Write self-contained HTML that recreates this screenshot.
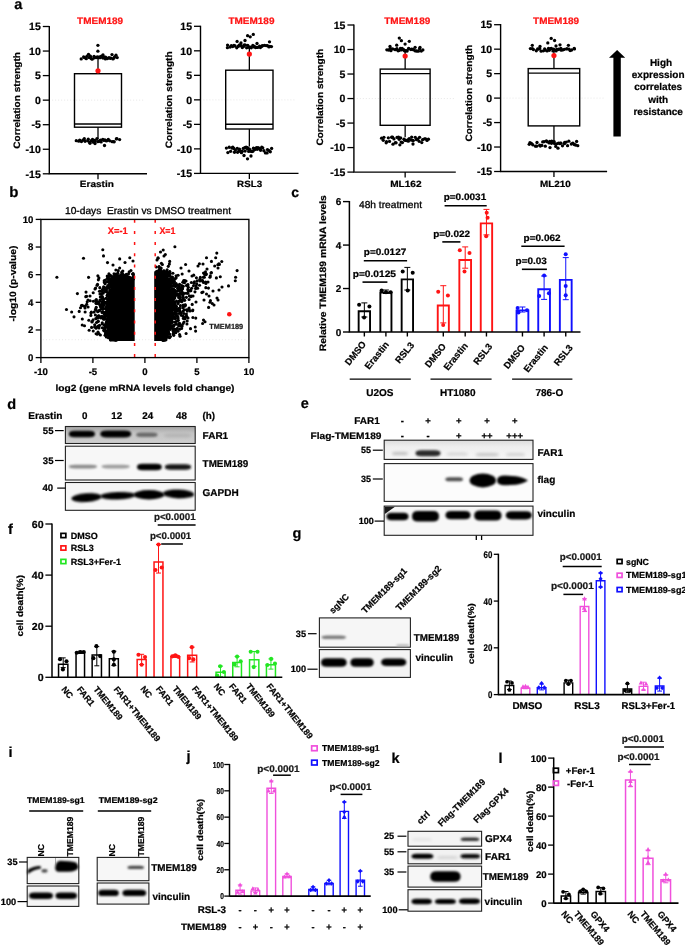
<!DOCTYPE html>
<html><head><meta charset="utf-8"><title>Figure</title>
<style>html,body{margin:0;padding:0;background:#fff;}body{width:685px;height:946px;overflow:hidden;font-family:"Liberation Sans",sans-serif;}svg{display:block;will-change:transform;}</style>
</head><body>
<svg width="685" height="946" viewBox="0 0 685 946" font-family="'Liberation Sans', sans-serif" font-weight="bold" text-rendering="geometricPrecision">
<text x="14.2" y="8.6" font-size="14.5" stroke="#000" stroke-width="0.22">a</text>
<line x1="52.3" y1="100.15" x2="145" y2="100.15" stroke="#cfcfcf" stroke-width="0.6" stroke-dasharray="0.8 2.2"/>
<path d="M49.3 25.9V173.8H147" stroke="#000" stroke-width="1.4" fill="none"/>
<line x1="42.8" y1="26.5" x2="49.3" y2="26.5" stroke="#000" stroke-width="1.3"/>
<text x="40.8" y="30.2" font-size="10.5" text-anchor="end" stroke="#000" stroke-width="0.22">15</text>
<line x1="42.8" y1="51.05" x2="49.3" y2="51.05" stroke="#000" stroke-width="1.3"/>
<text x="40.8" y="54.75" font-size="10.5" text-anchor="end" stroke="#000" stroke-width="0.22">10</text>
<line x1="42.8" y1="75.6" x2="49.3" y2="75.6" stroke="#000" stroke-width="1.3"/>
<text x="40.8" y="79.3" font-size="10.5" text-anchor="end" stroke="#000" stroke-width="0.22">5</text>
<line x1="42.8" y1="100.15" x2="49.3" y2="100.15" stroke="#000" stroke-width="1.3"/>
<text x="40.8" y="103.85" font-size="10.5" text-anchor="end" stroke="#000" stroke-width="0.22">0</text>
<line x1="42.8" y1="124.7" x2="49.3" y2="124.7" stroke="#000" stroke-width="1.3"/>
<text x="40.8" y="128.4" font-size="10.5" text-anchor="end" stroke="#000" stroke-width="0.22">-5</text>
<line x1="42.8" y1="149.25" x2="49.3" y2="149.25" stroke="#000" stroke-width="1.3"/>
<text x="40.8" y="152.95" font-size="10.5" text-anchor="end" stroke="#000" stroke-width="0.22">-10</text>
<line x1="42.8" y1="173.8" x2="49.3" y2="173.8" stroke="#000" stroke-width="1.3"/>
<text x="40.8" y="177.5" font-size="10.5" text-anchor="end" stroke="#000" stroke-width="0.22">-15</text>
<line x1="98" y1="173.8" x2="98" y2="179.3" stroke="#000" stroke-width="1.3"/>
<text x="96.8" y="186.8" font-size="9" text-anchor="middle" stroke="#000" stroke-width="0.22" textLength="34" lengthAdjust="spacingAndGlyphs">Erastin</text>
<text x="20" y="100.4" font-size="9.3" text-anchor="middle" stroke="#000" stroke-width="0.22" transform="rotate(-90 20 100.4)" textLength="96.8" lengthAdjust="spacingAndGlyphs">Correlation strength</text>
<text x="100.1" y="24.4" font-size="9.4" text-anchor="middle" fill="#ff1414" stroke="#ff1414" stroke-width="0.22" textLength="46" lengthAdjust="spacingAndGlyphs">TMEM189</text>
<line x1="98" y1="57.5" x2="98" y2="73.7" stroke="#000" stroke-width="1.3"/>
<line x1="98" y1="127.2" x2="98" y2="139" stroke="#000" stroke-width="1.3"/>
<rect x="74.5" y="73.7" width="47" height="53.5" fill="none" stroke="#000" stroke-width="1.4"/>
<line x1="74.5" y1="124" x2="121.5" y2="124" stroke="#000" stroke-width="1.4"/>
<circle cx="81.2" cy="58.91" r="1.65" fill="#000"/>
<circle cx="83.62" cy="57.02" r="1.65" fill="#000"/>
<circle cx="84.67" cy="57.64" r="1.65" fill="#000"/>
<circle cx="86.28" cy="58.72" r="1.65" fill="#000"/>
<circle cx="86.89" cy="56.29" r="1.65" fill="#000"/>
<circle cx="89.18" cy="57.58" r="1.65" fill="#000"/>
<circle cx="90.36" cy="56.21" r="1.65" fill="#000"/>
<circle cx="91.2" cy="58.51" r="1.65" fill="#000"/>
<circle cx="92.14" cy="59.22" r="1.65" fill="#000"/>
<circle cx="94.07" cy="56.3" r="1.65" fill="#000"/>
<circle cx="94.21" cy="57.93" r="1.65" fill="#000"/>
<circle cx="96.27" cy="57.42" r="1.65" fill="#000"/>
<circle cx="96.55" cy="57.55" r="1.65" fill="#000"/>
<circle cx="97.37" cy="56.91" r="1.65" fill="#000"/>
<circle cx="98.73" cy="57.79" r="1.65" fill="#000"/>
<circle cx="99.46" cy="56.94" r="1.65" fill="#000"/>
<circle cx="100.39" cy="57.67" r="1.65" fill="#000"/>
<circle cx="101.45" cy="56.27" r="1.65" fill="#000"/>
<circle cx="103.05" cy="57.98" r="1.65" fill="#000"/>
<circle cx="103.92" cy="56.79" r="1.65" fill="#000"/>
<circle cx="105.45" cy="58.95" r="1.65" fill="#000"/>
<circle cx="105.6" cy="57.26" r="1.65" fill="#000"/>
<circle cx="107.5" cy="58.48" r="1.65" fill="#000"/>
<circle cx="109.02" cy="57.55" r="1.65" fill="#000"/>
<circle cx="110.18" cy="58.34" r="1.65" fill="#000"/>
<circle cx="110.8" cy="58.08" r="1.65" fill="#000"/>
<circle cx="112.96" cy="58.91" r="1.65" fill="#000"/>
<circle cx="113.83" cy="58.08" r="1.65" fill="#000"/>
<circle cx="114.59" cy="56.98" r="1.65" fill="#000"/>
<circle cx="117.19" cy="57.53" r="1.65" fill="#000"/>
<circle cx="76.28" cy="140.69" r="1.65" fill="#000"/>
<circle cx="78.7" cy="141.16" r="1.65" fill="#000"/>
<circle cx="79.73" cy="140.27" r="1.65" fill="#000"/>
<circle cx="81.44" cy="141.56" r="1.65" fill="#000"/>
<circle cx="82.92" cy="140.09" r="1.65" fill="#000"/>
<circle cx="84.31" cy="138.71" r="1.65" fill="#000"/>
<circle cx="85.08" cy="141.27" r="1.65" fill="#000"/>
<circle cx="87.7" cy="140.85" r="1.65" fill="#000"/>
<circle cx="88.24" cy="139.25" r="1.65" fill="#000"/>
<circle cx="89.65" cy="142.33" r="1.65" fill="#000"/>
<circle cx="91.22" cy="140.65" r="1.65" fill="#000"/>
<circle cx="92.51" cy="139.48" r="1.65" fill="#000"/>
<circle cx="93.26" cy="142.22" r="1.65" fill="#000"/>
<circle cx="94.46" cy="140.34" r="1.65" fill="#000"/>
<circle cx="95.21" cy="140.68" r="1.65" fill="#000"/>
<circle cx="96.97" cy="138.62" r="1.65" fill="#000"/>
<circle cx="97.79" cy="141.72" r="1.65" fill="#000"/>
<circle cx="98.88" cy="141.41" r="1.65" fill="#000"/>
<circle cx="99.82" cy="140.57" r="1.65" fill="#000"/>
<circle cx="100.61" cy="140.22" r="1.65" fill="#000"/>
<circle cx="101.14" cy="141.91" r="1.65" fill="#000"/>
<circle cx="102.83" cy="139.36" r="1.65" fill="#000"/>
<circle cx="103.92" cy="140.44" r="1.65" fill="#000"/>
<circle cx="104.94" cy="139.92" r="1.65" fill="#000"/>
<circle cx="106.4" cy="140.97" r="1.65" fill="#000"/>
<circle cx="107.77" cy="140.34" r="1.65" fill="#000"/>
<circle cx="108.31" cy="139.47" r="1.65" fill="#000"/>
<circle cx="109.85" cy="140.82" r="1.65" fill="#000"/>
<circle cx="112.19" cy="141.63" r="1.65" fill="#000"/>
<circle cx="113.54" cy="141.7" r="1.65" fill="#000"/>
<circle cx="114.21" cy="141.8" r="1.65" fill="#000"/>
<circle cx="116.34" cy="138.92" r="1.65" fill="#000"/>
<circle cx="116.87" cy="138.66" r="1.65" fill="#000"/>
<circle cx="119.61" cy="139.55" r="1.65" fill="#000"/>
<circle cx="97.9" cy="45.3" r="1.65" fill="#000"/>
<circle cx="97.9" cy="51.2" r="1.65" fill="#000"/>
<circle cx="88.5" cy="54.3" r="1.65" fill="#000"/>
<circle cx="112" cy="54.6" r="1.65" fill="#000"/>
<circle cx="116" cy="55.2" r="1.65" fill="#000"/>
<circle cx="103" cy="55" r="1.65" fill="#000"/>
<circle cx="104.5" cy="145.5" r="1.65" fill="#000"/>
<circle cx="95" cy="143.5" r="1.65" fill="#000"/>
<circle cx="90" cy="143.3" r="1.65" fill="#000"/>
<circle cx="98" cy="70.8" r="2.6" fill="#ff1414"/>
<line x1="203.5" y1="99.85" x2="296.5" y2="99.85" stroke="#cfcfcf" stroke-width="0.6" stroke-dasharray="0.8 2.2"/>
<path d="M200.5 25.7V173.4H298.5" stroke="#000" stroke-width="1.4" fill="none"/>
<line x1="194" y1="26.3" x2="200.5" y2="26.3" stroke="#000" stroke-width="1.3"/>
<text x="192" y="30" font-size="10.5" text-anchor="end" stroke="#000" stroke-width="0.22">15</text>
<line x1="194" y1="50.82" x2="200.5" y2="50.82" stroke="#000" stroke-width="1.3"/>
<text x="192" y="54.52" font-size="10.5" text-anchor="end" stroke="#000" stroke-width="0.22">10</text>
<line x1="194" y1="75.33" x2="200.5" y2="75.33" stroke="#000" stroke-width="1.3"/>
<text x="192" y="79.03" font-size="10.5" text-anchor="end" stroke="#000" stroke-width="0.22">5</text>
<line x1="194" y1="99.85" x2="200.5" y2="99.85" stroke="#000" stroke-width="1.3"/>
<text x="192" y="103.55" font-size="10.5" text-anchor="end" stroke="#000" stroke-width="0.22">0</text>
<line x1="194" y1="124.37" x2="200.5" y2="124.37" stroke="#000" stroke-width="1.3"/>
<text x="192" y="128.07" font-size="10.5" text-anchor="end" stroke="#000" stroke-width="0.22">-5</text>
<line x1="194" y1="148.88" x2="200.5" y2="148.88" stroke="#000" stroke-width="1.3"/>
<text x="192" y="152.58" font-size="10.5" text-anchor="end" stroke="#000" stroke-width="0.22">-10</text>
<line x1="194" y1="173.4" x2="200.5" y2="173.4" stroke="#000" stroke-width="1.3"/>
<text x="192" y="177.1" font-size="10.5" text-anchor="end" stroke="#000" stroke-width="0.22">-15</text>
<line x1="249.35" y1="173.4" x2="249.35" y2="178.9" stroke="#000" stroke-width="1.3"/>
<text x="249.6" y="186.8" font-size="9" text-anchor="middle" stroke="#000" stroke-width="0.22" textLength="25" lengthAdjust="spacingAndGlyphs">RSL3</text>
<text x="172" y="99.8" font-size="9.3" text-anchor="middle" stroke="#000" stroke-width="0.22" transform="rotate(-90 172 99.8)" textLength="96.8" lengthAdjust="spacingAndGlyphs">Correlation strength</text>
<text x="251.45" y="24.4" font-size="9.4" text-anchor="middle" fill="#ff1414" stroke="#ff1414" stroke-width="0.22" textLength="46" lengthAdjust="spacingAndGlyphs">TMEM189</text>
<line x1="249.35" y1="47" x2="249.35" y2="70.2" stroke="#000" stroke-width="1.3"/>
<line x1="249.35" y1="129" x2="249.35" y2="146.6" stroke="#000" stroke-width="1.3"/>
<rect x="225.7" y="70.2" width="47.3" height="58.8" fill="none" stroke="#000" stroke-width="1.4"/>
<line x1="225.7" y1="124.3" x2="273" y2="124.3" stroke="#000" stroke-width="1.4"/>
<circle cx="227.43" cy="47.64" r="1.65" fill="#000"/>
<circle cx="227.58" cy="45.05" r="1.65" fill="#000"/>
<circle cx="230.16" cy="47.01" r="1.65" fill="#000"/>
<circle cx="231.34" cy="45.72" r="1.65" fill="#000"/>
<circle cx="232.63" cy="46.62" r="1.65" fill="#000"/>
<circle cx="233.95" cy="45.28" r="1.65" fill="#000"/>
<circle cx="235.07" cy="45.98" r="1.65" fill="#000"/>
<circle cx="236.74" cy="47.78" r="1.65" fill="#000"/>
<circle cx="238.27" cy="46.43" r="1.65" fill="#000"/>
<circle cx="238.87" cy="45.6" r="1.65" fill="#000"/>
<circle cx="239.58" cy="44.88" r="1.65" fill="#000"/>
<circle cx="241.25" cy="45.76" r="1.65" fill="#000"/>
<circle cx="242.29" cy="47.48" r="1.65" fill="#000"/>
<circle cx="243.55" cy="46.48" r="1.65" fill="#000"/>
<circle cx="244.31" cy="44.87" r="1.65" fill="#000"/>
<circle cx="245.45" cy="45.21" r="1.65" fill="#000"/>
<circle cx="246.64" cy="47.8" r="1.65" fill="#000"/>
<circle cx="247.77" cy="45.35" r="1.65" fill="#000"/>
<circle cx="248.9" cy="47.19" r="1.65" fill="#000"/>
<circle cx="249.68" cy="47.52" r="1.65" fill="#000"/>
<circle cx="250.65" cy="47.17" r="1.65" fill="#000"/>
<circle cx="251.23" cy="47.74" r="1.65" fill="#000"/>
<circle cx="252.85" cy="45.28" r="1.65" fill="#000"/>
<circle cx="253.68" cy="46.95" r="1.65" fill="#000"/>
<circle cx="254.43" cy="46.39" r="1.65" fill="#000"/>
<circle cx="255.56" cy="47.57" r="1.65" fill="#000"/>
<circle cx="256.71" cy="47.29" r="1.65" fill="#000"/>
<circle cx="257.7" cy="47.45" r="1.65" fill="#000"/>
<circle cx="259.55" cy="46.18" r="1.65" fill="#000"/>
<circle cx="260.37" cy="47.56" r="1.65" fill="#000"/>
<circle cx="261.83" cy="46.26" r="1.65" fill="#000"/>
<circle cx="262.48" cy="45.77" r="1.65" fill="#000"/>
<circle cx="264.43" cy="45.3" r="1.65" fill="#000"/>
<circle cx="266.07" cy="45.6" r="1.65" fill="#000"/>
<circle cx="267.48" cy="45.73" r="1.65" fill="#000"/>
<circle cx="268.98" cy="46.92" r="1.65" fill="#000"/>
<circle cx="269.77" cy="46.35" r="1.65" fill="#000"/>
<circle cx="271.47" cy="46.56" r="1.65" fill="#000"/>
<circle cx="226.39" cy="148.09" r="1.65" fill="#000"/>
<circle cx="227.87" cy="152.59" r="1.65" fill="#000"/>
<circle cx="229.2" cy="147.27" r="1.65" fill="#000"/>
<circle cx="230.62" cy="151.3" r="1.65" fill="#000"/>
<circle cx="231.87" cy="147.99" r="1.65" fill="#000"/>
<circle cx="232.82" cy="147.16" r="1.65" fill="#000"/>
<circle cx="233.84" cy="148.49" r="1.65" fill="#000"/>
<circle cx="234.47" cy="152.23" r="1.65" fill="#000"/>
<circle cx="235.42" cy="150.04" r="1.65" fill="#000"/>
<circle cx="237.26" cy="148.32" r="1.65" fill="#000"/>
<circle cx="237.63" cy="152.26" r="1.65" fill="#000"/>
<circle cx="238.86" cy="151.25" r="1.65" fill="#000"/>
<circle cx="239.47" cy="149.05" r="1.65" fill="#000"/>
<circle cx="240.58" cy="150.97" r="1.65" fill="#000"/>
<circle cx="241.45" cy="152.72" r="1.65" fill="#000"/>
<circle cx="242.33" cy="151.32" r="1.65" fill="#000"/>
<circle cx="243.24" cy="148.39" r="1.65" fill="#000"/>
<circle cx="244.82" cy="147.77" r="1.65" fill="#000"/>
<circle cx="245.14" cy="151.09" r="1.65" fill="#000"/>
<circle cx="246.15" cy="147.07" r="1.65" fill="#000"/>
<circle cx="247.45" cy="147.74" r="1.65" fill="#000"/>
<circle cx="247.49" cy="148.93" r="1.65" fill="#000"/>
<circle cx="248.71" cy="151.4" r="1.65" fill="#000"/>
<circle cx="249.08" cy="148.89" r="1.65" fill="#000"/>
<circle cx="249.78" cy="149.58" r="1.65" fill="#000"/>
<circle cx="251.16" cy="151.39" r="1.65" fill="#000"/>
<circle cx="252.09" cy="151.49" r="1.65" fill="#000"/>
<circle cx="252.9" cy="151.17" r="1.65" fill="#000"/>
<circle cx="253.43" cy="148.2" r="1.65" fill="#000"/>
<circle cx="254.48" cy="148.76" r="1.65" fill="#000"/>
<circle cx="254.87" cy="149.58" r="1.65" fill="#000"/>
<circle cx="256.51" cy="147.59" r="1.65" fill="#000"/>
<circle cx="257.19" cy="149.24" r="1.65" fill="#000"/>
<circle cx="258.09" cy="147.69" r="1.65" fill="#000"/>
<circle cx="259.52" cy="148.41" r="1.65" fill="#000"/>
<circle cx="260.18" cy="149.4" r="1.65" fill="#000"/>
<circle cx="260.61" cy="150.26" r="1.65" fill="#000"/>
<circle cx="261.78" cy="147.15" r="1.65" fill="#000"/>
<circle cx="262.73" cy="147.8" r="1.65" fill="#000"/>
<circle cx="263.89" cy="150.74" r="1.65" fill="#000"/>
<circle cx="265.46" cy="152.9" r="1.65" fill="#000"/>
<circle cx="267.1" cy="152.97" r="1.65" fill="#000"/>
<circle cx="267.44" cy="149.56" r="1.65" fill="#000"/>
<circle cx="268.65" cy="150.47" r="1.65" fill="#000"/>
<circle cx="270.3" cy="151.76" r="1.65" fill="#000"/>
<circle cx="271.64" cy="148.39" r="1.65" fill="#000"/>
<circle cx="237.1" cy="41.4" r="1.65" fill="#000"/>
<circle cx="245" cy="40.5" r="1.65" fill="#000"/>
<circle cx="247.6" cy="35.7" r="1.65" fill="#000"/>
<circle cx="250.2" cy="36.8" r="1.65" fill="#000"/>
<circle cx="253.3" cy="34.4" r="1.65" fill="#000"/>
<circle cx="269.5" cy="41.8" r="1.65" fill="#000"/>
<circle cx="241" cy="43" r="1.65" fill="#000"/>
<circle cx="257" cy="43.5" r="1.65" fill="#000"/>
<circle cx="247.5" cy="158.8" r="1.65" fill="#000"/>
<circle cx="244" cy="155.5" r="1.65" fill="#000"/>
<circle cx="251" cy="156" r="1.65" fill="#000"/>
<circle cx="249.35" cy="54.1" r="2.6" fill="#ff1414"/>
<line x1="356.9" y1="98.55" x2="453.8" y2="98.55" stroke="#cfcfcf" stroke-width="0.6" stroke-dasharray="0.8 2.2"/>
<path d="M353.9 24.4V172.1H455.8" stroke="#000" stroke-width="1.4" fill="none"/>
<line x1="347.4" y1="25" x2="353.9" y2="25" stroke="#000" stroke-width="1.3"/>
<text x="345.4" y="28.7" font-size="10.5" text-anchor="end" stroke="#000" stroke-width="0.22">15</text>
<line x1="347.4" y1="49.52" x2="353.9" y2="49.52" stroke="#000" stroke-width="1.3"/>
<text x="345.4" y="53.22" font-size="10.5" text-anchor="end" stroke="#000" stroke-width="0.22">10</text>
<line x1="347.4" y1="74.03" x2="353.9" y2="74.03" stroke="#000" stroke-width="1.3"/>
<text x="345.4" y="77.73" font-size="10.5" text-anchor="end" stroke="#000" stroke-width="0.22">5</text>
<line x1="347.4" y1="98.55" x2="353.9" y2="98.55" stroke="#000" stroke-width="1.3"/>
<text x="345.4" y="102.25" font-size="10.5" text-anchor="end" stroke="#000" stroke-width="0.22">0</text>
<line x1="347.4" y1="123.07" x2="353.9" y2="123.07" stroke="#000" stroke-width="1.3"/>
<text x="345.4" y="126.77" font-size="10.5" text-anchor="end" stroke="#000" stroke-width="0.22">-5</text>
<line x1="347.4" y1="147.58" x2="353.9" y2="147.58" stroke="#000" stroke-width="1.3"/>
<text x="345.4" y="151.28" font-size="10.5" text-anchor="end" stroke="#000" stroke-width="0.22">-10</text>
<line x1="347.4" y1="172.1" x2="353.9" y2="172.1" stroke="#000" stroke-width="1.3"/>
<text x="345.4" y="175.8" font-size="10.5" text-anchor="end" stroke="#000" stroke-width="0.22">-15</text>
<line x1="405.15" y1="172.1" x2="405.15" y2="177.6" stroke="#000" stroke-width="1.3"/>
<text x="405.9" y="186.8" font-size="9" text-anchor="middle" stroke="#000" stroke-width="0.22" textLength="31.4" lengthAdjust="spacingAndGlyphs">ML162</text>
<text x="322.8" y="97.2" font-size="9.3" text-anchor="middle" stroke="#000" stroke-width="0.22" transform="rotate(-90 322.8 97.2)" textLength="96.8" lengthAdjust="spacingAndGlyphs">Correlation strength</text>
<text x="407.25" y="24.4" font-size="9.4" text-anchor="middle" fill="#ff1414" stroke="#ff1414" stroke-width="0.22" textLength="46" lengthAdjust="spacingAndGlyphs">TMEM189</text>
<line x1="405.15" y1="51" x2="405.15" y2="69.1" stroke="#000" stroke-width="1.3"/>
<line x1="405.15" y1="125.3" x2="405.15" y2="137.2" stroke="#000" stroke-width="1.3"/>
<rect x="380.2" y="69.1" width="49.9" height="56.2" fill="none" stroke="#000" stroke-width="1.4"/>
<line x1="380.2" y1="73.6" x2="430.1" y2="73.6" stroke="#000" stroke-width="1.4"/>
<circle cx="386.86" cy="49.83" r="1.65" fill="#000"/>
<circle cx="388.55" cy="50.01" r="1.65" fill="#000"/>
<circle cx="390.35" cy="48.4" r="1.65" fill="#000"/>
<circle cx="390.9" cy="50.71" r="1.65" fill="#000"/>
<circle cx="392.61" cy="48.9" r="1.65" fill="#000"/>
<circle cx="394.89" cy="49.61" r="1.65" fill="#000"/>
<circle cx="395.95" cy="49.63" r="1.65" fill="#000"/>
<circle cx="396.93" cy="48.65" r="1.65" fill="#000"/>
<circle cx="398.12" cy="50.8" r="1.65" fill="#000"/>
<circle cx="399.14" cy="50.42" r="1.65" fill="#000"/>
<circle cx="400.42" cy="48.39" r="1.65" fill="#000"/>
<circle cx="401.58" cy="49.97" r="1.65" fill="#000"/>
<circle cx="402.14" cy="48.29" r="1.65" fill="#000"/>
<circle cx="403.69" cy="49.62" r="1.65" fill="#000"/>
<circle cx="404.49" cy="50.84" r="1.65" fill="#000"/>
<circle cx="405.41" cy="50.96" r="1.65" fill="#000"/>
<circle cx="406.06" cy="50.6" r="1.65" fill="#000"/>
<circle cx="407.1" cy="51.01" r="1.65" fill="#000"/>
<circle cx="408.59" cy="48.49" r="1.65" fill="#000"/>
<circle cx="408.87" cy="48.85" r="1.65" fill="#000"/>
<circle cx="410.92" cy="49.51" r="1.65" fill="#000"/>
<circle cx="411.69" cy="49.1" r="1.65" fill="#000"/>
<circle cx="412.74" cy="49.36" r="1.65" fill="#000"/>
<circle cx="413.78" cy="49.96" r="1.65" fill="#000"/>
<circle cx="415.36" cy="50.91" r="1.65" fill="#000"/>
<circle cx="416.81" cy="50.99" r="1.65" fill="#000"/>
<circle cx="418.42" cy="51.17" r="1.65" fill="#000"/>
<circle cx="419.57" cy="48.69" r="1.65" fill="#000"/>
<circle cx="421.29" cy="51.09" r="1.65" fill="#000"/>
<circle cx="422.86" cy="49.91" r="1.65" fill="#000"/>
<circle cx="381.59" cy="138.22" r="1.65" fill="#000"/>
<circle cx="383.25" cy="140.33" r="1.65" fill="#000"/>
<circle cx="383.92" cy="137.37" r="1.65" fill="#000"/>
<circle cx="386.17" cy="142.74" r="1.65" fill="#000"/>
<circle cx="386.5" cy="141.64" r="1.65" fill="#000"/>
<circle cx="388.34" cy="137.87" r="1.65" fill="#000"/>
<circle cx="389.53" cy="141.46" r="1.65" fill="#000"/>
<circle cx="391.61" cy="137.26" r="1.65" fill="#000"/>
<circle cx="392.55" cy="137.26" r="1.65" fill="#000"/>
<circle cx="393.94" cy="138.92" r="1.65" fill="#000"/>
<circle cx="395.35" cy="142.69" r="1.65" fill="#000"/>
<circle cx="396.09" cy="142.79" r="1.65" fill="#000"/>
<circle cx="397.03" cy="137.45" r="1.65" fill="#000"/>
<circle cx="398.49" cy="137.18" r="1.65" fill="#000"/>
<circle cx="399.15" cy="139.37" r="1.65" fill="#000"/>
<circle cx="400.67" cy="137.91" r="1.65" fill="#000"/>
<circle cx="401.12" cy="142.03" r="1.65" fill="#000"/>
<circle cx="402.42" cy="142.56" r="1.65" fill="#000"/>
<circle cx="403.97" cy="139.19" r="1.65" fill="#000"/>
<circle cx="404.5" cy="140.02" r="1.65" fill="#000"/>
<circle cx="405.6" cy="140.45" r="1.65" fill="#000"/>
<circle cx="406.47" cy="140.6" r="1.65" fill="#000"/>
<circle cx="407.83" cy="139.94" r="1.65" fill="#000"/>
<circle cx="408.33" cy="141.18" r="1.65" fill="#000"/>
<circle cx="409.17" cy="138.75" r="1.65" fill="#000"/>
<circle cx="411.04" cy="140.02" r="1.65" fill="#000"/>
<circle cx="411.67" cy="137.07" r="1.65" fill="#000"/>
<circle cx="412.65" cy="140.36" r="1.65" fill="#000"/>
<circle cx="413.35" cy="140.57" r="1.65" fill="#000"/>
<circle cx="415.27" cy="137.35" r="1.65" fill="#000"/>
<circle cx="416.49" cy="139.7" r="1.65" fill="#000"/>
<circle cx="417.82" cy="139.04" r="1.65" fill="#000"/>
<circle cx="419.15" cy="141.28" r="1.65" fill="#000"/>
<circle cx="419.56" cy="137.35" r="1.65" fill="#000"/>
<circle cx="421.78" cy="142.59" r="1.65" fill="#000"/>
<circle cx="422.57" cy="139.65" r="1.65" fill="#000"/>
<circle cx="424.46" cy="138.86" r="1.65" fill="#000"/>
<circle cx="425.57" cy="138.81" r="1.65" fill="#000"/>
<circle cx="427.04" cy="140.45" r="1.65" fill="#000"/>
<circle cx="428.44" cy="139.19" r="1.65" fill="#000"/>
<circle cx="399.3" cy="38.1" r="1.65" fill="#000"/>
<circle cx="401.4" cy="40.7" r="1.65" fill="#000"/>
<circle cx="409.3" cy="41.3" r="1.65" fill="#000"/>
<circle cx="396.7" cy="45.2" r="1.65" fill="#000"/>
<circle cx="405.1" cy="44.1" r="1.65" fill="#000"/>
<circle cx="415.1" cy="47.3" r="1.65" fill="#000"/>
<circle cx="390" cy="46.5" r="1.65" fill="#000"/>
<circle cx="420" cy="47.5" r="1.65" fill="#000"/>
<circle cx="399.9" cy="144.8" r="1.65" fill="#000"/>
<circle cx="393" cy="144.2" r="1.65" fill="#000"/>
<circle cx="413" cy="144" r="1.65" fill="#000"/>
<circle cx="405.15" cy="56" r="2.6" fill="#ff1414"/>
<line x1="503.6" y1="98.1" x2="605.1" y2="98.1" stroke="#cfcfcf" stroke-width="0.6" stroke-dasharray="0.8 2.2"/>
<path d="M500.6 24.1V171.5H607.1" stroke="#000" stroke-width="1.4" fill="none"/>
<line x1="494.1" y1="24.7" x2="500.6" y2="24.7" stroke="#000" stroke-width="1.3"/>
<text x="492.1" y="28.4" font-size="10.5" text-anchor="end" stroke="#000" stroke-width="0.22">15</text>
<line x1="494.1" y1="49.17" x2="500.6" y2="49.17" stroke="#000" stroke-width="1.3"/>
<text x="492.1" y="52.87" font-size="10.5" text-anchor="end" stroke="#000" stroke-width="0.22">10</text>
<line x1="494.1" y1="73.63" x2="500.6" y2="73.63" stroke="#000" stroke-width="1.3"/>
<text x="492.1" y="77.33" font-size="10.5" text-anchor="end" stroke="#000" stroke-width="0.22">5</text>
<line x1="494.1" y1="98.1" x2="500.6" y2="98.1" stroke="#000" stroke-width="1.3"/>
<text x="492.1" y="101.8" font-size="10.5" text-anchor="end" stroke="#000" stroke-width="0.22">0</text>
<line x1="494.1" y1="122.57" x2="500.6" y2="122.57" stroke="#000" stroke-width="1.3"/>
<text x="492.1" y="126.27" font-size="10.5" text-anchor="end" stroke="#000" stroke-width="0.22">-5</text>
<line x1="494.1" y1="147.03" x2="500.6" y2="147.03" stroke="#000" stroke-width="1.3"/>
<text x="492.1" y="150.73" font-size="10.5" text-anchor="end" stroke="#000" stroke-width="0.22">-10</text>
<line x1="494.1" y1="171.5" x2="500.6" y2="171.5" stroke="#000" stroke-width="1.3"/>
<text x="492.1" y="175.2" font-size="10.5" text-anchor="end" stroke="#000" stroke-width="0.22">-15</text>
<line x1="553.95" y1="171.5" x2="553.95" y2="177" stroke="#000" stroke-width="1.3"/>
<text x="555.3" y="186.8" font-size="9" text-anchor="middle" stroke="#000" stroke-width="0.22" textLength="30.8" lengthAdjust="spacingAndGlyphs">ML210</text>
<text x="471.6" y="93.2" font-size="9.3" text-anchor="middle" stroke="#000" stroke-width="0.22" transform="rotate(-90 471.6 93.2)" textLength="96.8" lengthAdjust="spacingAndGlyphs">Correlation strength</text>
<text x="556.05" y="24.4" font-size="9.4" text-anchor="middle" fill="#ff1414" stroke="#ff1414" stroke-width="0.22" textLength="46" lengthAdjust="spacingAndGlyphs">TMEM189</text>
<line x1="553.95" y1="50.5" x2="553.95" y2="68.6" stroke="#000" stroke-width="1.3"/>
<line x1="553.95" y1="125.9" x2="553.95" y2="141" stroke="#000" stroke-width="1.3"/>
<rect x="528.2" y="68.6" width="51.5" height="57.3" fill="none" stroke="#000" stroke-width="1.4"/>
<line x1="528.2" y1="73.1" x2="579.7" y2="73.1" stroke="#000" stroke-width="1.4"/>
<circle cx="530.4" cy="48.53" r="1.65" fill="#000"/>
<circle cx="532.32" cy="48.7" r="1.65" fill="#000"/>
<circle cx="533.41" cy="49.49" r="1.65" fill="#000"/>
<circle cx="536.32" cy="50.76" r="1.65" fill="#000"/>
<circle cx="537.61" cy="48.91" r="1.65" fill="#000"/>
<circle cx="538.75" cy="49.09" r="1.65" fill="#000"/>
<circle cx="539.68" cy="48.54" r="1.65" fill="#000"/>
<circle cx="541.17" cy="51.17" r="1.65" fill="#000"/>
<circle cx="543.38" cy="50.78" r="1.65" fill="#000"/>
<circle cx="544.66" cy="48.82" r="1.65" fill="#000"/>
<circle cx="545.32" cy="50.21" r="1.65" fill="#000"/>
<circle cx="547.1" cy="50.93" r="1.65" fill="#000"/>
<circle cx="548.48" cy="48.48" r="1.65" fill="#000"/>
<circle cx="549.33" cy="50.35" r="1.65" fill="#000"/>
<circle cx="550.35" cy="48.77" r="1.65" fill="#000"/>
<circle cx="551.4" cy="48.49" r="1.65" fill="#000"/>
<circle cx="552.93" cy="50.97" r="1.65" fill="#000"/>
<circle cx="553.56" cy="49.16" r="1.65" fill="#000"/>
<circle cx="555.01" cy="50.03" r="1.65" fill="#000"/>
<circle cx="556.09" cy="50.91" r="1.65" fill="#000"/>
<circle cx="556.8" cy="49.52" r="1.65" fill="#000"/>
<circle cx="558.09" cy="49.58" r="1.65" fill="#000"/>
<circle cx="558.77" cy="49.18" r="1.65" fill="#000"/>
<circle cx="560.84" cy="48.34" r="1.65" fill="#000"/>
<circle cx="561.14" cy="50.2" r="1.65" fill="#000"/>
<circle cx="562.77" cy="49.91" r="1.65" fill="#000"/>
<circle cx="564.4" cy="49.3" r="1.65" fill="#000"/>
<circle cx="566.57" cy="48.83" r="1.65" fill="#000"/>
<circle cx="567.17" cy="48.85" r="1.65" fill="#000"/>
<circle cx="568.99" cy="49.08" r="1.65" fill="#000"/>
<circle cx="570.1" cy="50.59" r="1.65" fill="#000"/>
<circle cx="571.61" cy="49.99" r="1.65" fill="#000"/>
<circle cx="574.17" cy="48.52" r="1.65" fill="#000"/>
<circle cx="574.43" cy="48.93" r="1.65" fill="#000"/>
<circle cx="529.21" cy="144.28" r="1.65" fill="#000"/>
<circle cx="529.95" cy="142.72" r="1.65" fill="#000"/>
<circle cx="531.39" cy="143.42" r="1.65" fill="#000"/>
<circle cx="532.7" cy="144.74" r="1.65" fill="#000"/>
<circle cx="535.42" cy="146.15" r="1.65" fill="#000"/>
<circle cx="536.62" cy="146.18" r="1.65" fill="#000"/>
<circle cx="537.01" cy="142.49" r="1.65" fill="#000"/>
<circle cx="539.68" cy="145.16" r="1.65" fill="#000"/>
<circle cx="540.28" cy="146.09" r="1.65" fill="#000"/>
<circle cx="541.86" cy="145.4" r="1.65" fill="#000"/>
<circle cx="542.72" cy="141.95" r="1.65" fill="#000"/>
<circle cx="544.15" cy="141.65" r="1.65" fill="#000"/>
<circle cx="545.29" cy="146.19" r="1.65" fill="#000"/>
<circle cx="546.41" cy="140.95" r="1.65" fill="#000"/>
<circle cx="547.24" cy="141.83" r="1.65" fill="#000"/>
<circle cx="549.18" cy="142.89" r="1.65" fill="#000"/>
<circle cx="549.73" cy="141.43" r="1.65" fill="#000"/>
<circle cx="551.51" cy="143.23" r="1.65" fill="#000"/>
<circle cx="551.74" cy="141.23" r="1.65" fill="#000"/>
<circle cx="552.58" cy="141.83" r="1.65" fill="#000"/>
<circle cx="554.15" cy="141.72" r="1.65" fill="#000"/>
<circle cx="554.51" cy="143.6" r="1.65" fill="#000"/>
<circle cx="555.73" cy="146.39" r="1.65" fill="#000"/>
<circle cx="556.64" cy="143.81" r="1.65" fill="#000"/>
<circle cx="558.43" cy="143.15" r="1.65" fill="#000"/>
<circle cx="559.8" cy="143.53" r="1.65" fill="#000"/>
<circle cx="560.09" cy="143.16" r="1.65" fill="#000"/>
<circle cx="561.02" cy="143.22" r="1.65" fill="#000"/>
<circle cx="562.47" cy="145.79" r="1.65" fill="#000"/>
<circle cx="564.44" cy="143.64" r="1.65" fill="#000"/>
<circle cx="564.7" cy="142.3" r="1.65" fill="#000"/>
<circle cx="566.26" cy="142.04" r="1.65" fill="#000"/>
<circle cx="567.58" cy="145.68" r="1.65" fill="#000"/>
<circle cx="568.82" cy="141.18" r="1.65" fill="#000"/>
<circle cx="571.33" cy="144.01" r="1.65" fill="#000"/>
<circle cx="572.87" cy="143.12" r="1.65" fill="#000"/>
<circle cx="574.21" cy="144.5" r="1.65" fill="#000"/>
<circle cx="575.56" cy="145" r="1.65" fill="#000"/>
<circle cx="576.64" cy="141.41" r="1.65" fill="#000"/>
<circle cx="577.75" cy="145.71" r="1.65" fill="#000"/>
<circle cx="551.2" cy="38.4" r="1.65" fill="#000"/>
<circle cx="554.6" cy="40.5" r="1.65" fill="#000"/>
<circle cx="547.8" cy="42.9" r="1.65" fill="#000"/>
<circle cx="532.3" cy="45.3" r="1.65" fill="#000"/>
<circle cx="568.4" cy="45.3" r="1.65" fill="#000"/>
<circle cx="560" cy="44.8" r="1.65" fill="#000"/>
<circle cx="540" cy="46.5" r="1.65" fill="#000"/>
<circle cx="556" cy="46" r="1.65" fill="#000"/>
<circle cx="558" cy="148.2" r="1.65" fill="#000"/>
<circle cx="550" cy="147.6" r="1.65" fill="#000"/>
<circle cx="553.95" cy="55.6" r="2.6" fill="#ff1414"/>
<path d="M613.4 136.5V57.7H609L617.1 49.9L625.2 57.7H620.8V136.5Z" stroke="#000" stroke-width="0" fill="#000"/>
<text x="661" y="65.8" font-size="10" text-anchor="middle" stroke="#000" stroke-width="0.22">High</text>
<text x="658.2" y="77.9" font-size="10" text-anchor="middle" stroke="#000" stroke-width="0.22">expression</text>
<text x="658.2" y="89.9" font-size="10" text-anchor="middle" stroke="#000" stroke-width="0.22">correlates</text>
<text x="658.2" y="103.1" font-size="10" text-anchor="middle" stroke="#000" stroke-width="0.22">with</text>
<text x="658.2" y="115" font-size="10" text-anchor="middle" stroke="#000" stroke-width="0.22">resistance</text>
<text x="9.2" y="197.2" font-size="15" stroke="#000" stroke-width="0.22">b</text>
<text x="148" y="213.5" font-size="10" text-anchor="middle" font-weight="normal" stroke="#000" stroke-width="0.3" textLength="166" lengthAdjust="spacingAndGlyphs" xml:space="preserve">10-days  Erastin vs DMSO treatment</text>
<line x1="42.9" y1="339.7" x2="246.9" y2="339.7" stroke="#d0d0d0" stroke-width="0.6" stroke-dasharray="0.8 2.4"/>
<path d="M134.7 341 L115 341 L111 337 L108.5 331 L107.5 322 L107 310 L107.5 300 L109 292 L112 285 L116 279 L120 276 L125 274.5 L130 276 L134.7 279 Z" stroke="#000" stroke-width="0" fill="#000"/>
<path d="M154.2 341 L164 341 L167.5 334 L169.5 326 L171 316 L172 304 L171.5 292 L169.5 281 L166.5 274 L162 271 L157 271 L154.2 274 Z" stroke="#000" stroke-width="0" fill="#000"/>
<circle cx="103.34" cy="304.31" r="1.55" fill="#000"/>
<circle cx="110.46" cy="335.92" r="1.55" fill="#000"/>
<circle cx="102.7" cy="308.03" r="1.55" fill="#000"/>
<circle cx="108.19" cy="286.37" r="1.55" fill="#000"/>
<circle cx="98.03" cy="316.2" r="1.55" fill="#000"/>
<circle cx="114.4" cy="280.31" r="1.55" fill="#000"/>
<circle cx="105.47" cy="280.07" r="1.55" fill="#000"/>
<circle cx="108.94" cy="320.46" r="1.55" fill="#000"/>
<circle cx="110.54" cy="339.81" r="1.55" fill="#000"/>
<circle cx="102.43" cy="317.81" r="1.55" fill="#000"/>
<circle cx="113.99" cy="284.55" r="1.55" fill="#000"/>
<circle cx="108.4" cy="309.4" r="1.55" fill="#000"/>
<circle cx="111.11" cy="286.74" r="1.55" fill="#000"/>
<circle cx="117.41" cy="276.02" r="1.55" fill="#000"/>
<circle cx="96.19" cy="303.52" r="1.55" fill="#000"/>
<circle cx="101.7" cy="308.78" r="1.55" fill="#000"/>
<circle cx="101.32" cy="307.48" r="1.55" fill="#000"/>
<circle cx="106.79" cy="304.64" r="1.55" fill="#000"/>
<circle cx="110.59" cy="340" r="1.55" fill="#000"/>
<circle cx="103.81" cy="330.29" r="1.55" fill="#000"/>
<circle cx="108.39" cy="295.12" r="1.55" fill="#000"/>
<circle cx="110.03" cy="293.37" r="1.55" fill="#000"/>
<circle cx="106.09" cy="325.34" r="1.55" fill="#000"/>
<circle cx="107.8" cy="330.72" r="1.55" fill="#000"/>
<circle cx="109.96" cy="338.19" r="1.55" fill="#000"/>
<circle cx="95.62" cy="288.05" r="1.55" fill="#000"/>
<circle cx="81.51" cy="305.49" r="1.55" fill="#000"/>
<circle cx="108.74" cy="300.63" r="1.55" fill="#000"/>
<circle cx="98.51" cy="316.17" r="1.55" fill="#000"/>
<circle cx="110.15" cy="292.07" r="1.55" fill="#000"/>
<circle cx="86.71" cy="296.28" r="1.55" fill="#000"/>
<circle cx="108.73" cy="324.79" r="1.55" fill="#000"/>
<circle cx="110.69" cy="290.51" r="1.55" fill="#000"/>
<circle cx="107.95" cy="278.01" r="1.55" fill="#000"/>
<circle cx="107.68" cy="285.9" r="1.55" fill="#000"/>
<circle cx="107.62" cy="303.98" r="1.55" fill="#000"/>
<circle cx="108.43" cy="323.04" r="1.55" fill="#000"/>
<circle cx="108.23" cy="317.13" r="1.55" fill="#000"/>
<circle cx="107.51" cy="302.19" r="1.55" fill="#000"/>
<circle cx="86.02" cy="292.08" r="1.55" fill="#000"/>
<circle cx="107.71" cy="327.83" r="1.55" fill="#000"/>
<circle cx="110.29" cy="333.29" r="1.55" fill="#000"/>
<circle cx="95.79" cy="300.42" r="1.55" fill="#000"/>
<circle cx="108.35" cy="317" r="1.55" fill="#000"/>
<circle cx="115.76" cy="340" r="1.55" fill="#000"/>
<circle cx="100.73" cy="291.3" r="1.55" fill="#000"/>
<circle cx="107.58" cy="296.04" r="1.55" fill="#000"/>
<circle cx="117.25" cy="278.92" r="1.55" fill="#000"/>
<circle cx="106.98" cy="313.04" r="1.55" fill="#000"/>
<circle cx="105.73" cy="314.29" r="1.55" fill="#000"/>
<circle cx="86.7" cy="304.36" r="1.55" fill="#000"/>
<circle cx="103" cy="306.41" r="1.55" fill="#000"/>
<circle cx="109.83" cy="332.06" r="1.55" fill="#000"/>
<circle cx="97.51" cy="284.33" r="1.55" fill="#000"/>
<circle cx="108.39" cy="328.79" r="1.55" fill="#000"/>
<circle cx="103.65" cy="286.72" r="1.55" fill="#000"/>
<circle cx="112.24" cy="337.01" r="1.55" fill="#000"/>
<circle cx="108.43" cy="337.66" r="1.55" fill="#000"/>
<circle cx="105.15" cy="314.44" r="1.55" fill="#000"/>
<circle cx="116.22" cy="280.96" r="1.55" fill="#000"/>
<circle cx="113.75" cy="338.5" r="1.55" fill="#000"/>
<circle cx="107.19" cy="321.21" r="1.55" fill="#000"/>
<circle cx="104.98" cy="329.19" r="1.55" fill="#000"/>
<circle cx="109.14" cy="293.66" r="1.55" fill="#000"/>
<circle cx="108.83" cy="322.26" r="1.55" fill="#000"/>
<circle cx="106.22" cy="289.3" r="1.55" fill="#000"/>
<circle cx="105.68" cy="331.11" r="1.55" fill="#000"/>
<circle cx="93.2" cy="292.77" r="1.55" fill="#000"/>
<circle cx="112.54" cy="287.67" r="1.55" fill="#000"/>
<circle cx="106.66" cy="292.04" r="1.55" fill="#000"/>
<circle cx="117.71" cy="278.05" r="1.55" fill="#000"/>
<circle cx="103.6" cy="298.71" r="1.55" fill="#000"/>
<circle cx="112.11" cy="282.82" r="1.55" fill="#000"/>
<circle cx="96.1" cy="333.69" r="1.55" fill="#000"/>
<circle cx="100.91" cy="318.01" r="1.55" fill="#000"/>
<circle cx="107.87" cy="313.16" r="1.55" fill="#000"/>
<circle cx="121.21" cy="276.35" r="1.55" fill="#000"/>
<circle cx="107.87" cy="334.98" r="1.55" fill="#000"/>
<circle cx="114.26" cy="338.51" r="1.55" fill="#000"/>
<circle cx="104.47" cy="316.62" r="1.55" fill="#000"/>
<circle cx="106.72" cy="322.94" r="1.55" fill="#000"/>
<circle cx="116.67" cy="340" r="1.55" fill="#000"/>
<circle cx="99.48" cy="310.59" r="1.55" fill="#000"/>
<circle cx="106.8" cy="334.31" r="1.55" fill="#000"/>
<circle cx="98.23" cy="321.15" r="1.55" fill="#000"/>
<circle cx="110.68" cy="335.31" r="1.55" fill="#000"/>
<circle cx="93.04" cy="319.9" r="1.55" fill="#000"/>
<circle cx="108.49" cy="332.36" r="1.55" fill="#000"/>
<circle cx="96.89" cy="326.97" r="1.55" fill="#000"/>
<circle cx="102.03" cy="312.38" r="1.55" fill="#000"/>
<circle cx="103.25" cy="299.62" r="1.55" fill="#000"/>
<circle cx="108.41" cy="314.79" r="1.55" fill="#000"/>
<circle cx="74.02" cy="316.84" r="1.55" fill="#000"/>
<circle cx="105.66" cy="332.95" r="1.55" fill="#000"/>
<circle cx="100" cy="300.03" r="1.55" fill="#000"/>
<circle cx="104.86" cy="312.92" r="1.55" fill="#000"/>
<circle cx="109.75" cy="330.17" r="1.55" fill="#000"/>
<circle cx="109.34" cy="324.26" r="1.55" fill="#000"/>
<circle cx="104.39" cy="314.29" r="1.55" fill="#000"/>
<circle cx="103.51" cy="289.42" r="1.55" fill="#000"/>
<circle cx="102.26" cy="307.32" r="1.55" fill="#000"/>
<circle cx="111.32" cy="335.67" r="1.55" fill="#000"/>
<circle cx="123.43" cy="274.76" r="1.55" fill="#000"/>
<circle cx="107.61" cy="319.44" r="1.55" fill="#000"/>
<circle cx="97.11" cy="285.36" r="1.55" fill="#000"/>
<circle cx="105.06" cy="318.22" r="1.55" fill="#000"/>
<circle cx="109.91" cy="333.75" r="1.55" fill="#000"/>
<circle cx="107.61" cy="318.62" r="1.55" fill="#000"/>
<circle cx="97.68" cy="302.87" r="1.55" fill="#000"/>
<circle cx="105.1" cy="335.25" r="1.55" fill="#000"/>
<circle cx="103.22" cy="299.76" r="1.55" fill="#000"/>
<circle cx="109.17" cy="295.2" r="1.55" fill="#000"/>
<circle cx="96.23" cy="307.26" r="1.55" fill="#000"/>
<circle cx="104.08" cy="330.86" r="1.55" fill="#000"/>
<circle cx="112.69" cy="337.65" r="1.55" fill="#000"/>
<circle cx="109.46" cy="285.33" r="1.55" fill="#000"/>
<circle cx="109.03" cy="292.44" r="1.55" fill="#000"/>
<circle cx="102.33" cy="301.74" r="1.55" fill="#000"/>
<circle cx="106.29" cy="307.09" r="1.55" fill="#000"/>
<circle cx="89.14" cy="330.22" r="1.55" fill="#000"/>
<circle cx="108.54" cy="304.32" r="1.55" fill="#000"/>
<circle cx="107.22" cy="276.11" r="1.55" fill="#000"/>
<circle cx="112.13" cy="276.78" r="1.55" fill="#000"/>
<circle cx="106.31" cy="312.23" r="1.55" fill="#000"/>
<circle cx="109.73" cy="327.03" r="1.55" fill="#000"/>
<circle cx="110.82" cy="283.1" r="1.55" fill="#000"/>
<circle cx="110.55" cy="275.66" r="1.55" fill="#000"/>
<circle cx="110.63" cy="289.91" r="1.55" fill="#000"/>
<circle cx="113.33" cy="277.15" r="1.55" fill="#000"/>
<circle cx="102.15" cy="303.91" r="1.55" fill="#000"/>
<circle cx="97.6" cy="317.89" r="1.55" fill="#000"/>
<circle cx="111.56" cy="338.22" r="1.55" fill="#000"/>
<circle cx="108.28" cy="287.36" r="1.55" fill="#000"/>
<circle cx="113.31" cy="285.97" r="1.55" fill="#000"/>
<circle cx="100.25" cy="305.64" r="1.55" fill="#000"/>
<circle cx="111.15" cy="286" r="1.55" fill="#000"/>
<circle cx="101.47" cy="297.16" r="1.55" fill="#000"/>
<circle cx="102.19" cy="308.87" r="1.55" fill="#000"/>
<circle cx="106.1" cy="324.67" r="1.55" fill="#000"/>
<circle cx="94.54" cy="327.06" r="1.55" fill="#000"/>
<circle cx="98.36" cy="279.84" r="1.55" fill="#000"/>
<circle cx="108.37" cy="322.4" r="1.55" fill="#000"/>
<circle cx="102.2" cy="304.39" r="1.55" fill="#000"/>
<circle cx="110.35" cy="334.97" r="1.55" fill="#000"/>
<circle cx="94.09" cy="312.11" r="1.55" fill="#000"/>
<circle cx="91.58" cy="327.38" r="1.55" fill="#000"/>
<circle cx="101.67" cy="305.07" r="1.55" fill="#000"/>
<circle cx="103.67" cy="287.73" r="1.55" fill="#000"/>
<circle cx="104.12" cy="328.83" r="1.55" fill="#000"/>
<circle cx="107.63" cy="322.08" r="1.55" fill="#000"/>
<circle cx="97.28" cy="334.3" r="1.55" fill="#000"/>
<circle cx="114.02" cy="339.48" r="1.55" fill="#000"/>
<circle cx="107.34" cy="326.98" r="1.55" fill="#000"/>
<circle cx="105.38" cy="334.97" r="1.55" fill="#000"/>
<circle cx="109.19" cy="297.35" r="1.55" fill="#000"/>
<circle cx="103.53" cy="303.54" r="1.55" fill="#000"/>
<circle cx="105.01" cy="325.47" r="1.55" fill="#000"/>
<circle cx="110.53" cy="275.9" r="1.55" fill="#000"/>
<circle cx="107.48" cy="278.29" r="1.55" fill="#000"/>
<circle cx="110.69" cy="285.58" r="1.55" fill="#000"/>
<circle cx="108.84" cy="326.79" r="1.55" fill="#000"/>
<circle cx="109.41" cy="283.96" r="1.55" fill="#000"/>
<circle cx="96.53" cy="322.48" r="1.55" fill="#000"/>
<circle cx="88.83" cy="320.19" r="1.55" fill="#000"/>
<circle cx="88.1" cy="307" r="1.55" fill="#000"/>
<circle cx="115.54" cy="279.76" r="1.55" fill="#000"/>
<circle cx="106.44" cy="309.29" r="1.55" fill="#000"/>
<circle cx="102.26" cy="322.83" r="1.55" fill="#000"/>
<circle cx="95.86" cy="309.03" r="1.55" fill="#000"/>
<circle cx="106.25" cy="311.52" r="1.55" fill="#000"/>
<circle cx="96.32" cy="299.54" r="1.55" fill="#000"/>
<circle cx="110.84" cy="334.34" r="1.55" fill="#000"/>
<circle cx="93.23" cy="331" r="1.55" fill="#000"/>
<circle cx="102.89" cy="309.12" r="1.55" fill="#000"/>
<circle cx="107.37" cy="287.46" r="1.55" fill="#000"/>
<circle cx="102.41" cy="307.71" r="1.55" fill="#000"/>
<circle cx="97.86" cy="275.86" r="1.55" fill="#000"/>
<circle cx="105.29" cy="308.57" r="1.55" fill="#000"/>
<circle cx="104.77" cy="327.67" r="1.55" fill="#000"/>
<circle cx="100.73" cy="306.9" r="1.55" fill="#000"/>
<circle cx="113.16" cy="278.42" r="1.55" fill="#000"/>
<circle cx="87.21" cy="301.72" r="1.55" fill="#000"/>
<circle cx="111.37" cy="335.87" r="1.55" fill="#000"/>
<circle cx="108.06" cy="305.7" r="1.55" fill="#000"/>
<circle cx="97.31" cy="303.06" r="1.55" fill="#000"/>
<circle cx="109.33" cy="334.34" r="1.55" fill="#000"/>
<circle cx="108.7" cy="295.25" r="1.55" fill="#000"/>
<circle cx="90.87" cy="315.4" r="1.55" fill="#000"/>
<circle cx="104.77" cy="282.67" r="1.55" fill="#000"/>
<circle cx="121.87" cy="275.53" r="1.55" fill="#000"/>
<circle cx="103.86" cy="289.23" r="1.55" fill="#000"/>
<circle cx="107.06" cy="295.58" r="1.55" fill="#000"/>
<circle cx="108.25" cy="315.52" r="1.55" fill="#000"/>
<circle cx="108.49" cy="322.97" r="1.55" fill="#000"/>
<circle cx="106.87" cy="308.2" r="1.55" fill="#000"/>
<circle cx="107.55" cy="287.25" r="1.55" fill="#000"/>
<circle cx="105.84" cy="303.26" r="1.55" fill="#000"/>
<circle cx="103.94" cy="301.7" r="1.55" fill="#000"/>
<circle cx="112.4" cy="284.7" r="1.55" fill="#000"/>
<circle cx="101.94" cy="316.3" r="1.55" fill="#000"/>
<circle cx="95.49" cy="309.48" r="1.55" fill="#000"/>
<circle cx="95.4" cy="314.98" r="1.55" fill="#000"/>
<circle cx="102.38" cy="289.59" r="1.55" fill="#000"/>
<circle cx="96.05" cy="328.3" r="1.55" fill="#000"/>
<circle cx="107.56" cy="295.16" r="1.55" fill="#000"/>
<circle cx="111.56" cy="335.83" r="1.55" fill="#000"/>
<circle cx="114.3" cy="340" r="1.55" fill="#000"/>
<circle cx="113.24" cy="282.97" r="1.55" fill="#000"/>
<circle cx="107.27" cy="322.68" r="1.55" fill="#000"/>
<circle cx="104.31" cy="280.5" r="1.55" fill="#000"/>
<circle cx="98.27" cy="302.25" r="1.55" fill="#000"/>
<circle cx="111.9" cy="282.44" r="1.55" fill="#000"/>
<circle cx="109.09" cy="319.91" r="1.55" fill="#000"/>
<circle cx="104.72" cy="287.46" r="1.55" fill="#000"/>
<circle cx="100.39" cy="335.06" r="1.55" fill="#000"/>
<circle cx="111.05" cy="281.73" r="1.55" fill="#000"/>
<circle cx="104.72" cy="324.8" r="1.55" fill="#000"/>
<circle cx="107.75" cy="319.94" r="1.55" fill="#000"/>
<circle cx="117.38" cy="278.73" r="1.55" fill="#000"/>
<circle cx="115.51" cy="276.51" r="1.55" fill="#000"/>
<circle cx="102.99" cy="308.49" r="1.55" fill="#000"/>
<circle cx="113.16" cy="283.82" r="1.55" fill="#000"/>
<circle cx="99.82" cy="287.66" r="1.55" fill="#000"/>
<circle cx="112.74" cy="340" r="1.55" fill="#000"/>
<circle cx="116.43" cy="280.38" r="1.55" fill="#000"/>
<circle cx="112.12" cy="337.75" r="1.55" fill="#000"/>
<circle cx="106.89" cy="325.24" r="1.55" fill="#000"/>
<circle cx="103.97" cy="305.29" r="1.55" fill="#000"/>
<circle cx="102.73" cy="302.82" r="1.55" fill="#000"/>
<circle cx="117.06" cy="274.89" r="1.55" fill="#000"/>
<circle cx="109.23" cy="330.57" r="1.55" fill="#000"/>
<circle cx="99.67" cy="304.41" r="1.55" fill="#000"/>
<circle cx="107.72" cy="301.16" r="1.55" fill="#000"/>
<circle cx="108.74" cy="285.06" r="1.55" fill="#000"/>
<circle cx="109.37" cy="275.03" r="1.55" fill="#000"/>
<circle cx="102.35" cy="327.71" r="1.55" fill="#000"/>
<circle cx="105.93" cy="331.67" r="1.55" fill="#000"/>
<circle cx="102.84" cy="301.1" r="1.55" fill="#000"/>
<circle cx="80.52" cy="307.79" r="1.55" fill="#000"/>
<circle cx="108.13" cy="327.92" r="1.55" fill="#000"/>
<circle cx="107.4" cy="335.06" r="1.55" fill="#000"/>
<circle cx="98.24" cy="326.13" r="1.55" fill="#000"/>
<circle cx="93.36" cy="301.18" r="1.55" fill="#000"/>
<circle cx="106.15" cy="332.95" r="1.55" fill="#000"/>
<circle cx="99.53" cy="325.41" r="1.55" fill="#000"/>
<circle cx="100.26" cy="301.18" r="1.55" fill="#000"/>
<circle cx="115.24" cy="278.73" r="1.55" fill="#000"/>
<circle cx="108.95" cy="305.41" r="1.55" fill="#000"/>
<circle cx="102.58" cy="297.83" r="1.55" fill="#000"/>
<circle cx="107.19" cy="315.81" r="1.55" fill="#000"/>
<circle cx="110.36" cy="337.29" r="1.55" fill="#000"/>
<circle cx="102.38" cy="296.63" r="1.55" fill="#000"/>
<circle cx="103.56" cy="312.16" r="1.55" fill="#000"/>
<circle cx="100.64" cy="317.03" r="1.55" fill="#000"/>
<circle cx="82.22" cy="325.04" r="1.55" fill="#000"/>
<circle cx="116.68" cy="275.53" r="1.55" fill="#000"/>
<circle cx="107.39" cy="323.5" r="1.55" fill="#000"/>
<circle cx="108.89" cy="300.9" r="1.55" fill="#000"/>
<circle cx="109.6" cy="287.09" r="1.55" fill="#000"/>
<circle cx="114.71" cy="280.6" r="1.55" fill="#000"/>
<circle cx="109.03" cy="334.68" r="1.55" fill="#000"/>
<circle cx="84.99" cy="308.02" r="1.55" fill="#000"/>
<circle cx="71.65" cy="312.05" r="1.55" fill="#000"/>
<circle cx="97.47" cy="316.75" r="1.55" fill="#000"/>
<circle cx="111.36" cy="279.11" r="1.55" fill="#000"/>
<circle cx="109.3" cy="324.87" r="1.55" fill="#000"/>
<circle cx="112.02" cy="336.32" r="1.55" fill="#000"/>
<circle cx="107.72" cy="305.61" r="1.55" fill="#000"/>
<circle cx="102.33" cy="307.2" r="1.55" fill="#000"/>
<circle cx="98.9" cy="277.92" r="1.55" fill="#000"/>
<circle cx="103.95" cy="302.19" r="1.55" fill="#000"/>
<circle cx="105.78" cy="314.05" r="1.55" fill="#000"/>
<circle cx="103.13" cy="293.15" r="1.55" fill="#000"/>
<circle cx="106.53" cy="311.56" r="1.55" fill="#000"/>
<circle cx="106.84" cy="322.01" r="1.55" fill="#000"/>
<circle cx="123.37" cy="274.94" r="1.55" fill="#000"/>
<circle cx="119.45" cy="276.87" r="1.55" fill="#000"/>
<circle cx="106.13" cy="324.56" r="1.55" fill="#000"/>
<circle cx="106.47" cy="334.14" r="1.55" fill="#000"/>
<circle cx="88.56" cy="277.36" r="1.55" fill="#000"/>
<circle cx="112.89" cy="337.28" r="1.55" fill="#000"/>
<circle cx="109.86" cy="334.67" r="1.55" fill="#000"/>
<circle cx="83.67" cy="306" r="1.55" fill="#000"/>
<circle cx="106.33" cy="290.33" r="1.55" fill="#000"/>
<circle cx="109.27" cy="336.8" r="1.55" fill="#000"/>
<circle cx="82.05" cy="305.38" r="1.55" fill="#000"/>
<circle cx="104.66" cy="328.72" r="1.55" fill="#000"/>
<circle cx="109.14" cy="281.71" r="1.55" fill="#000"/>
<circle cx="107.48" cy="304.53" r="1.55" fill="#000"/>
<circle cx="114.56" cy="277.49" r="1.55" fill="#000"/>
<circle cx="111.49" cy="282.33" r="1.55" fill="#000"/>
<circle cx="104.91" cy="318.75" r="1.55" fill="#000"/>
<circle cx="104.88" cy="291.56" r="1.55" fill="#000"/>
<circle cx="98.66" cy="302.11" r="1.55" fill="#000"/>
<circle cx="66.49" cy="309.56" r="1.55" fill="#000"/>
<circle cx="110.6" cy="337.83" r="1.55" fill="#000"/>
<circle cx="110.82" cy="289.97" r="1.55" fill="#000"/>
<circle cx="105.57" cy="333.81" r="1.55" fill="#000"/>
<circle cx="105.93" cy="315.87" r="1.55" fill="#000"/>
<circle cx="102.68" cy="292.19" r="1.55" fill="#000"/>
<circle cx="102.61" cy="311.85" r="1.55" fill="#000"/>
<circle cx="99.27" cy="316.42" r="1.55" fill="#000"/>
<circle cx="111.06" cy="286.72" r="1.55" fill="#000"/>
<circle cx="111.54" cy="339.64" r="1.55" fill="#000"/>
<circle cx="110.91" cy="332.88" r="1.55" fill="#000"/>
<circle cx="116.82" cy="278.07" r="1.55" fill="#000"/>
<circle cx="102.34" cy="302.49" r="1.55" fill="#000"/>
<circle cx="111.1" cy="280.87" r="1.55" fill="#000"/>
<circle cx="117.36" cy="278.86" r="1.55" fill="#000"/>
<circle cx="103.59" cy="319.31" r="1.55" fill="#000"/>
<circle cx="105.79" cy="316.28" r="1.55" fill="#000"/>
<circle cx="107.34" cy="306.06" r="1.55" fill="#000"/>
<circle cx="100.3" cy="297.03" r="1.55" fill="#000"/>
<circle cx="109.8" cy="330.18" r="1.55" fill="#000"/>
<circle cx="104.19" cy="282.03" r="1.55" fill="#000"/>
<circle cx="98.79" cy="315.79" r="1.55" fill="#000"/>
<circle cx="108.53" cy="288.28" r="1.55" fill="#000"/>
<circle cx="99.48" cy="291.29" r="1.55" fill="#000"/>
<circle cx="102.12" cy="298.72" r="1.55" fill="#000"/>
<circle cx="115.55" cy="340" r="1.55" fill="#000"/>
<circle cx="99.24" cy="310.76" r="1.55" fill="#000"/>
<circle cx="110.52" cy="335.7" r="1.55" fill="#000"/>
<circle cx="108.82" cy="298.74" r="1.55" fill="#000"/>
<circle cx="110.63" cy="332.64" r="1.55" fill="#000"/>
<circle cx="111.61" cy="279.56" r="1.55" fill="#000"/>
<circle cx="100.88" cy="306.49" r="1.55" fill="#000"/>
<circle cx="99.96" cy="294.02" r="1.55" fill="#000"/>
<circle cx="116.06" cy="279.1" r="1.55" fill="#000"/>
<circle cx="108.55" cy="318.36" r="1.55" fill="#000"/>
<circle cx="101.32" cy="294.35" r="1.55" fill="#000"/>
<circle cx="106.91" cy="320.5" r="1.55" fill="#000"/>
<circle cx="111.65" cy="283.58" r="1.55" fill="#000"/>
<circle cx="106.18" cy="322.64" r="1.55" fill="#000"/>
<circle cx="107.24" cy="281.86" r="1.55" fill="#000"/>
<circle cx="91.33" cy="312.14" r="1.55" fill="#000"/>
<circle cx="106.39" cy="336.98" r="1.55" fill="#000"/>
<circle cx="97.76" cy="303.35" r="1.55" fill="#000"/>
<circle cx="107.67" cy="294.42" r="1.55" fill="#000"/>
<circle cx="90.16" cy="300.77" r="1.55" fill="#000"/>
<circle cx="110.45" cy="333.95" r="1.55" fill="#000"/>
<circle cx="106.45" cy="298.23" r="1.55" fill="#000"/>
<circle cx="106.09" cy="298.34" r="1.55" fill="#000"/>
<circle cx="107.79" cy="299.97" r="1.55" fill="#000"/>
<circle cx="97.71" cy="311.77" r="1.55" fill="#000"/>
<circle cx="96.14" cy="310.22" r="1.55" fill="#000"/>
<circle cx="107.51" cy="311.71" r="1.55" fill="#000"/>
<circle cx="94.72" cy="324.85" r="1.55" fill="#000"/>
<circle cx="110.48" cy="292.86" r="1.55" fill="#000"/>
<circle cx="103.37" cy="308.55" r="1.55" fill="#000"/>
<circle cx="85.13" cy="312.02" r="1.55" fill="#000"/>
<circle cx="97.7" cy="317.63" r="1.55" fill="#000"/>
<circle cx="113.2" cy="278.29" r="1.55" fill="#000"/>
<circle cx="109.26" cy="326.8" r="1.55" fill="#000"/>
<circle cx="108.13" cy="279.47" r="1.55" fill="#000"/>
<circle cx="111.32" cy="334.24" r="1.55" fill="#000"/>
<circle cx="107.98" cy="316.49" r="1.55" fill="#000"/>
<circle cx="102.19" cy="323.97" r="1.55" fill="#000"/>
<circle cx="109.72" cy="290.45" r="1.55" fill="#000"/>
<circle cx="104.5" cy="325.28" r="1.55" fill="#000"/>
<circle cx="106.15" cy="325.24" r="1.55" fill="#000"/>
<circle cx="85.78" cy="296.63" r="1.55" fill="#000"/>
<circle cx="104.41" cy="319.05" r="1.55" fill="#000"/>
<circle cx="99.87" cy="310" r="1.55" fill="#000"/>
<circle cx="92.02" cy="321.45" r="1.55" fill="#000"/>
<circle cx="96.97" cy="301.51" r="1.55" fill="#000"/>
<circle cx="95.72" cy="318.67" r="1.55" fill="#000"/>
<circle cx="99.01" cy="328" r="1.55" fill="#000"/>
<circle cx="98.85" cy="333.54" r="1.55" fill="#000"/>
<circle cx="103.89" cy="316.9" r="1.55" fill="#000"/>
<circle cx="97.94" cy="321.58" r="1.55" fill="#000"/>
<circle cx="105.37" cy="302.25" r="1.55" fill="#000"/>
<circle cx="105.14" cy="283.79" r="1.55" fill="#000"/>
<circle cx="115.59" cy="340" r="1.55" fill="#000"/>
<circle cx="112.1" cy="285.23" r="1.55" fill="#000"/>
<circle cx="106.76" cy="302.47" r="1.55" fill="#000"/>
<circle cx="114.66" cy="338.97" r="1.55" fill="#000"/>
<circle cx="109.45" cy="294.67" r="1.55" fill="#000"/>
<circle cx="98.64" cy="317.41" r="1.55" fill="#000"/>
<circle cx="111.84" cy="281.38" r="1.55" fill="#000"/>
<circle cx="119.39" cy="275.89" r="1.55" fill="#000"/>
<circle cx="131.55" cy="279.16" r="1.55" fill="#000"/>
<circle cx="109.93" cy="281.56" r="1.55" fill="#000"/>
<circle cx="112.87" cy="280.31" r="1.55" fill="#000"/>
<circle cx="126.37" cy="274.32" r="1.55" fill="#000"/>
<circle cx="113.05" cy="280.47" r="1.55" fill="#000"/>
<circle cx="114.59" cy="279.98" r="1.55" fill="#000"/>
<circle cx="127.45" cy="276.55" r="1.55" fill="#000"/>
<circle cx="121.8" cy="272.17" r="1.55" fill="#000"/>
<circle cx="119.95" cy="277.71" r="1.55" fill="#000"/>
<circle cx="130.96" cy="270.49" r="1.55" fill="#000"/>
<circle cx="116.24" cy="277.29" r="1.55" fill="#000"/>
<circle cx="132.84" cy="277.44" r="1.55" fill="#000"/>
<circle cx="112.97" cy="281.03" r="1.55" fill="#000"/>
<circle cx="132.58" cy="274" r="1.55" fill="#000"/>
<circle cx="117.39" cy="277.04" r="1.55" fill="#000"/>
<circle cx="120.93" cy="277.3" r="1.55" fill="#000"/>
<circle cx="133.4" cy="276.31" r="1.55" fill="#000"/>
<circle cx="113.42" cy="281.02" r="1.55" fill="#000"/>
<circle cx="119.76" cy="277.21" r="1.55" fill="#000"/>
<circle cx="128.51" cy="273.86" r="1.55" fill="#000"/>
<circle cx="123.36" cy="276.97" r="1.55" fill="#000"/>
<circle cx="111.24" cy="280.46" r="1.55" fill="#000"/>
<circle cx="114" cy="273.73" r="1.55" fill="#000"/>
<circle cx="120.94" cy="274.88" r="1.55" fill="#000"/>
<circle cx="133.4" cy="279" r="1.55" fill="#000"/>
<circle cx="121.43" cy="277.68" r="1.55" fill="#000"/>
<circle cx="127.8" cy="277.98" r="1.55" fill="#000"/>
<circle cx="129.18" cy="271.91" r="1.55" fill="#000"/>
<circle cx="129.2" cy="278.17" r="1.55" fill="#000"/>
<circle cx="114.29" cy="276.34" r="1.55" fill="#000"/>
<circle cx="109.62" cy="280.09" r="1.55" fill="#000"/>
<circle cx="119.65" cy="267.98" r="1.55" fill="#000"/>
<circle cx="122.84" cy="270.94" r="1.55" fill="#000"/>
<circle cx="115.2" cy="274.98" r="1.55" fill="#000"/>
<circle cx="118.26" cy="270.66" r="1.55" fill="#000"/>
<circle cx="109.46" cy="276.31" r="1.55" fill="#000"/>
<circle cx="112.63" cy="278.59" r="1.55" fill="#000"/>
<circle cx="121.19" cy="277.73" r="1.55" fill="#000"/>
<circle cx="129.46" cy="277.26" r="1.55" fill="#000"/>
<circle cx="115.39" cy="280.09" r="1.55" fill="#000"/>
<circle cx="115.25" cy="278.21" r="1.55" fill="#000"/>
<circle cx="126.31" cy="275.9" r="1.55" fill="#000"/>
<circle cx="125.55" cy="276.8" r="1.55" fill="#000"/>
<circle cx="117.64" cy="277.41" r="1.55" fill="#000"/>
<circle cx="133.11" cy="273.64" r="1.55" fill="#000"/>
<circle cx="124.66" cy="277.08" r="1.55" fill="#000"/>
<circle cx="117.18" cy="275.4" r="1.55" fill="#000"/>
<circle cx="113.41" cy="278.15" r="1.55" fill="#000"/>
<circle cx="119.37" cy="278.93" r="1.55" fill="#000"/>
<circle cx="133.4" cy="274.45" r="1.55" fill="#000"/>
<circle cx="112.58" cy="278" r="1.55" fill="#000"/>
<circle cx="114.84" cy="278.91" r="1.55" fill="#000"/>
<circle cx="121.57" cy="276.96" r="1.55" fill="#000"/>
<circle cx="116.11" cy="278.37" r="1.55" fill="#000"/>
<circle cx="125" cy="275.96" r="1.55" fill="#000"/>
<circle cx="112.4" cy="276.81" r="1.55" fill="#000"/>
<circle cx="115.89" cy="270.03" r="1.55" fill="#000"/>
<circle cx="122.2" cy="273.48" r="1.55" fill="#000"/>
<circle cx="115.95" cy="274.03" r="1.55" fill="#000"/>
<circle cx="109.49" cy="281.9" r="1.55" fill="#000"/>
<circle cx="109.55" cy="278.45" r="1.55" fill="#000"/>
<circle cx="126.12" cy="276.7" r="1.55" fill="#000"/>
<circle cx="117.86" cy="273.15" r="1.55" fill="#000"/>
<circle cx="123" cy="277.37" r="1.55" fill="#000"/>
<circle cx="113.12" cy="280.56" r="1.55" fill="#000"/>
<circle cx="110.35" cy="280.3" r="1.55" fill="#000"/>
<circle cx="108.96" cy="273.75" r="1.55" fill="#000"/>
<circle cx="118.53" cy="276.76" r="1.55" fill="#000"/>
<circle cx="181.21" cy="315.25" r="1.55" fill="#000"/>
<circle cx="170.93" cy="327.94" r="1.55" fill="#000"/>
<circle cx="174.26" cy="292.19" r="1.55" fill="#000"/>
<circle cx="179.85" cy="297.25" r="1.55" fill="#000"/>
<circle cx="165.94" cy="339.68" r="1.55" fill="#000"/>
<circle cx="176.97" cy="316.2" r="1.55" fill="#000"/>
<circle cx="173.36" cy="292.16" r="1.55" fill="#000"/>
<circle cx="170.44" cy="315.5" r="1.55" fill="#000"/>
<circle cx="175.84" cy="295.57" r="1.55" fill="#000"/>
<circle cx="182.02" cy="325.56" r="1.55" fill="#000"/>
<circle cx="171.16" cy="312.63" r="1.55" fill="#000"/>
<circle cx="186.97" cy="323.96" r="1.55" fill="#000"/>
<circle cx="173.64" cy="308.02" r="1.55" fill="#000"/>
<circle cx="171.68" cy="304.53" r="1.55" fill="#000"/>
<circle cx="203.5" cy="320.08" r="1.55" fill="#000"/>
<circle cx="180.41" cy="305.67" r="1.55" fill="#000"/>
<circle cx="168.69" cy="328.99" r="1.55" fill="#000"/>
<circle cx="167.46" cy="336.98" r="1.55" fill="#000"/>
<circle cx="168.96" cy="282.45" r="1.55" fill="#000"/>
<circle cx="175.76" cy="285.86" r="1.55" fill="#000"/>
<circle cx="172.26" cy="318.89" r="1.55" fill="#000"/>
<circle cx="166.66" cy="335.82" r="1.55" fill="#000"/>
<circle cx="171.47" cy="301.8" r="1.55" fill="#000"/>
<circle cx="163.76" cy="339.07" r="1.55" fill="#000"/>
<circle cx="169.38" cy="334" r="1.55" fill="#000"/>
<circle cx="176.66" cy="308.93" r="1.55" fill="#000"/>
<circle cx="188.35" cy="287.3" r="1.55" fill="#000"/>
<circle cx="165.26" cy="340" r="1.55" fill="#000"/>
<circle cx="170.89" cy="311.91" r="1.55" fill="#000"/>
<circle cx="169.8" cy="328.2" r="1.55" fill="#000"/>
<circle cx="167.38" cy="333.48" r="1.55" fill="#000"/>
<circle cx="184.22" cy="309.87" r="1.55" fill="#000"/>
<circle cx="174.45" cy="281.55" r="1.55" fill="#000"/>
<circle cx="164.32" cy="273.57" r="1.55" fill="#000"/>
<circle cx="202.77" cy="281.14" r="1.55" fill="#000"/>
<circle cx="168.11" cy="336.58" r="1.55" fill="#000"/>
<circle cx="178.62" cy="290.46" r="1.55" fill="#000"/>
<circle cx="172.47" cy="321.85" r="1.55" fill="#000"/>
<circle cx="182.93" cy="311.21" r="1.55" fill="#000"/>
<circle cx="173.33" cy="282.57" r="1.55" fill="#000"/>
<circle cx="170.81" cy="278.44" r="1.55" fill="#000"/>
<circle cx="171.56" cy="309.57" r="1.55" fill="#000"/>
<circle cx="172.79" cy="305.94" r="1.55" fill="#000"/>
<circle cx="173.27" cy="309.47" r="1.55" fill="#000"/>
<circle cx="169.91" cy="314.84" r="1.55" fill="#000"/>
<circle cx="170.6" cy="316.98" r="1.55" fill="#000"/>
<circle cx="166.29" cy="338.03" r="1.55" fill="#000"/>
<circle cx="174.67" cy="302.3" r="1.55" fill="#000"/>
<circle cx="179.06" cy="313.54" r="1.55" fill="#000"/>
<circle cx="179.54" cy="323.34" r="1.55" fill="#000"/>
<circle cx="212.27" cy="303.46" r="1.55" fill="#000"/>
<circle cx="179.66" cy="329.19" r="1.55" fill="#000"/>
<circle cx="174.8" cy="297.86" r="1.55" fill="#000"/>
<circle cx="188.91" cy="309.32" r="1.55" fill="#000"/>
<circle cx="176.26" cy="306.4" r="1.55" fill="#000"/>
<circle cx="189.09" cy="299.55" r="1.55" fill="#000"/>
<circle cx="170.34" cy="291.41" r="1.55" fill="#000"/>
<circle cx="187.19" cy="320.97" r="1.55" fill="#000"/>
<circle cx="175.97" cy="321.44" r="1.55" fill="#000"/>
<circle cx="171.37" cy="322.89" r="1.55" fill="#000"/>
<circle cx="170.47" cy="311.32" r="1.55" fill="#000"/>
<circle cx="171.06" cy="277.08" r="1.55" fill="#000"/>
<circle cx="174.49" cy="304.69" r="1.55" fill="#000"/>
<circle cx="169.72" cy="271.79" r="1.55" fill="#000"/>
<circle cx="172.49" cy="306.41" r="1.55" fill="#000"/>
<circle cx="173.73" cy="290.36" r="1.55" fill="#000"/>
<circle cx="169.33" cy="285.22" r="1.55" fill="#000"/>
<circle cx="179.58" cy="334.52" r="1.55" fill="#000"/>
<circle cx="185.52" cy="316.6" r="1.55" fill="#000"/>
<circle cx="183.37" cy="298.76" r="1.55" fill="#000"/>
<circle cx="179.56" cy="284.19" r="1.55" fill="#000"/>
<circle cx="188.75" cy="309.38" r="1.55" fill="#000"/>
<circle cx="178.09" cy="275.2" r="1.55" fill="#000"/>
<circle cx="172.47" cy="277.04" r="1.55" fill="#000"/>
<circle cx="164.29" cy="337.42" r="1.55" fill="#000"/>
<circle cx="171.72" cy="285.81" r="1.55" fill="#000"/>
<circle cx="170.46" cy="291.71" r="1.55" fill="#000"/>
<circle cx="173.94" cy="333.34" r="1.55" fill="#000"/>
<circle cx="173.73" cy="297" r="1.55" fill="#000"/>
<circle cx="170.31" cy="310.74" r="1.55" fill="#000"/>
<circle cx="167.76" cy="333.59" r="1.55" fill="#000"/>
<circle cx="192.21" cy="304.38" r="1.55" fill="#000"/>
<circle cx="164.57" cy="339.34" r="1.55" fill="#000"/>
<circle cx="171.18" cy="283.08" r="1.55" fill="#000"/>
<circle cx="173.75" cy="335.35" r="1.55" fill="#000"/>
<circle cx="182.79" cy="282.27" r="1.55" fill="#000"/>
<circle cx="175.19" cy="293.85" r="1.55" fill="#000"/>
<circle cx="184.75" cy="280.55" r="1.55" fill="#000"/>
<circle cx="162.97" cy="340" r="1.55" fill="#000"/>
<circle cx="171.35" cy="314.16" r="1.55" fill="#000"/>
<circle cx="166.7" cy="332.25" r="1.55" fill="#000"/>
<circle cx="176.1" cy="275.75" r="1.55" fill="#000"/>
<circle cx="188.24" cy="290.85" r="1.55" fill="#000"/>
<circle cx="173.41" cy="331.48" r="1.55" fill="#000"/>
<circle cx="176.17" cy="277.85" r="1.55" fill="#000"/>
<circle cx="166.67" cy="336.46" r="1.55" fill="#000"/>
<circle cx="166.51" cy="273.77" r="1.55" fill="#000"/>
<circle cx="179.63" cy="290.42" r="1.55" fill="#000"/>
<circle cx="169.84" cy="282.34" r="1.55" fill="#000"/>
<circle cx="177.5" cy="285.19" r="1.55" fill="#000"/>
<circle cx="171.77" cy="325.71" r="1.55" fill="#000"/>
<circle cx="186.71" cy="316.33" r="1.55" fill="#000"/>
<circle cx="171.99" cy="311.06" r="1.55" fill="#000"/>
<circle cx="190.54" cy="289.97" r="1.55" fill="#000"/>
<circle cx="171.99" cy="316.69" r="1.55" fill="#000"/>
<circle cx="170.36" cy="314.71" r="1.55" fill="#000"/>
<circle cx="164.14" cy="339.76" r="1.55" fill="#000"/>
<circle cx="176.34" cy="306.57" r="1.55" fill="#000"/>
<circle cx="166.5" cy="271.31" r="1.55" fill="#000"/>
<circle cx="171.72" cy="288.77" r="1.55" fill="#000"/>
<circle cx="168.53" cy="326.64" r="1.55" fill="#000"/>
<circle cx="180.7" cy="288.82" r="1.55" fill="#000"/>
<circle cx="171.52" cy="285.95" r="1.55" fill="#000"/>
<circle cx="171.82" cy="308.01" r="1.55" fill="#000"/>
<circle cx="186.11" cy="333.48" r="1.55" fill="#000"/>
<circle cx="181.51" cy="301.7" r="1.55" fill="#000"/>
<circle cx="191.36" cy="296.08" r="1.55" fill="#000"/>
<circle cx="172.05" cy="304.49" r="1.55" fill="#000"/>
<circle cx="178.4" cy="308.59" r="1.55" fill="#000"/>
<circle cx="178.68" cy="294.25" r="1.55" fill="#000"/>
<circle cx="173.94" cy="325.16" r="1.55" fill="#000"/>
<circle cx="185.36" cy="304.91" r="1.55" fill="#000"/>
<circle cx="175.09" cy="317.95" r="1.55" fill="#000"/>
<circle cx="164.8" cy="337.46" r="1.55" fill="#000"/>
<circle cx="169.61" cy="324.91" r="1.55" fill="#000"/>
<circle cx="171.95" cy="312.39" r="1.55" fill="#000"/>
<circle cx="182.2" cy="300.15" r="1.55" fill="#000"/>
<circle cx="180.62" cy="325.42" r="1.55" fill="#000"/>
<circle cx="174.14" cy="285.22" r="1.55" fill="#000"/>
<circle cx="175.51" cy="284.15" r="1.55" fill="#000"/>
<circle cx="170.75" cy="304.42" r="1.55" fill="#000"/>
<circle cx="179.9" cy="311.57" r="1.55" fill="#000"/>
<circle cx="186.52" cy="309.8" r="1.55" fill="#000"/>
<circle cx="169.34" cy="281.14" r="1.55" fill="#000"/>
<circle cx="175.04" cy="304.22" r="1.55" fill="#000"/>
<circle cx="172.78" cy="300.24" r="1.55" fill="#000"/>
<circle cx="168.51" cy="326.29" r="1.55" fill="#000"/>
<circle cx="169.42" cy="334.23" r="1.55" fill="#000"/>
<circle cx="182.74" cy="307.66" r="1.55" fill="#000"/>
<circle cx="170.06" cy="285.37" r="1.55" fill="#000"/>
<circle cx="170.11" cy="290.7" r="1.55" fill="#000"/>
<circle cx="177.57" cy="290.95" r="1.55" fill="#000"/>
<circle cx="172.76" cy="306.36" r="1.55" fill="#000"/>
<circle cx="170.66" cy="310.97" r="1.55" fill="#000"/>
<circle cx="168.85" cy="327.9" r="1.55" fill="#000"/>
<circle cx="170.41" cy="286.6" r="1.55" fill="#000"/>
<circle cx="183.36" cy="318.42" r="1.55" fill="#000"/>
<circle cx="168.59" cy="325.43" r="1.55" fill="#000"/>
<circle cx="173.87" cy="297.98" r="1.55" fill="#000"/>
<circle cx="196.7" cy="283.79" r="1.55" fill="#000"/>
<circle cx="164.04" cy="271.07" r="1.55" fill="#000"/>
<circle cx="202.62" cy="323.57" r="1.55" fill="#000"/>
<circle cx="171.81" cy="278.55" r="1.55" fill="#000"/>
<circle cx="168.86" cy="322.38" r="1.55" fill="#000"/>
<circle cx="186.49" cy="285.57" r="1.55" fill="#000"/>
<circle cx="170.85" cy="278.33" r="1.55" fill="#000"/>
<circle cx="174.01" cy="289.76" r="1.55" fill="#000"/>
<circle cx="164.38" cy="273.58" r="1.55" fill="#000"/>
<circle cx="164.55" cy="340" r="1.55" fill="#000"/>
<circle cx="170.75" cy="321.59" r="1.55" fill="#000"/>
<circle cx="175.42" cy="286.48" r="1.55" fill="#000"/>
<circle cx="173.8" cy="285.64" r="1.55" fill="#000"/>
<circle cx="166.5" cy="336.07" r="1.55" fill="#000"/>
<circle cx="201.84" cy="292.6" r="1.55" fill="#000"/>
<circle cx="170.11" cy="312.6" r="1.55" fill="#000"/>
<circle cx="178.62" cy="297.42" r="1.55" fill="#000"/>
<circle cx="164.62" cy="272.27" r="1.55" fill="#000"/>
<circle cx="185.08" cy="318.71" r="1.55" fill="#000"/>
<circle cx="187.31" cy="311.12" r="1.55" fill="#000"/>
<circle cx="174.4" cy="301.77" r="1.55" fill="#000"/>
<circle cx="170.13" cy="329.54" r="1.55" fill="#000"/>
<circle cx="170.08" cy="325.04" r="1.55" fill="#000"/>
<circle cx="171.68" cy="293.36" r="1.55" fill="#000"/>
<circle cx="171.59" cy="308.12" r="1.55" fill="#000"/>
<circle cx="170.27" cy="282.87" r="1.55" fill="#000"/>
<circle cx="173.37" cy="302.14" r="1.55" fill="#000"/>
<circle cx="210.43" cy="300.64" r="1.55" fill="#000"/>
<circle cx="185.15" cy="317.58" r="1.55" fill="#000"/>
<circle cx="172.21" cy="282.93" r="1.55" fill="#000"/>
<circle cx="172.92" cy="273.31" r="1.55" fill="#000"/>
<circle cx="172.67" cy="294.49" r="1.55" fill="#000"/>
<circle cx="170.49" cy="281.29" r="1.55" fill="#000"/>
<circle cx="190.77" cy="296.69" r="1.55" fill="#000"/>
<circle cx="171.37" cy="320.21" r="1.55" fill="#000"/>
<circle cx="171.43" cy="294.36" r="1.55" fill="#000"/>
<circle cx="166.26" cy="336.37" r="1.55" fill="#000"/>
<circle cx="178.6" cy="323.9" r="1.55" fill="#000"/>
<circle cx="165.98" cy="334.22" r="1.55" fill="#000"/>
<circle cx="173.79" cy="291.51" r="1.55" fill="#000"/>
<circle cx="182.15" cy="274.07" r="1.55" fill="#000"/>
<circle cx="181.74" cy="291.74" r="1.55" fill="#000"/>
<circle cx="170.79" cy="305.91" r="1.55" fill="#000"/>
<circle cx="172.38" cy="296.76" r="1.55" fill="#000"/>
<circle cx="174.39" cy="279.01" r="1.55" fill="#000"/>
<circle cx="174.2" cy="290.8" r="1.55" fill="#000"/>
<circle cx="171.36" cy="307.71" r="1.55" fill="#000"/>
<circle cx="171.38" cy="319.58" r="1.55" fill="#000"/>
<circle cx="177.53" cy="320.96" r="1.55" fill="#000"/>
<circle cx="168.87" cy="278.74" r="1.55" fill="#000"/>
<circle cx="179.34" cy="288.47" r="1.55" fill="#000"/>
<circle cx="174.14" cy="297.59" r="1.55" fill="#000"/>
<circle cx="168.12" cy="331.22" r="1.55" fill="#000"/>
<circle cx="172.9" cy="289.32" r="1.55" fill="#000"/>
<circle cx="168.83" cy="283.75" r="1.55" fill="#000"/>
<circle cx="176.34" cy="314.02" r="1.55" fill="#000"/>
<circle cx="195.23" cy="327.04" r="1.55" fill="#000"/>
<circle cx="178.47" cy="289.76" r="1.55" fill="#000"/>
<circle cx="166.39" cy="335.09" r="1.55" fill="#000"/>
<circle cx="177.94" cy="318.31" r="1.55" fill="#000"/>
<circle cx="169.52" cy="337.73" r="1.55" fill="#000"/>
<circle cx="176.76" cy="285.13" r="1.55" fill="#000"/>
<circle cx="169.71" cy="274.56" r="1.55" fill="#000"/>
<circle cx="170.69" cy="296.65" r="1.55" fill="#000"/>
<circle cx="173.35" cy="295.98" r="1.55" fill="#000"/>
<circle cx="173.1" cy="304.29" r="1.55" fill="#000"/>
<circle cx="171.51" cy="279.58" r="1.55" fill="#000"/>
<circle cx="171.9" cy="302.69" r="1.55" fill="#000"/>
<circle cx="171.61" cy="316.56" r="1.55" fill="#000"/>
<circle cx="168.69" cy="274.79" r="1.55" fill="#000"/>
<circle cx="171.59" cy="298.83" r="1.55" fill="#000"/>
<circle cx="179.62" cy="310.53" r="1.55" fill="#000"/>
<circle cx="179.77" cy="308.38" r="1.55" fill="#000"/>
<circle cx="173.81" cy="296.57" r="1.55" fill="#000"/>
<circle cx="166.1" cy="272.59" r="1.55" fill="#000"/>
<circle cx="166.11" cy="271.99" r="1.55" fill="#000"/>
<circle cx="175" cy="310.77" r="1.55" fill="#000"/>
<circle cx="172.29" cy="291.76" r="1.55" fill="#000"/>
<circle cx="187.84" cy="293.34" r="1.55" fill="#000"/>
<circle cx="172.49" cy="309.3" r="1.55" fill="#000"/>
<circle cx="171.03" cy="316.77" r="1.55" fill="#000"/>
<circle cx="178.07" cy="302.25" r="1.55" fill="#000"/>
<circle cx="165.36" cy="337.69" r="1.55" fill="#000"/>
<circle cx="192.83" cy="310.06" r="1.55" fill="#000"/>
<circle cx="176.15" cy="324.32" r="1.55" fill="#000"/>
<circle cx="173.96" cy="313.32" r="1.55" fill="#000"/>
<circle cx="172.85" cy="298.34" r="1.55" fill="#000"/>
<circle cx="181.61" cy="328.56" r="1.55" fill="#000"/>
<circle cx="189.39" cy="295.88" r="1.55" fill="#000"/>
<circle cx="172.34" cy="277.92" r="1.55" fill="#000"/>
<circle cx="173.31" cy="290.53" r="1.55" fill="#000"/>
<circle cx="163.66" cy="339.32" r="1.55" fill="#000"/>
<circle cx="170.27" cy="282.05" r="1.55" fill="#000"/>
<circle cx="171.39" cy="317.65" r="1.55" fill="#000"/>
<circle cx="174.2" cy="307.7" r="1.55" fill="#000"/>
<circle cx="174.26" cy="285.47" r="1.55" fill="#000"/>
<circle cx="175.9" cy="315.46" r="1.55" fill="#000"/>
<circle cx="176.28" cy="313.58" r="1.55" fill="#000"/>
<circle cx="190.5" cy="328.67" r="1.55" fill="#000"/>
<circle cx="173.42" cy="292.35" r="1.55" fill="#000"/>
<circle cx="168.16" cy="332.7" r="1.55" fill="#000"/>
<circle cx="178.37" cy="320.26" r="1.55" fill="#000"/>
<circle cx="195.76" cy="318.12" r="1.55" fill="#000"/>
<circle cx="168.65" cy="328.18" r="1.55" fill="#000"/>
<circle cx="175.12" cy="313.38" r="1.55" fill="#000"/>
<circle cx="173.76" cy="309.16" r="1.55" fill="#000"/>
<circle cx="180.49" cy="288.86" r="1.55" fill="#000"/>
<circle cx="172.42" cy="306.98" r="1.55" fill="#000"/>
<circle cx="172.09" cy="286.2" r="1.55" fill="#000"/>
<circle cx="173.76" cy="280.98" r="1.55" fill="#000"/>
<circle cx="166.89" cy="277.2" r="1.55" fill="#000"/>
<circle cx="163.73" cy="273.01" r="1.55" fill="#000"/>
<circle cx="169.94" cy="319.45" r="1.55" fill="#000"/>
<circle cx="182.2" cy="300.97" r="1.55" fill="#000"/>
<circle cx="171.88" cy="303.09" r="1.55" fill="#000"/>
<circle cx="177.98" cy="331.24" r="1.55" fill="#000"/>
<circle cx="162.8" cy="271.9" r="1.55" fill="#000"/>
<circle cx="183.15" cy="305.04" r="1.55" fill="#000"/>
<circle cx="180.26" cy="296.64" r="1.55" fill="#000"/>
<circle cx="179.04" cy="286.38" r="1.55" fill="#000"/>
<circle cx="173.22" cy="291.86" r="1.55" fill="#000"/>
<circle cx="183.18" cy="323.43" r="1.55" fill="#000"/>
<circle cx="173.05" cy="328.48" r="1.55" fill="#000"/>
<circle cx="180.1" cy="298.7" r="1.55" fill="#000"/>
<circle cx="183.93" cy="313.48" r="1.55" fill="#000"/>
<circle cx="168.9" cy="326.49" r="1.55" fill="#000"/>
<circle cx="179" cy="295.52" r="1.55" fill="#000"/>
<circle cx="170.34" cy="284.87" r="1.55" fill="#000"/>
<circle cx="192.58" cy="310.74" r="1.55" fill="#000"/>
<circle cx="163.89" cy="338.84" r="1.55" fill="#000"/>
<circle cx="173.52" cy="318.19" r="1.55" fill="#000"/>
<circle cx="173.7" cy="314.1" r="1.55" fill="#000"/>
<circle cx="180.03" cy="336.14" r="1.55" fill="#000"/>
<circle cx="169.7" cy="271.56" r="1.55" fill="#000"/>
<circle cx="166.48" cy="276.64" r="1.55" fill="#000"/>
<circle cx="179.94" cy="288.88" r="1.55" fill="#000"/>
<circle cx="162.91" cy="340" r="1.55" fill="#000"/>
<circle cx="170.22" cy="292.09" r="1.55" fill="#000"/>
<circle cx="175.48" cy="307.61" r="1.55" fill="#000"/>
<circle cx="173.1" cy="295.26" r="1.55" fill="#000"/>
<circle cx="181.89" cy="326.43" r="1.55" fill="#000"/>
<circle cx="173.38" cy="288.71" r="1.55" fill="#000"/>
<circle cx="181.34" cy="313.1" r="1.55" fill="#000"/>
<circle cx="164.09" cy="339.61" r="1.55" fill="#000"/>
<circle cx="175.42" cy="318.67" r="1.55" fill="#000"/>
<circle cx="169.12" cy="326.41" r="1.55" fill="#000"/>
<circle cx="168.81" cy="280.78" r="1.55" fill="#000"/>
<circle cx="165.9" cy="336.15" r="1.55" fill="#000"/>
<circle cx="171.51" cy="303.64" r="1.55" fill="#000"/>
<circle cx="170.09" cy="291.63" r="1.55" fill="#000"/>
<circle cx="171.3" cy="309.31" r="1.55" fill="#000"/>
<circle cx="172.26" cy="313.65" r="1.55" fill="#000"/>
<circle cx="173.92" cy="284.61" r="1.55" fill="#000"/>
<circle cx="172.52" cy="294.71" r="1.55" fill="#000"/>
<circle cx="160.64" cy="271.74" r="1.55" fill="#000"/>
<circle cx="167.94" cy="333.16" r="1.55" fill="#000"/>
<circle cx="166.02" cy="273.72" r="1.55" fill="#000"/>
<circle cx="184.47" cy="282.76" r="1.55" fill="#000"/>
<circle cx="174.76" cy="303.35" r="1.55" fill="#000"/>
<circle cx="171.53" cy="326.91" r="1.55" fill="#000"/>
<circle cx="167.52" cy="272.21" r="1.55" fill="#000"/>
<circle cx="177.31" cy="315.95" r="1.55" fill="#000"/>
<circle cx="191.67" cy="288.23" r="1.55" fill="#000"/>
<circle cx="195.62" cy="331.12" r="1.55" fill="#000"/>
<circle cx="184.7" cy="300.35" r="1.55" fill="#000"/>
<circle cx="170.31" cy="320.92" r="1.55" fill="#000"/>
<circle cx="168.72" cy="280.33" r="1.55" fill="#000"/>
<circle cx="167.37" cy="273.45" r="1.55" fill="#000"/>
<circle cx="171.42" cy="323.01" r="1.55" fill="#000"/>
<circle cx="170.46" cy="305.54" r="1.55" fill="#000"/>
<circle cx="194.03" cy="283.34" r="1.55" fill="#000"/>
<circle cx="183.58" cy="306.49" r="1.55" fill="#000"/>
<circle cx="178.58" cy="325.84" r="1.55" fill="#000"/>
<circle cx="183.21" cy="297.15" r="1.55" fill="#000"/>
<circle cx="177.31" cy="328.42" r="1.55" fill="#000"/>
<circle cx="163.19" cy="339.97" r="1.55" fill="#000"/>
<circle cx="165.76" cy="337.38" r="1.55" fill="#000"/>
<circle cx="171.28" cy="319.48" r="1.55" fill="#000"/>
<circle cx="165.9" cy="334.4" r="1.55" fill="#000"/>
<circle cx="172.05" cy="310.11" r="1.55" fill="#000"/>
<circle cx="173.87" cy="296.35" r="1.55" fill="#000"/>
<circle cx="182.82" cy="315.96" r="1.55" fill="#000"/>
<circle cx="178.24" cy="294.62" r="1.55" fill="#000"/>
<circle cx="172.7" cy="293.85" r="1.55" fill="#000"/>
<circle cx="167.62" cy="334.08" r="1.55" fill="#000"/>
<circle cx="168.64" cy="274.87" r="1.55" fill="#000"/>
<circle cx="170.48" cy="322.14" r="1.55" fill="#000"/>
<circle cx="174.88" cy="322.25" r="1.55" fill="#000"/>
<circle cx="170.81" cy="317.66" r="1.55" fill="#000"/>
<circle cx="166.97" cy="275.73" r="1.55" fill="#000"/>
<circle cx="174.57" cy="293.57" r="1.55" fill="#000"/>
<circle cx="174.57" cy="304.69" r="1.55" fill="#000"/>
<circle cx="176.07" cy="291.47" r="1.55" fill="#000"/>
<circle cx="164.87" cy="337.52" r="1.55" fill="#000"/>
<circle cx="168.4" cy="332.28" r="1.55" fill="#000"/>
<circle cx="169.36" cy="323.05" r="1.55" fill="#000"/>
<circle cx="163.86" cy="340" r="1.55" fill="#000"/>
<circle cx="164.46" cy="338.27" r="1.55" fill="#000"/>
<circle cx="180.04" cy="297.8" r="1.55" fill="#000"/>
<circle cx="170.55" cy="280.98" r="1.55" fill="#000"/>
<circle cx="192.89" cy="317.44" r="1.55" fill="#000"/>
<circle cx="171.53" cy="291.52" r="1.55" fill="#000"/>
<circle cx="206.51" cy="294.07" r="1.55" fill="#000"/>
<circle cx="175.12" cy="278.81" r="1.55" fill="#000"/>
<circle cx="178.41" cy="295.6" r="1.55" fill="#000"/>
<circle cx="176.12" cy="283.5" r="1.55" fill="#000"/>
<circle cx="175.7" cy="332.8" r="1.55" fill="#000"/>
<circle cx="175.3" cy="313.89" r="1.55" fill="#000"/>
<circle cx="171.02" cy="309.44" r="1.55" fill="#000"/>
<circle cx="174.79" cy="329.14" r="1.55" fill="#000"/>
<circle cx="179.14" cy="301.08" r="1.55" fill="#000"/>
<circle cx="174.16" cy="298.61" r="1.55" fill="#000"/>
<circle cx="176.03" cy="284.79" r="1.55" fill="#000"/>
<circle cx="175.81" cy="309.81" r="1.55" fill="#000"/>
<circle cx="174.42" cy="313.8" r="1.55" fill="#000"/>
<circle cx="177.11" cy="311.32" r="1.55" fill="#000"/>
<circle cx="165.56" cy="336.01" r="1.55" fill="#000"/>
<circle cx="209.98" cy="302.21" r="1.55" fill="#000"/>
<circle cx="171.62" cy="321.87" r="1.55" fill="#000"/>
<circle cx="205.02" cy="321.78" r="1.55" fill="#000"/>
<circle cx="186.39" cy="297.35" r="1.55" fill="#000"/>
<circle cx="203.29" cy="277.25" r="1.55" fill="#000"/>
<circle cx="172.63" cy="303.85" r="1.55" fill="#000"/>
<circle cx="173.85" cy="329.34" r="1.55" fill="#000"/>
<circle cx="170.47" cy="336.45" r="1.55" fill="#000"/>
<circle cx="173.51" cy="326.23" r="1.55" fill="#000"/>
<circle cx="162.82" cy="340" r="1.55" fill="#000"/>
<circle cx="173.35" cy="331.52" r="1.55" fill="#000"/>
<circle cx="182.13" cy="286.3" r="1.55" fill="#000"/>
<circle cx="176.53" cy="301.15" r="1.55" fill="#000"/>
<circle cx="167.92" cy="331.19" r="1.55" fill="#000"/>
<circle cx="177.6" cy="288.41" r="1.55" fill="#000"/>
<circle cx="170.11" cy="273.37" r="1.55" fill="#000"/>
<circle cx="173.48" cy="325.46" r="1.55" fill="#000"/>
<circle cx="181.72" cy="285.65" r="1.55" fill="#000"/>
<circle cx="175.59" cy="330.42" r="1.55" fill="#000"/>
<circle cx="189.05" cy="308.1" r="1.55" fill="#000"/>
<circle cx="169.24" cy="326.16" r="1.55" fill="#000"/>
<circle cx="170.96" cy="294.71" r="1.55" fill="#000"/>
<circle cx="186.06" cy="293.24" r="1.55" fill="#000"/>
<circle cx="168.1" cy="328.87" r="1.55" fill="#000"/>
<circle cx="171.98" cy="281.26" r="1.55" fill="#000"/>
<circle cx="172.85" cy="329.99" r="1.55" fill="#000"/>
<circle cx="166.37" cy="333.83" r="1.55" fill="#000"/>
<circle cx="163.31" cy="340" r="1.55" fill="#000"/>
<circle cx="186.41" cy="313.93" r="1.55" fill="#000"/>
<circle cx="170.49" cy="321.12" r="1.55" fill="#000"/>
<circle cx="173.89" cy="316.79" r="1.55" fill="#000"/>
<circle cx="173.06" cy="292.79" r="1.55" fill="#000"/>
<circle cx="164.25" cy="274.06" r="1.55" fill="#000"/>
<circle cx="163.85" cy="270.88" r="1.55" fill="#000"/>
<circle cx="157.51" cy="274.02" r="1.55" fill="#000"/>
<circle cx="165.21" cy="273.38" r="1.55" fill="#000"/>
<circle cx="156.74" cy="274.37" r="1.55" fill="#000"/>
<circle cx="168.92" cy="273.77" r="1.55" fill="#000"/>
<circle cx="160.16" cy="272.8" r="1.55" fill="#000"/>
<circle cx="169.72" cy="273.27" r="1.55" fill="#000"/>
<circle cx="165.84" cy="274.27" r="1.55" fill="#000"/>
<circle cx="159.45" cy="271.88" r="1.55" fill="#000"/>
<circle cx="156.99" cy="271.21" r="1.55" fill="#000"/>
<circle cx="161.17" cy="267.96" r="1.55" fill="#000"/>
<circle cx="160.93" cy="271.74" r="1.55" fill="#000"/>
<circle cx="162.4" cy="264.51" r="1.55" fill="#000"/>
<circle cx="160" cy="269.25" r="1.55" fill="#000"/>
<circle cx="158.33" cy="271.14" r="1.55" fill="#000"/>
<circle cx="159.07" cy="266.66" r="1.55" fill="#000"/>
<circle cx="159.1" cy="267.12" r="1.55" fill="#000"/>
<circle cx="164.95" cy="273.36" r="1.55" fill="#000"/>
<circle cx="168.81" cy="275.31" r="1.55" fill="#000"/>
<circle cx="165.95" cy="272.66" r="1.55" fill="#000"/>
<circle cx="161.53" cy="273.88" r="1.55" fill="#000"/>
<circle cx="161.09" cy="272.78" r="1.55" fill="#000"/>
<circle cx="161.41" cy="263.25" r="1.55" fill="#000"/>
<circle cx="159.19" cy="269.67" r="1.55" fill="#000"/>
<circle cx="164.88" cy="274.47" r="1.55" fill="#000"/>
<circle cx="160.97" cy="273.39" r="1.55" fill="#000"/>
<circle cx="168.23" cy="275.78" r="1.55" fill="#000"/>
<circle cx="161.11" cy="272.48" r="1.55" fill="#000"/>
<circle cx="167.11" cy="269.7" r="1.55" fill="#000"/>
<circle cx="163.66" cy="272.2" r="1.55" fill="#000"/>
<circle cx="156.29" cy="267.04" r="1.55" fill="#000"/>
<circle cx="156.13" cy="273.47" r="1.55" fill="#000"/>
<circle cx="160.42" cy="269.17" r="1.55" fill="#000"/>
<circle cx="164.84" cy="273.96" r="1.55" fill="#000"/>
<circle cx="168.27" cy="266.35" r="1.55" fill="#000"/>
<circle cx="155.8" cy="271.93" r="1.55" fill="#000"/>
<circle cx="161.84" cy="272.66" r="1.55" fill="#000"/>
<circle cx="161.77" cy="272.88" r="1.55" fill="#000"/>
<circle cx="164.86" cy="272.19" r="1.55" fill="#000"/>
<circle cx="169.36" cy="264.12" r="1.55" fill="#000"/>
<circle cx="169.69" cy="275.62" r="1.55" fill="#000"/>
<circle cx="167.23" cy="272.72" r="1.55" fill="#000"/>
<circle cx="165.32" cy="254.47" r="1.55" fill="#000"/>
<circle cx="155.8" cy="273.01" r="1.55" fill="#000"/>
<circle cx="160.82" cy="270.09" r="1.55" fill="#000"/>
<circle cx="158.07" cy="258.24" r="1.55" fill="#000"/>
<circle cx="157.94" cy="272.71" r="1.55" fill="#000"/>
<circle cx="156.94" cy="272.97" r="1.55" fill="#000"/>
<circle cx="165.93" cy="275.57" r="1.55" fill="#000"/>
<circle cx="174.8" cy="290.23" r="1.55" fill="#000"/>
<circle cx="205.83" cy="287.64" r="1.55" fill="#000"/>
<circle cx="205.47" cy="271.9" r="1.55" fill="#000"/>
<circle cx="195.6" cy="288.44" r="1.55" fill="#000"/>
<circle cx="218.86" cy="263.92" r="1.55" fill="#000"/>
<circle cx="181.81" cy="289.81" r="1.55" fill="#000"/>
<circle cx="175.39" cy="293.95" r="1.55" fill="#000"/>
<circle cx="194.99" cy="291.84" r="1.55" fill="#000"/>
<circle cx="178.06" cy="303.61" r="1.55" fill="#000"/>
<circle cx="182.5" cy="288.66" r="1.55" fill="#000"/>
<circle cx="189.53" cy="290.93" r="1.55" fill="#000"/>
<circle cx="187.2" cy="284.99" r="1.55" fill="#000"/>
<circle cx="216.38" cy="277.9" r="1.55" fill="#000"/>
<circle cx="179.42" cy="296.88" r="1.55" fill="#000"/>
<circle cx="183.71" cy="280.53" r="1.55" fill="#000"/>
<circle cx="219.34" cy="264.41" r="1.55" fill="#000"/>
<circle cx="178.08" cy="288.13" r="1.55" fill="#000"/>
<circle cx="205.89" cy="283.42" r="1.55" fill="#000"/>
<circle cx="174.12" cy="305.39" r="1.55" fill="#000"/>
<circle cx="216.8" cy="253.12" r="1.55" fill="#000"/>
<circle cx="172.04" cy="302.69" r="1.55" fill="#000"/>
<circle cx="184.99" cy="305.16" r="1.55" fill="#000"/>
<circle cx="180.14" cy="293.28" r="1.55" fill="#000"/>
<circle cx="217.82" cy="264.8" r="1.55" fill="#000"/>
<circle cx="194.42" cy="281.73" r="1.55" fill="#000"/>
<circle cx="182.29" cy="288.26" r="1.55" fill="#000"/>
<circle cx="183.06" cy="294.53" r="1.55" fill="#000"/>
<circle cx="182.7" cy="294.7" r="1.55" fill="#000"/>
<circle cx="173.46" cy="299.05" r="1.55" fill="#000"/>
<circle cx="191.38" cy="282.49" r="1.55" fill="#000"/>
<circle cx="181.05" cy="300.26" r="1.55" fill="#000"/>
<circle cx="181.31" cy="293.62" r="1.55" fill="#000"/>
<circle cx="206.03" cy="274.58" r="1.55" fill="#000"/>
<circle cx="187.81" cy="289.41" r="1.55" fill="#000"/>
<circle cx="199.68" cy="280.08" r="1.55" fill="#000"/>
<circle cx="196.19" cy="285.84" r="1.55" fill="#000"/>
<circle cx="196.41" cy="277.75" r="1.55" fill="#000"/>
<circle cx="188.02" cy="284.66" r="1.55" fill="#000"/>
<circle cx="174.69" cy="304.06" r="1.55" fill="#000"/>
<circle cx="181.86" cy="287.63" r="1.55" fill="#000"/>
<circle cx="211.42" cy="272.43" r="1.55" fill="#000"/>
<circle cx="208.46" cy="288.08" r="1.55" fill="#000"/>
<circle cx="210.31" cy="275.92" r="1.55" fill="#000"/>
<circle cx="211.45" cy="261.38" r="1.55" fill="#000"/>
<circle cx="173.27" cy="298.85" r="1.55" fill="#000"/>
<circle cx="193.7" cy="275.15" r="1.55" fill="#000"/>
<circle cx="205.69" cy="281.95" r="1.55" fill="#000"/>
<circle cx="206.33" cy="273.99" r="1.55" fill="#000"/>
<circle cx="202.33" cy="280.29" r="1.55" fill="#000"/>
<circle cx="221.8" cy="261.47" r="1.55" fill="#000"/>
<circle cx="204.4" cy="277.24" r="1.55" fill="#000"/>
<circle cx="183.57" cy="293.14" r="1.55" fill="#000"/>
<circle cx="173.37" cy="309.83" r="1.55" fill="#000"/>
<circle cx="177.16" cy="309.53" r="1.55" fill="#000"/>
<circle cx="200.32" cy="277.39" r="1.55" fill="#000"/>
<circle cx="172.84" cy="315.64" r="1.55" fill="#000"/>
<circle cx="197.06" cy="280.91" r="1.55" fill="#000"/>
<circle cx="183.27" cy="286.23" r="1.55" fill="#000"/>
<circle cx="177.28" cy="293.72" r="1.55" fill="#000"/>
<circle cx="170.34" cy="304.38" r="1.55" fill="#000"/>
<circle cx="204.58" cy="274.47" r="1.55" fill="#000"/>
<circle cx="199.53" cy="285.19" r="1.55" fill="#000"/>
<circle cx="174.6" cy="295.64" r="1.55" fill="#000"/>
<circle cx="197.63" cy="288.2" r="1.55" fill="#000"/>
<circle cx="174.8" cy="305.78" r="1.55" fill="#000"/>
<circle cx="190.87" cy="290.8" r="1.55" fill="#000"/>
<circle cx="209.92" cy="277.2" r="1.55" fill="#000"/>
<circle cx="193.49" cy="285.82" r="1.55" fill="#000"/>
<circle cx="203.5" cy="282.38" r="1.55" fill="#000"/>
<circle cx="203.52" cy="272.96" r="1.55" fill="#000"/>
<circle cx="56.9" cy="277.3" r="1.55" fill="#000"/>
<circle cx="83.5" cy="258.3" r="1.55" fill="#000"/>
<circle cx="77.4" cy="293.6" r="1.55" fill="#000"/>
<circle cx="79.2" cy="311.4" r="1.55" fill="#000"/>
<circle cx="82.3" cy="319" r="1.55" fill="#000"/>
<circle cx="84.5" cy="325.8" r="1.55" fill="#000"/>
<circle cx="102.8" cy="249.7" r="1.55" fill="#000"/>
<circle cx="103.5" cy="255.9" r="1.55" fill="#000"/>
<circle cx="119.7" cy="258.9" r="1.55" fill="#000"/>
<circle cx="129.8" cy="257.7" r="1.55" fill="#000"/>
<circle cx="85.4" cy="306" r="1.55" fill="#000"/>
<circle cx="88" cy="300" r="1.55" fill="#000"/>
<circle cx="90" cy="296" r="1.55" fill="#000"/>
<circle cx="91" cy="313" r="1.55" fill="#000"/>
<circle cx="95" cy="289" r="1.55" fill="#000"/>
<circle cx="96" cy="303" r="1.55" fill="#000"/>
<circle cx="92" cy="322" r="1.55" fill="#000"/>
<circle cx="98" cy="332" r="1.55" fill="#000"/>
<circle cx="107.5" cy="262.6" r="1.55" fill="#000"/>
<circle cx="113" cy="265" r="1.55" fill="#000"/>
<circle cx="125" cy="262.5" r="1.55" fill="#000"/>
<circle cx="133" cy="261" r="1.55" fill="#000"/>
<circle cx="174.9" cy="246.7" r="1.55" fill="#000"/>
<circle cx="163.2" cy="250" r="1.55" fill="#000"/>
<circle cx="158" cy="257.7" r="1.55" fill="#000"/>
<circle cx="169.7" cy="261.4" r="1.55" fill="#000"/>
<circle cx="185.6" cy="264.5" r="1.55" fill="#000"/>
<circle cx="199.4" cy="263.8" r="1.55" fill="#000"/>
<circle cx="206.5" cy="257.7" r="1.55" fill="#000"/>
<circle cx="215.7" cy="257.7" r="1.55" fill="#000"/>
<circle cx="214.7" cy="266" r="1.55" fill="#000"/>
<circle cx="220.3" cy="276.7" r="1.55" fill="#000"/>
<circle cx="237.1" cy="270.6" r="1.55" fill="#000"/>
<circle cx="235.6" cy="277.3" r="1.55" fill="#000"/>
<circle cx="235.3" cy="280.7" r="1.55" fill="#000"/>
<circle cx="228.5" cy="285.9" r="1.55" fill="#000"/>
<circle cx="208.6" cy="307.4" r="1.55" fill="#000"/>
<circle cx="189" cy="271" r="1.55" fill="#000"/>
<circle cx="192" cy="276" r="1.55" fill="#000"/>
<circle cx="200" cy="281" r="1.55" fill="#000"/>
<circle cx="196" cy="288" r="1.55" fill="#000"/>
<circle cx="203" cy="292" r="1.55" fill="#000"/>
<circle cx="209" cy="296" r="1.55" fill="#000"/>
<circle cx="213" cy="291" r="1.55" fill="#000"/>
<circle cx="204" cy="300" r="1.55" fill="#000"/>
<circle cx="218" cy="300" r="1.55" fill="#000"/>
<circle cx="211" cy="273" r="1.55" fill="#000"/>
<circle cx="207" cy="269" r="1.55" fill="#000"/>
<circle cx="181" cy="268" r="1.55" fill="#000"/>
<circle cx="186" cy="281" r="1.55" fill="#000"/>
<circle cx="193" cy="296" r="1.55" fill="#000"/>
<circle cx="196" cy="302" r="1.55" fill="#000"/>
<circle cx="185" cy="306" r="1.55" fill="#000"/>
<circle cx="190" cy="311" r="1.55" fill="#000"/>
<circle cx="200" cy="279" r="1.55" fill="#000"/>
<circle cx="214" cy="305" r="1.55" fill="#000"/>
<circle cx="217" cy="298" r="1.55" fill="#000"/>
<circle cx="219" cy="290" r="1.55" fill="#000"/>
<circle cx="222" cy="287" r="1.55" fill="#000"/>
<circle cx="208" cy="282" r="1.55" fill="#000"/>
<circle cx="181" cy="290" r="1.55" fill="#000"/>
<circle cx="183" cy="294" r="1.55" fill="#000"/>
<circle cx="188" cy="318" r="1.55" fill="#000"/>
<circle cx="184" cy="322" r="1.55" fill="#000"/>
<circle cx="180" cy="326" r="1.55" fill="#000"/>
<circle cx="178" cy="317" r="1.55" fill="#000"/>
<circle cx="176" cy="330" r="1.55" fill="#000"/>
<circle cx="173" cy="334" r="1.55" fill="#000"/>
<circle cx="179" cy="310" r="1.55" fill="#000"/>
<circle cx="198" cy="266" r="1.55" fill="#000"/>
<circle cx="203" cy="264" r="1.55" fill="#000"/>
<circle cx="218" cy="268" r="1.55" fill="#000"/>
<circle cx="160.5" cy="252" r="1.55" fill="#000"/>
<circle cx="164" cy="256" r="1.55" fill="#000"/>
<circle cx="157" cy="260" r="1.55" fill="#000"/>
<line x1="134.6" y1="219.7" x2="134.6" y2="358.6" stroke="#ff1414" stroke-width="1.5" stroke-dasharray="3 8.2"/>
<line x1="155.2" y1="219.7" x2="155.2" y2="358.6" stroke="#ff1414" stroke-width="1.5" stroke-dasharray="3 8.2"/>
<text x="127.8" y="233.6" font-size="9.6" text-anchor="end" fill="#ff1414" stroke="#ff1414" stroke-width="0.22" textLength="20" lengthAdjust="spacingAndGlyphs">X=-1</text>
<text x="159.4" y="233.6" font-size="9.6" fill="#ff1414" stroke="#ff1414" stroke-width="0.22" textLength="16" lengthAdjust="spacingAndGlyphs">X=1</text>
<circle cx="229.3" cy="314.2" r="2.3" fill="#ff1414"/>
<text x="209.2" y="329.4" font-size="7.4" fill="#222" stroke="#222" stroke-width="0.22" textLength="34" lengthAdjust="spacingAndGlyphs">TMEM189</text>
<rect x="40.9" y="219.4" width="208" height="138.2" fill="none" stroke="#000" stroke-width="1.35"/>
<line x1="35.7" y1="357.6" x2="40.9" y2="357.6" stroke="#000" stroke-width="1.3"/>
<text x="33.3" y="361" font-size="9.6" text-anchor="end" stroke="#000" stroke-width="0.22">0</text>
<line x1="35.7" y1="329.96" x2="40.9" y2="329.96" stroke="#000" stroke-width="1.3"/>
<text x="33.3" y="333.36" font-size="9.6" text-anchor="end" stroke="#000" stroke-width="0.22">2</text>
<line x1="35.7" y1="302.32" x2="40.9" y2="302.32" stroke="#000" stroke-width="1.3"/>
<text x="33.3" y="305.72" font-size="9.6" text-anchor="end" stroke="#000" stroke-width="0.22">4</text>
<line x1="35.7" y1="274.68" x2="40.9" y2="274.68" stroke="#000" stroke-width="1.3"/>
<text x="33.3" y="278.08" font-size="9.6" text-anchor="end" stroke="#000" stroke-width="0.22">6</text>
<line x1="35.7" y1="247.04" x2="40.9" y2="247.04" stroke="#000" stroke-width="1.3"/>
<text x="33.3" y="250.44" font-size="9.6" text-anchor="end" stroke="#000" stroke-width="0.22">8</text>
<line x1="35.7" y1="219.4" x2="40.9" y2="219.4" stroke="#000" stroke-width="1.3"/>
<text x="33.3" y="222.8" font-size="9.6" text-anchor="end" stroke="#000" stroke-width="0.22">10</text>
<line x1="40.9" y1="357.6" x2="40.9" y2="363.1" stroke="#000" stroke-width="1.3"/>
<text x="40.9" y="374.8" font-size="9.6" text-anchor="middle" stroke="#000" stroke-width="0.22">-10</text>
<line x1="92.9" y1="357.6" x2="92.9" y2="363.1" stroke="#000" stroke-width="1.3"/>
<text x="92.9" y="374.8" font-size="9.6" text-anchor="middle" stroke="#000" stroke-width="0.22">-5</text>
<line x1="144.9" y1="357.6" x2="144.9" y2="363.1" stroke="#000" stroke-width="1.3"/>
<text x="144.9" y="374.8" font-size="9.6" text-anchor="middle" stroke="#000" stroke-width="0.22">0</text>
<line x1="196.9" y1="357.6" x2="196.9" y2="363.1" stroke="#000" stroke-width="1.3"/>
<text x="196.9" y="374.8" font-size="9.6" text-anchor="middle" stroke="#000" stroke-width="0.22">5</text>
<line x1="248.9" y1="357.6" x2="248.9" y2="363.1" stroke="#000" stroke-width="1.3"/>
<text x="248.9" y="374.8" font-size="9.6" text-anchor="middle" stroke="#000" stroke-width="0.22">10</text>
<text x="145" y="391" font-size="9" text-anchor="middle" stroke="#000" stroke-width="0.22" textLength="179" lengthAdjust="spacingAndGlyphs">log2 (gene mRNA levels fold change)</text>
<text x="15.6" y="283.6" font-size="9.3" text-anchor="middle" stroke="#000" stroke-width="0.22" transform="rotate(-90 15.6 283.6)" textLength="76" lengthAdjust="spacingAndGlyphs">-log10 (p-value)</text>
<text x="291.2" y="196.5" font-size="14" stroke="#000" stroke-width="0.22">c</text>
<text x="359" y="207.6" font-size="10" font-weight="normal" stroke="#000" stroke-width="0.3" textLength="63" lengthAdjust="spacingAndGlyphs">48h treatment</text>
<text x="325.6" y="273.2" font-size="9.3" text-anchor="middle" stroke="#000" stroke-width="0.22" transform="rotate(-90 325.6 273.2)" textLength="156" lengthAdjust="spacingAndGlyphs">Relative TMEM189 mRNA levels</text>
<path d="M358.65 332V311.25H370.05V332" stroke="#000" stroke-width="1.9" fill="none"/>
<line x1="364.35" y1="302.9" x2="364.35" y2="317" stroke="#000" stroke-width="1"/>
<line x1="361.35" y1="302.9" x2="367.35" y2="302.9" stroke="#000" stroke-width="1"/>
<line x1="361.35" y1="317" x2="367.35" y2="317" stroke="#000" stroke-width="1"/>
<circle cx="359.1" cy="304.8" r="2" fill="#000"/>
<circle cx="369.4" cy="306.5" r="2" fill="#000"/>
<circle cx="364.1" cy="317.6" r="2" fill="#000"/>
<path d="M380.35 332V292.55H391.45V332" stroke="#000" stroke-width="1.9" fill="none"/>
<line x1="385.9" y1="290" x2="385.9" y2="293.5" stroke="#000" stroke-width="1"/>
<line x1="382.9" y1="290" x2="388.9" y2="290" stroke="#000" stroke-width="1"/>
<line x1="382.9" y1="293.5" x2="388.9" y2="293.5" stroke="#000" stroke-width="1"/>
<circle cx="381.6" cy="290.6" r="2" fill="#000"/>
<circle cx="386" cy="292.2" r="2" fill="#000"/>
<circle cx="390.6" cy="292.2" r="2" fill="#000"/>
<path d="M401.65 332V279.35H413.05V332" stroke="#000" stroke-width="1.9" fill="none"/>
<line x1="407.35" y1="267.4" x2="407.35" y2="290" stroke="#000" stroke-width="1"/>
<line x1="404.35" y1="267.4" x2="410.35" y2="267.4" stroke="#000" stroke-width="1"/>
<line x1="404.35" y1="290" x2="410.35" y2="290" stroke="#000" stroke-width="1"/>
<circle cx="402.7" cy="271.5" r="2" fill="#000"/>
<circle cx="412.7" cy="272.7" r="2" fill="#000"/>
<circle cx="407.7" cy="290.4" r="2" fill="#000"/>
<path d="M437.75 332V305.55H448.85V332" stroke="#ff1414" stroke-width="1.9" fill="none"/>
<line x1="443.3" y1="285.7" x2="443.3" y2="322.9" stroke="#ff1414" stroke-width="1"/>
<line x1="440.3" y1="285.7" x2="446.3" y2="285.7" stroke="#ff1414" stroke-width="1"/>
<line x1="440.3" y1="322.9" x2="446.3" y2="322.9" stroke="#ff1414" stroke-width="1"/>
<circle cx="438.2" cy="291.8" r="2" fill="#ff1414"/>
<circle cx="447.9" cy="295.4" r="2" fill="#ff1414"/>
<circle cx="443.2" cy="325.1" r="2" fill="#ff1414"/>
<path d="M459.35 332V260.05H471.05V332" stroke="#ff1414" stroke-width="1.9" fill="none"/>
<line x1="465.2" y1="246.9" x2="465.2" y2="268.2" stroke="#ff1414" stroke-width="1"/>
<line x1="462.2" y1="246.9" x2="468.2" y2="246.9" stroke="#ff1414" stroke-width="1"/>
<line x1="462.2" y1="268.2" x2="468.2" y2="268.2" stroke="#ff1414" stroke-width="1"/>
<circle cx="459.8" cy="250.2" r="2" fill="#ff1414"/>
<circle cx="469.5" cy="253" r="2" fill="#ff1414"/>
<circle cx="464.5" cy="271.5" r="2" fill="#ff1414"/>
<path d="M480.75 332V223.35H492.15V332" stroke="#ff1414" stroke-width="1.9" fill="none"/>
<line x1="486.45" y1="209.4" x2="486.45" y2="234.9" stroke="#ff1414" stroke-width="1"/>
<line x1="483.45" y1="209.4" x2="489.45" y2="209.4" stroke="#ff1414" stroke-width="1"/>
<line x1="483.45" y1="234.9" x2="489.45" y2="234.9" stroke="#ff1414" stroke-width="1"/>
<circle cx="486.7" cy="212.7" r="2" fill="#ff1414"/>
<circle cx="487.6" cy="217.7" r="2" fill="#ff1414"/>
<circle cx="486.2" cy="236.3" r="2" fill="#ff1414"/>
<path d="M516.55 332V310.35H528.35V332" stroke="#1010ff" stroke-width="1.9" fill="none"/>
<line x1="522.45" y1="307" x2="522.45" y2="312" stroke="#1010ff" stroke-width="1"/>
<line x1="519.45" y1="307" x2="525.45" y2="307" stroke="#1010ff" stroke-width="1"/>
<line x1="519.45" y1="312" x2="525.45" y2="312" stroke="#1010ff" stroke-width="1"/>
<circle cx="517.6" cy="308" r="2" fill="#1010ff"/>
<circle cx="518.5" cy="312.5" r="2" fill="#1010ff"/>
<circle cx="527" cy="310.2" r="2" fill="#1010ff"/>
<path d="M538.25 332V289.25H549.95V332" stroke="#1010ff" stroke-width="1.9" fill="none"/>
<line x1="544.1" y1="276" x2="544.1" y2="299.4" stroke="#1010ff" stroke-width="1"/>
<line x1="541.1" y1="276" x2="547.1" y2="276" stroke="#1010ff" stroke-width="1"/>
<line x1="541.1" y1="299.4" x2="547.1" y2="299.4" stroke="#1010ff" stroke-width="1"/>
<circle cx="544.1" cy="275.5" r="2" fill="#1010ff"/>
<circle cx="539.2" cy="296" r="2" fill="#1010ff"/>
<circle cx="548.9" cy="293.2" r="2" fill="#1010ff"/>
<path d="M559.85 332V279.85H571.65V332" stroke="#1010ff" stroke-width="1.9" fill="none"/>
<line x1="565.75" y1="257.6" x2="565.75" y2="299.7" stroke="#1010ff" stroke-width="1"/>
<line x1="562.75" y1="257.6" x2="568.75" y2="257.6" stroke="#1010ff" stroke-width="1"/>
<line x1="562.75" y1="299.7" x2="568.75" y2="299.7" stroke="#1010ff" stroke-width="1"/>
<circle cx="565.7" cy="254.2" r="2" fill="#1010ff"/>
<circle cx="565.7" cy="286" r="2" fill="#1010ff"/>
<circle cx="565.7" cy="295.2" r="2" fill="#1010ff"/>
<path d="M349.4 201V332H580.5" stroke="#000" stroke-width="1.5" fill="none"/>
<line x1="343" y1="332" x2="349.4" y2="332" stroke="#000" stroke-width="1.4"/>
<text x="341.4" y="335.6" font-size="10" text-anchor="end" stroke="#000" stroke-width="0.22">0</text>
<line x1="343" y1="288.53" x2="349.4" y2="288.53" stroke="#000" stroke-width="1.4"/>
<text x="341.4" y="292.13" font-size="10" text-anchor="end" stroke="#000" stroke-width="0.22">2</text>
<line x1="343" y1="245.07" x2="349.4" y2="245.07" stroke="#000" stroke-width="1.4"/>
<text x="341.4" y="248.67" font-size="10" text-anchor="end" stroke="#000" stroke-width="0.22">4</text>
<line x1="343" y1="201.6" x2="349.4" y2="201.6" stroke="#000" stroke-width="1.4"/>
<text x="341.4" y="205.2" font-size="10" text-anchor="end" stroke="#000" stroke-width="0.22">6</text>
<line x1="364.35" y1="332" x2="364.35" y2="336.5" stroke="#000" stroke-width="1.4"/>
<text x="349.3" y="365.9" font-size="9.4" stroke="#000" stroke-width="0.22" transform="rotate(-51 349.3 365.9)" textLength="27.5" lengthAdjust="spacingAndGlyphs">DMSO</text>
<line x1="385.9" y1="332" x2="385.9" y2="336.5" stroke="#000" stroke-width="1.4"/>
<text x="369.1" y="370" font-size="9.4" stroke="#000" stroke-width="0.22" transform="rotate(-51 369.1 370)" textLength="32.5" lengthAdjust="spacingAndGlyphs">Erastin</text>
<line x1="407.35" y1="332" x2="407.35" y2="336.5" stroke="#000" stroke-width="1.4"/>
<text x="399.6" y="364.1" font-size="9.4" stroke="#000" stroke-width="0.22" transform="rotate(-51 399.6 364.1)" textLength="24" lengthAdjust="spacingAndGlyphs">RSL3</text>
<line x1="443.3" y1="332" x2="443.3" y2="336.5" stroke="#000" stroke-width="1.4"/>
<text x="429.3" y="368.2" font-size="9.4" stroke="#000" stroke-width="0.22" transform="rotate(-51 429.3 368.2)" textLength="27.5" lengthAdjust="spacingAndGlyphs">DMSO</text>
<line x1="465.2" y1="332" x2="465.2" y2="336.5" stroke="#000" stroke-width="1.4"/>
<text x="447.9" y="371.1" font-size="9.4" stroke="#000" stroke-width="0.22" transform="rotate(-51 447.9 371.1)" textLength="32.5" lengthAdjust="spacingAndGlyphs">Erastin</text>
<line x1="486.45" y1="332" x2="486.45" y2="336.5" stroke="#000" stroke-width="1.4"/>
<text x="477.7" y="365.4" font-size="9.4" stroke="#000" stroke-width="0.22" transform="rotate(-51 477.7 365.4)" textLength="24" lengthAdjust="spacingAndGlyphs">RSL3</text>
<line x1="522.45" y1="332" x2="522.45" y2="336.5" stroke="#000" stroke-width="1.4"/>
<text x="508.1" y="369.4" font-size="9.4" stroke="#000" stroke-width="0.22" transform="rotate(-51 508.1 369.4)" textLength="27.5" lengthAdjust="spacingAndGlyphs">DMSO</text>
<line x1="544.1" y1="332" x2="544.1" y2="336.5" stroke="#000" stroke-width="1.4"/>
<text x="528" y="372.9" font-size="9.4" stroke="#000" stroke-width="0.22" transform="rotate(-51 528 372.9)" textLength="32.5" lengthAdjust="spacingAndGlyphs">Erastin</text>
<line x1="565.75" y1="332" x2="565.75" y2="336.5" stroke="#000" stroke-width="1.4"/>
<text x="558.3" y="366.5" font-size="9.4" stroke="#000" stroke-width="0.22" transform="rotate(-51 558.3 366.5)" textLength="24" lengthAdjust="spacingAndGlyphs">RSL3</text>
<line x1="349.7" y1="379.1" x2="410.8" y2="379.1" stroke="#000" stroke-width="1.4"/>
<text x="379.9" y="396.3" font-size="10" text-anchor="middle" stroke="#000" stroke-width="0.22">U2OS</text>
<line x1="430.5" y1="379.1" x2="491.6" y2="379.1" stroke="#000" stroke-width="1.4"/>
<text x="457.7" y="396.3" font-size="10" text-anchor="middle" stroke="#000" stroke-width="0.22">HT1080</text>
<line x1="512.1" y1="379.1" x2="572.4" y2="379.1" stroke="#000" stroke-width="1.4"/>
<text x="549.3" y="396.3" font-size="10" text-anchor="middle" stroke="#000" stroke-width="0.22">786-O</text>
<text x="352.7" y="277.4" font-size="9.3" stroke="#000" stroke-width="0.22" textLength="43.3" lengthAdjust="spacingAndGlyphs">p=0.0125</text>
<line x1="362.5" y1="282.1" x2="387.4" y2="282.1" stroke="#000" stroke-width="1.6"/>
<text x="363.8" y="254.9" font-size="9.3" stroke="#000" stroke-width="0.22" textLength="42.5" lengthAdjust="spacingAndGlyphs">p=0.0127</text>
<line x1="363.8" y1="260.7" x2="407.1" y2="260.7" stroke="#000" stroke-width="1.6"/>
<text x="433.2" y="237.2" font-size="9.3" stroke="#000" stroke-width="0.22" textLength="36.8" lengthAdjust="spacingAndGlyphs">p=0.022</text>
<line x1="442.3" y1="241.9" x2="460.4" y2="241.9" stroke="#000" stroke-width="1.6"/>
<text x="443.7" y="200.3" font-size="9.3" stroke="#000" stroke-width="0.22" textLength="42.5" lengthAdjust="spacingAndGlyphs">p=0.0031</text>
<line x1="444.6" y1="205.8" x2="486.7" y2="205.8" stroke="#000" stroke-width="1.6"/>
<text x="515.6" y="263.8" font-size="9.3" stroke="#000" stroke-width="0.22" textLength="31.3" lengthAdjust="spacingAndGlyphs">p=0.03</text>
<line x1="521.9" y1="269.3" x2="546.9" y2="269.3" stroke="#000" stroke-width="1.6"/>
<text x="523.6" y="240.5" font-size="9.3" stroke="#000" stroke-width="0.22" textLength="37" lengthAdjust="spacingAndGlyphs">p=0.062</text>
<line x1="521.3" y1="246.2" x2="564.6" y2="246.2" stroke="#000" stroke-width="1.6"/>
<defs><filter id="b1" x="-30%" y="-80%" width="160%" height="260%"><feGaussianBlur stdDeviation="0.9"/></filter><filter id="b2" x="-30%" y="-80%" width="160%" height="260%"><feGaussianBlur stdDeviation="1.5"/></filter></defs>
<text x="7.2" y="408.6" font-size="14.5" stroke="#000" stroke-width="0.22">d</text>
<text x="28.2" y="418.5" font-size="9.8" stroke="#000" stroke-width="0.22" textLength="34.2" lengthAdjust="spacingAndGlyphs">Erastin</text>
<text x="84.7" y="418.5" font-size="9.8" text-anchor="middle" stroke="#000" stroke-width="0.22">0</text>
<text x="116.8" y="418.5" font-size="9.8" text-anchor="middle" stroke="#000" stroke-width="0.22">12</text>
<text x="147.8" y="418.5" font-size="9.8" text-anchor="middle" stroke="#000" stroke-width="0.22">24</text>
<text x="181.4" y="418.5" font-size="9.8" text-anchor="middle" stroke="#000" stroke-width="0.22">48</text>
<text x="208.8" y="418.5" font-size="9.8" text-anchor="middle" stroke="#000" stroke-width="0.22">(h)</text>
<defs><linearGradient id="gd1" x1="0" y1="0" x2="0" y2="1"><stop offset="0" stop-color="#a4a4a4"/><stop offset="0.4" stop-color="#c4c4c4"/><stop offset="1" stop-color="#cfcfcf"/></linearGradient></defs>
<rect x="65.4" y="426.5" width="129.8" height="17" fill="url(#gd1)" stroke="#222" stroke-width="1.1"/>
<path d="M68.8 434Q68.8 430.8 74.56 430.8L89.24 430.8Q95 430.8 95 434Q95 437.2 89.24 437.2L74.56 437.2Q68.8 437.2 68.8 434Z" fill="#000" filter="url(#b1)"/>
<path d="M100.2 434Q100.2 430.6 107.02 430.6L124.38 430.6Q131.2 430.6 131.2 434Q131.2 437.4 124.38 437.4L107.02 437.4Q100.2 437.4 100.2 434Z" fill="#000" filter="url(#b1)"/>
<path d="M136.2 434.8Q136.2 432.6 140.89 432.6L152.81 432.6Q157.5 432.6 157.5 434.8Q157.5 437 152.81 437L140.89 437Q136.2 437 136.2 434.8Z" fill="#6a6a6a" filter="url(#b1)"/>
<path d="M164 435.4Q164 433.6 169.94 433.6L185.06 433.6Q191 433.6 191 435.4Q191 437.2 185.06 437.2L169.94 437.2Q164 437.2 164 435.4Z" fill="#b4b4b4" filter="url(#b2)"/>
<rect x="65.4" y="446.2" width="129.8" height="33.8" fill="#f7f7f7" stroke="#222" stroke-width="1.1"/>
<path d="M68.8 466.6Q68.8 464.7 75 464.7L90.8 464.7Q97 464.7 97 466.6Q97 468.5 90.8 468.5L75 468.5Q68.8 468.5 68.8 466.6Z" fill="#8a8a8a" filter="url(#b1)"/>
<path d="M101.5 466.6Q101.5 464.8 107.73 464.8L123.57 464.8Q129.8 464.8 129.8 466.6Q129.8 468.4 123.57 468.4L107.73 468.4Q101.5 468.4 101.5 466.6Z" fill="#9c9c9c" filter="url(#b1)"/>
<path d="M137 467Q137 463.7 142.46 463.7L156.34 463.7Q161.8 463.7 161.8 467Q161.8 470.3 156.34 470.3L142.46 470.3Q137 470.3 137 467Z" fill="#000" filter="url(#b1)"/>
<path d="M164.8 467Q164.8 464.3 170.61 464.3L185.39 464.3Q191.2 464.3 191.2 467Q191.2 469.7 185.39 469.7L170.61 469.7Q164.8 469.7 164.8 467Z" fill="#141414" filter="url(#b1)"/>
<rect x="65.4" y="482.5" width="129.8" height="27.8" fill="#f6f6f6" stroke="#222" stroke-width="1.1"/>
<ellipse cx="86.5" cy="497.6" rx="15.2" ry="4.3" transform="rotate(-4 86.5 497.6)" fill="#000" filter="url(#b1)"/>
<ellipse cx="117.8" cy="495.8" rx="17.5" ry="3.8" transform="rotate(-2 117.8 495.8)" fill="#000" filter="url(#b1)"/>
<ellipse cx="149" cy="494.7" rx="15.5" ry="4.7" transform="rotate(0 149 494.7)" fill="#000" filter="url(#b1)"/>
<ellipse cx="178.6" cy="493.9" rx="15.6" ry="4.5" transform="rotate(2 178.6 493.9)" fill="#000" filter="url(#b1)"/>
<text x="53.5" y="433.8" font-size="9.6" text-anchor="end" stroke="#000" stroke-width="0.22">55</text>
<line x1="55" y1="430.6" x2="63.7" y2="430.6" stroke="#000" stroke-width="1.2"/>
<text x="53.5" y="463.7" font-size="9.6" text-anchor="end" stroke="#000" stroke-width="0.22">35</text>
<line x1="55" y1="460.5" x2="63.7" y2="460.5" stroke="#000" stroke-width="1.2"/>
<text x="53.2" y="491.3" font-size="9.6" text-anchor="end" stroke="#000" stroke-width="0.22">40</text>
<line x1="57.2" y1="488.1" x2="65.6" y2="488.1" stroke="#000" stroke-width="1.2"/>
<text x="202.6" y="438.9" font-size="10" stroke="#000" stroke-width="0.22" textLength="25.6" lengthAdjust="spacingAndGlyphs">FAR1</text>
<text x="202.6" y="467.4" font-size="10" stroke="#000" stroke-width="0.22" textLength="45.6" lengthAdjust="spacingAndGlyphs">TMEM189</text>
<text x="202.6" y="495.5" font-size="10" stroke="#000" stroke-width="0.22">GAPDH</text>
<text x="300.8" y="408.2" font-size="14.5" stroke="#000" stroke-width="0.22">e</text>
<text x="379.9" y="424.1" font-size="9.8" text-anchor="end" stroke="#000" stroke-width="0.22" textLength="25.6" lengthAdjust="spacingAndGlyphs">FAR1</text>
<text x="381.4" y="439.1" font-size="9.4" text-anchor="end" stroke="#000" stroke-width="0.22" textLength="70.9" lengthAdjust="spacingAndGlyphs">Flag-TMEM189</text>
<text x="402.3" y="424" font-size="9.5" text-anchor="middle" stroke="#000" stroke-width="0.22">-</text>
<text x="402.3" y="439" font-size="9.5" text-anchor="middle" stroke="#000" stroke-width="0.22">-</text>
<text x="428" y="424" font-size="9.5" text-anchor="middle" stroke="#000" stroke-width="0.22">+</text>
<text x="428" y="439" font-size="9.5" text-anchor="middle" stroke="#000" stroke-width="0.22">-</text>
<text x="458.7" y="424" font-size="9.5" text-anchor="middle" stroke="#000" stroke-width="0.22">+</text>
<text x="458.7" y="439" font-size="9.5" text-anchor="middle" stroke="#000" stroke-width="0.22">+</text>
<text x="487.1" y="424" font-size="9.5" text-anchor="middle" stroke="#000" stroke-width="0.22">+</text>
<text x="487.1" y="439" font-size="9.5" text-anchor="middle" stroke="#000" stroke-width="0.22">++</text>
<text x="514.7" y="424" font-size="9.5" text-anchor="middle" stroke="#000" stroke-width="0.22">+</text>
<text x="514.7" y="439" font-size="9.5" text-anchor="middle" stroke="#000" stroke-width="0.22">+++</text>
<defs><linearGradient id="ge1" x1="0" y1="0" x2="0" y2="1"><stop offset="0" stop-color="#dcdcdc"/><stop offset="0.35" stop-color="#efefef"/><stop offset="1" stop-color="#f6f6f6"/></linearGradient></defs>
<rect x="384.2" y="440.2" width="148.8" height="19.2" fill="url(#ge1)" stroke="#222" stroke-width="1.1"/>
<path d="M392 453.6Q392 452.1 395.52 452.1L404.48 452.1Q408 452.1 408 453.6Q408 455.1 404.48 455.1L395.52 455.1Q392 455.1 392 453.6Z" fill="#bdbdbd" filter="url(#b2)"/>
<path d="M415.5 453.3Q415.5 450.3 421 450.3L435 450.3Q440.5 450.3 440.5 453.3Q440.5 456.3 435 456.3L421 456.3Q415.5 456.3 415.5 453.3Z" fill="#2a2a2a" filter="url(#b1)"/>
<path d="M446.5 454Q446.5 452.5 451.23 452.5L463.27 452.5Q468 452.5 468 454Q468 455.5 463.27 455.5L451.23 455.5Q446.5 455.5 446.5 454Z" fill="#d4d4d4" filter="url(#b2)"/>
<path d="M475.5 454.6Q475.5 453 480.67 453L493.83 453Q499 453 499 454.6Q499 456.2 493.83 456.2L480.67 456.2Q475.5 456.2 475.5 454.6Z" fill="#c6c6c6" filter="url(#b2)"/>
<path d="M506 454.6Q506 453.1 510.18 453.1L520.82 453.1Q525 453.1 525 454.6Q525 456.1 520.82 456.1L510.18 456.1Q506 456.1 506 454.6Z" fill="#d2d2d2" filter="url(#b2)"/>
<rect x="384.2" y="463.6" width="148.8" height="37.8" fill="#fcfcfc" stroke="#222" stroke-width="1.1"/>
<path d="M445.4 479.3Q445.4 477.3 449.27 477.3L459.13 477.3Q463 477.3 463 479.3Q463 481.3 459.13 481.3L449.27 481.3Q445.4 481.3 445.4 479.3Z" fill="#505050" filter="url(#b1)"/>
<ellipse cx="482.8" cy="480.4" rx="13.2" ry="7.0" fill="#000" filter="url(#b1)"/>
<path d="M497 480.4 Q497 475.6 505 475.6 L516 476.2 Q524 477.5 528 480.6 Q524 483.5 516 484.8 L505 485.2 Q497 485.2 497 480.4Z" fill="#000" filter="url(#b1)"/>
<rect x="384.2" y="506.1" width="148.8" height="29.2" fill="#f7f7f7" stroke="#222" stroke-width="1.1"/>
<path d="M384.8 506.7H395L384.8 514Z" fill="#1a1a1a"/>
<path d="M386.5 516.4Q386.5 512.65 391.34 512.65L403.66 512.65Q408.5 512.65 408.5 516.4Q408.5 520.15 403.66 520.15L391.34 520.15Q386.5 520.15 386.5 516.4Z" fill="#000" filter="url(#b1)"/>
<path d="M412 516.2Q412 510.95 417.94 510.95L433.06 510.95Q439 510.95 439 516.2Q439 521.45 433.06 521.45L417.94 521.45Q412 521.45 412 516.2Z" fill="#000" filter="url(#b1)"/>
<path d="M445.5 515.2Q445.5 511.1 451 511.1L465 511.1Q470.5 511.1 470.5 515.2Q470.5 519.3 465 519.3L451 519.3Q445.5 519.3 445.5 515.2Z" fill="#000" filter="url(#b1)"/>
<path d="M474.2 515.5Q474.2 510.4 480.21 510.4L495.49 510.4Q501.5 510.4 501.5 515.5Q501.5 520.6 495.49 520.6L480.21 520.6Q474.2 520.6 474.2 515.5Z" fill="#000" filter="url(#b1)"/>
<path d="M505.8 515.3Q505.8 511.2 511.52 511.2L526.08 511.2Q531.8 511.2 531.8 515.3Q531.8 519.4 526.08 519.4L511.52 519.4Q505.8 519.4 505.8 515.3Z" fill="#000" filter="url(#b1)"/>
<text x="371" y="453.4" font-size="9" text-anchor="end" stroke="#000" stroke-width="0.22">55</text>
<line x1="372.8" y1="450.2" x2="382.8" y2="450.2" stroke="#000" stroke-width="1.2"/>
<text x="371" y="482.2" font-size="9" text-anchor="end" stroke="#000" stroke-width="0.22">35</text>
<line x1="372.8" y1="479" x2="382.8" y2="479" stroke="#000" stroke-width="1.2"/>
<text x="373.8" y="524.3" font-size="9" text-anchor="end" stroke="#000" stroke-width="0.22">100</text>
<line x1="374.6" y1="521.1" x2="384" y2="521.1" stroke="#000" stroke-width="1.2"/>
<text x="537.5" y="456.3" font-size="10" stroke="#000" stroke-width="0.22" textLength="25.6" lengthAdjust="spacingAndGlyphs">FAR1</text>
<text x="537.5" y="483" font-size="10" stroke="#000" stroke-width="0.22">flag</text>
<text x="537.5" y="516.6" font-size="10" stroke="#000" stroke-width="0.22">vinculin</text>
<text x="292.6" y="537.6" font-size="14.5" stroke="#000" stroke-width="0.22">g</text>
<text x="333" y="614" font-size="9" stroke="#000" stroke-width="0.22" transform="rotate(-45 333 614)">sgNC</text>
<text x="365.2" y="614" font-size="9" stroke="#000" stroke-width="0.22" transform="rotate(-45 365.2 614)">TMEM189-sg1</text>
<text x="399.4" y="611.6" font-size="9" stroke="#000" stroke-width="0.22" transform="rotate(-45 399.4 611.6)">TMEM189-sg2</text>
<rect x="319.4" y="617.9" width="91" height="29.3" fill="#f6f6f6" stroke="#222" stroke-width="1.1"/>
<path d="M321.5 637.3Q321.5 635.5 326.89 635.5L340.61 635.5Q346 635.5 346 637.3Q346 639.1 340.61 639.1L326.89 639.1Q321.5 639.1 321.5 637.3Z" fill="#7a7a7a" filter="url(#b1)"/>
<path d="M396 645.5Q396 644.5 398.97 644.5L406.53 644.5Q409.5 644.5 409.5 645.5Q409.5 646.5 406.53 646.5L398.97 646.5Q396 646.5 396 645.5Z" fill="#aaa" filter="url(#b1)"/>
<rect x="319.4" y="649.6" width="91" height="27.8" fill="#f4f4f4" stroke="#222" stroke-width="1.1"/>
<path d="M321 662.6Q321 658.35 326.65 658.35L341.05 658.35Q346.7 658.35 346.7 662.6Q346.7 666.85 341.05 666.85L326.65 666.85Q321 666.85 321 662.6Z" fill="#000" filter="url(#b1)"/>
<path d="M350.4 662.6Q350.4 658.35 355.53 658.35L368.57 658.35Q373.7 658.35 373.7 662.6Q373.7 666.85 368.57 666.85L355.53 666.85Q350.4 666.85 350.4 662.6Z" fill="#000" filter="url(#b1)"/>
<path d="M381.2 662.3Q381.2 658.55 386.7 658.55L400.7 658.55Q406.2 658.55 406.2 662.3Q406.2 666.05 400.7 666.05L386.7 666.05Q381.2 666.05 381.2 662.3Z" fill="#000" filter="url(#b1)"/>
<text x="306" y="636.9" font-size="9.2" text-anchor="end" stroke="#000" stroke-width="0.22">35</text>
<line x1="308" y1="633.7" x2="316.6" y2="633.7" stroke="#000" stroke-width="1.2"/>
<text x="306" y="672.4" font-size="9.2" text-anchor="end" stroke="#000" stroke-width="0.22">100</text>
<line x1="307.4" y1="669.2" x2="317.6" y2="669.2" stroke="#000" stroke-width="1.2"/>
<text x="413.7" y="641" font-size="10" stroke="#000" stroke-width="0.22" textLength="45.6" lengthAdjust="spacingAndGlyphs">TMEM189</text>
<text x="415.4" y="660.8" font-size="10" stroke="#000" stroke-width="0.22">vinculin</text>
<line x1="476.3" y1="535.6" x2="476.3" y2="540" stroke="#000" stroke-width="1.3"/>
<line x1="481.6" y1="535.6" x2="481.6" y2="540" stroke="#000" stroke-width="1.3"/>
<text x="8.6" y="756.6" font-size="14.5" stroke="#000" stroke-width="0.22">i</text>
<text x="26.9" y="803.4" font-size="8.2" stroke="#000" stroke-width="0.22" textLength="57.8" lengthAdjust="spacingAndGlyphs">TMEM189-sg1</text>
<line x1="29.2" y1="811" x2="83.2" y2="811" stroke="#000" stroke-width="1.4"/>
<text x="98.7" y="803.4" font-size="8.2" stroke="#000" stroke-width="0.22" textLength="59" lengthAdjust="spacingAndGlyphs">TMEM189-sg2</text>
<line x1="97.8" y1="811" x2="151.2" y2="811" stroke="#000" stroke-width="1.4"/>
<text x="43.8" y="856.4" font-size="8.6" stroke="#000" stroke-width="0.22" transform="rotate(-90 43.8 856.4)">NC</text>
<text x="73" y="856.4" font-size="8.6" stroke="#000" stroke-width="0.22" transform="rotate(-90 73 856.4)">TMEM189</text>
<text x="115.3" y="856.4" font-size="8.6" stroke="#000" stroke-width="0.22" transform="rotate(-90 115.3 856.4)">NC</text>
<text x="144.5" y="856.4" font-size="8.6" stroke="#000" stroke-width="0.22" transform="rotate(-90 144.5 856.4)">TMEM189</text>
<rect x="27.2" y="857.4" width="51.6" height="26.2" fill="#f6f6f6" stroke="#222" stroke-width="1.1"/>
<path d="M27.6 869.8 Q33 866.2 40.5 866.0 L41 868.6 Q34 869.4 27.6 874.2Z" fill="#000" filter="url(#b1)"/>
<path d="M41.5 870.8Q41.5 869.2 42.82 869.2L46.18 869.2Q47.5 869.2 47.5 870.8Q47.5 872.4 46.18 872.4L42.82 872.4Q41.5 872.4 41.5 870.8Z" fill="#444" filter="url(#b1)"/>
<path d="M55.2 868 Q55.5 861.5 60 860.8 Q70 860.8 76 862.5 Q78.6 865 78.4 867.5 Q77 871.6 68 871.8 L58 871.8 Q55.2 871 55.2 868Z" fill="#000" filter="url(#b1)"/>
<line x1="55.5" y1="858" x2="55.5" y2="866" stroke="#777" stroke-width="0.6"/>
<rect x="27.2" y="886" width="51.6" height="20.4" fill="#f4f4f4" stroke="#222" stroke-width="1.1"/>
<path d="M29 895.8Q29 892.6 34.28 892.6L47.72 892.6Q53 892.6 53 895.8Q53 899 47.72 899L34.28 899Q29 899 29 895.8Z" fill="#000" filter="url(#b1)"/>
<path d="M55.5 895.8Q55.5 892.6 60.23 892.6L72.27 892.6Q77 892.6 77 895.8Q77 899 72.27 899L60.23 899Q55.5 899 55.5 895.8Z" fill="#000" filter="url(#b1)"/>
<rect x="97.2" y="857.4" width="51.7" height="23.3" fill="#f7f7f7" stroke="#222" stroke-width="1.1"/>
<path d="M127.5 867.4Q127.5 865.7 131.13 865.7L140.37 865.7Q144 865.7 144 867.4Q144 869.1 140.37 869.1L131.13 869.1Q127.5 869.1 127.5 867.4Z" fill="#4a4a4a" filter="url(#b1)"/>
<rect x="97.2" y="883" width="51.7" height="21.1" fill="#f4f4f4" stroke="#222" stroke-width="1.1"/>
<path d="M98.2 892.9Q98.2 889.7 102.73 889.7L114.27 889.7Q118.8 889.7 118.8 892.9Q118.8 896.1 114.27 896.1L102.73 896.1Q98.2 896.1 98.2 892.9Z" fill="#000" filter="url(#b1)"/>
<path d="M122.4 892.9Q122.4 889.7 127.64 889.7L140.96 889.7Q146.2 889.7 146.2 892.9Q146.2 896.1 140.96 896.1L127.64 896.1Q122.4 896.1 122.4 892.9Z" fill="#000" filter="url(#b1)"/>
<text x="17.6" y="865.2" font-size="9.2" text-anchor="end" stroke="#000" stroke-width="0.22">35</text>
<line x1="19" y1="862" x2="27.2" y2="862" stroke="#000" stroke-width="1.2"/>
<text x="16.2" y="904.8" font-size="9.2" text-anchor="end" stroke="#000" stroke-width="0.22">100</text>
<line x1="17.5" y1="901.6" x2="27.2" y2="901.6" stroke="#000" stroke-width="1.2"/>
<text x="151.2" y="870.6" font-size="10" stroke="#000" stroke-width="0.22" textLength="45.6" lengthAdjust="spacingAndGlyphs">TMEM189</text>
<text x="152.4" y="900.2" font-size="10" stroke="#000" stroke-width="0.22">vinculin</text>
<text x="391.6" y="762.9" font-size="14.5" stroke="#000" stroke-width="0.22">k</text>
<text x="420.5" y="824.7" font-size="9" stroke="#000" stroke-width="0.22" transform="rotate(-45 420.5 824.7)">ctrl</text>
<text x="441.4" y="827.1" font-size="9" stroke="#000" stroke-width="0.22" transform="rotate(-45 441.4 827.1)">Flag-TMEM189</text>
<text x="477.1" y="823.6" font-size="9" stroke="#000" stroke-width="0.22" transform="rotate(-45 477.1 823.6)">Flag-GPX4</text>
<rect x="408" y="831.3" width="73.6" height="14.9" fill="#f4f4f4" stroke="#222" stroke-width="1.1"/>
<path d="M460.6 839.2Q460.6 837.4 464.71 837.4L475.19 837.4Q479.3 837.4 479.3 839.2Q479.3 841 475.19 841L464.71 841Q460.6 841 460.6 839.2Z" fill="#333" filter="url(#b1)"/>
<path d="M412 839.4Q412 838.15 416.4 838.15L427.6 838.15Q432 838.15 432 839.4Q432 840.65 427.6 840.65L416.4 840.65Q412 840.65 412 839.4Z" fill="#e2e2e2" filter="url(#b2)"/>
<rect x="408" y="849.3" width="73.6" height="14.5" fill="#f2f2f2" stroke="#222" stroke-width="1.1"/>
<path d="M411.5 856.3Q411.5 853.8 416.3 853.8L428.5 853.8Q433.3 853.8 433.3 856.3Q433.3 858.8 428.5 858.8L416.3 858.8Q411.5 858.8 411.5 856.3Z" fill="#000" filter="url(#b1)"/>
<path d="M437 857.5Q437 856 441.62 856L453.38 856Q458 856 458 857.5Q458 859 453.38 859L441.62 859Q437 859 437 857.5Z" fill="#d4d4d4" filter="url(#b2)"/>
<path d="M460.6 856.3Q460.6 854.1 464.87 854.1L475.73 854.1Q480 854.1 480 856.3Q480 858.5 475.73 858.5L464.87 858.5Q460.6 858.5 460.6 856.3Z" fill="#111" filter="url(#b1)"/>
<rect x="408" y="866.1" width="73.6" height="21" fill="#f6f6f6" stroke="#222" stroke-width="1.1"/>
<path d="M430.2 876.6Q430.2 871.35 436.89 871.35L453.91 871.35Q460.6 871.35 460.6 876.6Q460.6 881.85 453.91 881.85L436.89 881.85Q430.2 881.85 430.2 876.6Z" fill="#000" filter="url(#b1)"/>
<rect x="408" y="889.7" width="73.6" height="21.5" fill="#f4f4f4" stroke="#222" stroke-width="1.1"/>
<path d="M411.5 901.4Q411.5 898.65 415.99 898.65L427.41 898.65Q431.9 898.65 431.9 901.4Q431.9 904.15 427.41 904.15L415.99 904.15Q411.5 904.15 411.5 901.4Z" fill="#000" filter="url(#b1)"/>
<path d="M434.9 901.4Q434.9 898.9 439.52 898.9L451.28 898.9Q455.9 898.9 455.9 901.4Q455.9 903.9 451.28 903.9L439.52 903.9Q434.9 903.9 434.9 901.4Z" fill="#000" filter="url(#b1)"/>
<path d="M459 901.2Q459 898.45 463.62 898.45L475.38 898.45Q480 898.45 480 901.2Q480 903.95 475.38 903.95L463.62 903.95Q459 903.95 459 901.2Z" fill="#000" filter="url(#b1)"/>
<text x="394.2" y="839.4" font-size="9.2" text-anchor="end" stroke="#000" stroke-width="0.22">25</text>
<line x1="397.5" y1="836.2" x2="406.4" y2="836.2" stroke="#000" stroke-width="1.2"/>
<text x="394.2" y="855" font-size="9.2" text-anchor="end" stroke="#000" stroke-width="0.22">55</text>
<line x1="397.5" y1="851.8" x2="406.4" y2="851.8" stroke="#000" stroke-width="1.2"/>
<text x="394.2" y="875.2" font-size="9.2" text-anchor="end" stroke="#000" stroke-width="0.22">35</text>
<line x1="397.5" y1="872" x2="406.4" y2="872" stroke="#000" stroke-width="1.2"/>
<text x="397.5" y="913" font-size="9.2" text-anchor="end" stroke="#000" stroke-width="0.22">100</text>
<line x1="398.7" y1="909.8" x2="407.8" y2="909.8" stroke="#000" stroke-width="1.2"/>
<text x="485.1" y="842.4" font-size="10" stroke="#000" stroke-width="0.22">GPX4</text>
<text x="485.1" y="859.9" font-size="10" stroke="#000" stroke-width="0.22" textLength="25.6" lengthAdjust="spacingAndGlyphs">FAR1</text>
<text x="482.8" y="879.7" font-size="10" stroke="#000" stroke-width="0.22" textLength="45.6" lengthAdjust="spacingAndGlyphs">TMEM189</text>
<text x="484.6" y="905.4" font-size="10" stroke="#000" stroke-width="0.22">vinculin</text>
<text x="8" y="534.3" font-size="14.5" stroke="#000" stroke-width="0.22">f</text>
<path d="M58.55 677.3V664.25H67.85V677.3" stroke="#000" stroke-width="1.5" fill="none"/>
<line x1="63.2" y1="657.88" x2="63.2" y2="667.59" stroke="#000" stroke-width="1"/>
<line x1="60.7" y1="657.88" x2="65.7" y2="657.88" stroke="#000" stroke-width="1"/>
<line x1="60.7" y1="667.59" x2="65.7" y2="667.59" stroke="#000" stroke-width="1"/>
<circle cx="60" cy="659.16" r="2.05" fill="#000"/>
<circle cx="66.5" cy="661.2" r="2.05" fill="#000"/>
<circle cx="62.9" cy="669.38" r="2.05" fill="#000"/>
<path d="M76.05 677.3V653.01H84.55V677.3" stroke="#000" stroke-width="1.5" fill="none"/>
<line x1="80.3" y1="651.24" x2="80.3" y2="653.28" stroke="#000" stroke-width="1"/>
<line x1="77.8" y1="651.24" x2="82.8" y2="651.24" stroke="#000" stroke-width="1"/>
<line x1="77.8" y1="653.28" x2="82.8" y2="653.28" stroke="#000" stroke-width="1"/>
<circle cx="76.7" cy="652.77" r="2.05" fill="#000"/>
<circle cx="80.3" cy="652.01" r="2.05" fill="#000"/>
<circle cx="83.8" cy="652.01" r="2.05" fill="#000"/>
<path d="M92.15 677.3V655.05H101.45V677.3" stroke="#000" stroke-width="1.5" fill="none"/>
<line x1="96.8" y1="646.64" x2="96.8" y2="665.8" stroke="#000" stroke-width="1"/>
<line x1="94.3" y1="646.64" x2="99.3" y2="646.64" stroke="#000" stroke-width="1"/>
<line x1="94.3" y1="665.8" x2="99.3" y2="665.8" stroke="#000" stroke-width="1"/>
<circle cx="96.4" cy="646.13" r="2.05" fill="#000"/>
<circle cx="93.4" cy="658.14" r="2.05" fill="#000"/>
<circle cx="100.1" cy="656.09" r="2.05" fill="#000"/>
<path d="M109.35 677.3V658.63H118.35V677.3" stroke="#000" stroke-width="1.5" fill="none"/>
<line x1="113.85" y1="651.24" x2="113.85" y2="665.55" stroke="#000" stroke-width="1"/>
<line x1="111.35" y1="651.24" x2="116.35" y2="651.24" stroke="#000" stroke-width="1"/>
<line x1="111.35" y1="665.55" x2="116.35" y2="665.55" stroke="#000" stroke-width="1"/>
<circle cx="113.85" cy="651.75" r="2.05" fill="#000"/>
<circle cx="113.85" cy="659.41" r="2.05" fill="#000"/>
<circle cx="113.85" cy="664.78" r="2.05" fill="#000"/>
<path d="M137.15 677.3V659.4H146.15V677.3" stroke="#ff1414" stroke-width="1.5" fill="none"/>
<line x1="141.65" y1="654.3" x2="141.65" y2="664.52" stroke="#ff1414" stroke-width="1"/>
<line x1="139.15" y1="654.3" x2="144.15" y2="654.3" stroke="#ff1414" stroke-width="1"/>
<line x1="139.15" y1="664.52" x2="144.15" y2="664.52" stroke="#ff1414" stroke-width="1"/>
<circle cx="138.45" cy="654.82" r="2.05" fill="#ff1414"/>
<circle cx="145.05" cy="657.12" r="2.05" fill="#ff1414"/>
<circle cx="141.65" cy="664.78" r="2.05" fill="#ff1414"/>
<path d="M154.05 677.3V562.05H162.95V677.3" stroke="#ff1414" stroke-width="1.5" fill="none"/>
<line x1="158.5" y1="544.44" x2="158.5" y2="573.06" stroke="#ff1414" stroke-width="1"/>
<line x1="156" y1="544.44" x2="161" y2="544.44" stroke="#ff1414" stroke-width="1"/>
<line x1="156" y1="573.06" x2="161" y2="573.06" stroke="#ff1414" stroke-width="1"/>
<circle cx="158.5" cy="544.44" r="2.05" fill="#ff1414"/>
<circle cx="155.5" cy="569.99" r="2.05" fill="#ff1414"/>
<circle cx="161.7" cy="567.43" r="2.05" fill="#ff1414"/>
<path d="M170.95 677.3V656.84H179.65V677.3" stroke="#ff1414" stroke-width="1.5" fill="none"/>
<line x1="175.3" y1="654.82" x2="175.3" y2="657.37" stroke="#ff1414" stroke-width="1"/>
<line x1="172.8" y1="654.82" x2="177.8" y2="654.82" stroke="#ff1414" stroke-width="1"/>
<line x1="172.8" y1="657.37" x2="177.8" y2="657.37" stroke="#ff1414" stroke-width="1"/>
<circle cx="172.3" cy="656.35" r="2.05" fill="#ff1414"/>
<circle cx="175.3" cy="655.33" r="2.05" fill="#ff1414"/>
<circle cx="178.3" cy="656.86" r="2.05" fill="#ff1414"/>
<path d="M187.65 677.3V655.31H196.65V677.3" stroke="#ff1414" stroke-width="1.5" fill="none"/>
<line x1="192.15" y1="647.15" x2="192.15" y2="661.97" stroke="#ff1414" stroke-width="1"/>
<line x1="189.65" y1="647.15" x2="194.65" y2="647.15" stroke="#ff1414" stroke-width="1"/>
<line x1="189.65" y1="661.97" x2="194.65" y2="661.97" stroke="#ff1414" stroke-width="1"/>
<circle cx="191.85" cy="647.15" r="2.05" fill="#ff1414"/>
<circle cx="189.15" cy="658.14" r="2.05" fill="#ff1414"/>
<circle cx="193.35" cy="659.41" r="2.05" fill="#ff1414"/>
<path d="M216.05 677.3V672.17H225.05V677.3" stroke="#22e622" stroke-width="1.5" fill="none"/>
<line x1="220.55" y1="666.06" x2="220.55" y2="676.79" stroke="#22e622" stroke-width="1"/>
<line x1="218.05" y1="666.06" x2="223.05" y2="666.06" stroke="#22e622" stroke-width="1"/>
<line x1="218.05" y1="676.79" x2="223.05" y2="676.79" stroke="#22e622" stroke-width="1"/>
<circle cx="220.15" cy="666.31" r="2.05" fill="#22e622"/>
<circle cx="223.85" cy="671.93" r="2.05" fill="#22e622"/>
<circle cx="217.25" cy="675.51" r="2.05" fill="#22e622"/>
<path d="M232.75 677.3V662.46H241.45V677.3" stroke="#22e622" stroke-width="1.5" fill="none"/>
<line x1="237.1" y1="656.6" x2="237.1" y2="666.82" stroke="#22e622" stroke-width="1"/>
<line x1="234.6" y1="656.6" x2="239.6" y2="656.6" stroke="#22e622" stroke-width="1"/>
<line x1="234.6" y1="666.82" x2="239.6" y2="666.82" stroke="#22e622" stroke-width="1"/>
<circle cx="237.1" cy="656.6" r="2.05" fill="#22e622"/>
<circle cx="240.7" cy="661.2" r="2.05" fill="#22e622"/>
<circle cx="234.5" cy="664.52" r="2.05" fill="#22e622"/>
<path d="M249.55 677.3V659.65H258.85V677.3" stroke="#22e622" stroke-width="1.5" fill="none"/>
<line x1="254.2" y1="651.49" x2="254.2" y2="666.31" stroke="#22e622" stroke-width="1"/>
<line x1="251.7" y1="651.49" x2="256.7" y2="651.49" stroke="#22e622" stroke-width="1"/>
<line x1="251.7" y1="666.31" x2="256.7" y2="666.31" stroke="#22e622" stroke-width="1"/>
<circle cx="250.7" cy="651.75" r="2.05" fill="#22e622"/>
<circle cx="257.5" cy="651.75" r="2.05" fill="#22e622"/>
<circle cx="253.7" cy="667.08" r="2.05" fill="#22e622"/>
<path d="M266.45 677.3V664.76H275.45V677.3" stroke="#22e622" stroke-width="1.5" fill="none"/>
<line x1="270.95" y1="658.9" x2="270.95" y2="669.12" stroke="#22e622" stroke-width="1"/>
<line x1="268.45" y1="658.9" x2="273.45" y2="658.9" stroke="#22e622" stroke-width="1"/>
<line x1="268.45" y1="669.12" x2="273.45" y2="669.12" stroke="#22e622" stroke-width="1"/>
<circle cx="271.15" cy="658.9" r="2.05" fill="#22e622"/>
<circle cx="274.95" cy="663.5" r="2.05" fill="#22e622"/>
<circle cx="267.35" cy="665.04" r="2.05" fill="#22e622"/>
<path d="M52 523.4V677.9" stroke="#000" stroke-width="1.5" fill="none"/>
<line x1="45.4" y1="677.3" x2="52" y2="677.3" stroke="#000" stroke-width="1.3"/>
<text x="43.6" y="681.04" font-size="10.4" text-anchor="end" stroke="#000" stroke-width="0.22" textLength="5.9" lengthAdjust="spacingAndGlyphs">0</text>
<line x1="45.4" y1="626.2" x2="52" y2="626.2" stroke="#000" stroke-width="1.3"/>
<text x="43.6" y="629.94" font-size="10.4" text-anchor="end" stroke="#000" stroke-width="0.22" textLength="11.8" lengthAdjust="spacingAndGlyphs">20</text>
<line x1="45.4" y1="575.1" x2="52" y2="575.1" stroke="#000" stroke-width="1.3"/>
<text x="43.6" y="578.84" font-size="10.4" text-anchor="end" stroke="#000" stroke-width="0.22" textLength="11.8" lengthAdjust="spacingAndGlyphs">40</text>
<line x1="45.4" y1="524" x2="52" y2="524" stroke="#000" stroke-width="1.3"/>
<text x="43.6" y="527.74" font-size="10.4" text-anchor="end" stroke="#000" stroke-width="0.22" textLength="11.8" lengthAdjust="spacingAndGlyphs">60</text>
<line x1="52" y1="677.3" x2="282.3" y2="677.3" stroke="#000" stroke-width="1.6"/>
<text x="22.6" y="605.7" font-size="9" text-anchor="middle" stroke="#000" stroke-width="0.22" transform="rotate(-90 22.6 605.7)" textLength="61.4" lengthAdjust="spacingAndGlyphs">cell death(%)</text>
<rect x="60.95" y="533.38" width="4.9" height="4.24" fill="none" stroke="#000" stroke-width="1.7"/>
<text x="70.8" y="538.74" font-size="9" stroke="#000" stroke-width="0.22">DMSO</text>
<rect x="60.95" y="545.88" width="4.9" height="4.24" fill="none" stroke="#ff1414" stroke-width="1.7"/>
<text x="70.8" y="551.24" font-size="9" stroke="#000" stroke-width="0.22">RSL3</text>
<rect x="60.95" y="559.38" width="4.9" height="4.24" fill="none" stroke="#22e622" stroke-width="1.7"/>
<text x="70.8" y="564.74" font-size="9" stroke="#000" stroke-width="0.22">RSL3+Fer-1</text>
<text x="153.9" y="519.6" font-size="9.6" fill="#1a1a1a" stroke="#1a1a1a" stroke-width="0.22" textLength="41.7" lengthAdjust="spacingAndGlyphs">p&lt;0.0001</text>
<line x1="157.7" y1="524.9" x2="195.6" y2="524.9" stroke="#000" stroke-width="1.5"/>
<text x="149.9" y="539.4" font-size="9.6" fill="#1a1a1a" stroke="#1a1a1a" stroke-width="0.22" textLength="41.4" lengthAdjust="spacingAndGlyphs">p&lt;0.0001</text>
<line x1="161.2" y1="544" x2="182.9" y2="544" stroke="#000" stroke-width="1.5"/>
<text x="61.1" y="689.4" font-size="8.8" stroke="#000" stroke-width="0.22" transform="rotate(51 61.1 689.4)">NC</text>
<text x="76.5" y="689.4" font-size="8.8" stroke="#000" stroke-width="0.22" transform="rotate(51 76.5 689.4)">FAR1</text>
<text x="93" y="689.4" font-size="8.8" stroke="#000" stroke-width="0.22" transform="rotate(51 93 689.4)">TMEM189</text>
<text x="113.3" y="689.4" font-size="8.8" stroke="#000" stroke-width="0.22" transform="rotate(51 113.3 689.4)">FAR1+TMEM189</text>
<text x="140" y="688.9" font-size="8.8" stroke="#000" stroke-width="0.22" transform="rotate(51 140 688.9)">NC</text>
<text x="155.4" y="688.9" font-size="8.8" stroke="#000" stroke-width="0.22" transform="rotate(51 155.4 688.9)">FAR1</text>
<text x="171.9" y="688.9" font-size="8.8" stroke="#000" stroke-width="0.22" transform="rotate(51 171.9 688.9)">TMEM189</text>
<text x="191.4" y="688.9" font-size="8.8" stroke="#000" stroke-width="0.22" transform="rotate(51 191.4 688.9)">FAR1+TMEM189</text>
<text x="213.3" y="686.6" font-size="8.8" stroke="#000" stroke-width="0.22" transform="rotate(51 213.3 686.6)">NC</text>
<text x="228.6" y="686.6" font-size="8.8" stroke="#000" stroke-width="0.22" transform="rotate(51 228.6 686.6)">FAR1</text>
<text x="245.4" y="686.6" font-size="8.8" stroke="#000" stroke-width="0.22" transform="rotate(51 245.4 686.6)">TMEM189</text>
<text x="265.9" y="686.6" font-size="8.8" stroke="#000" stroke-width="0.22" transform="rotate(51 265.9 686.6)">FAR1+TMEM189</text>
<path d="M505.1 694.6V685.48H513.7V694.6" stroke="#000" stroke-width="1.4" fill="none"/>
<line x1="509.4" y1="681.04" x2="509.4" y2="689.46" stroke="#000" stroke-width="1"/>
<line x1="507" y1="681.04" x2="511.8" y2="681.04" stroke="#000" stroke-width="1"/>
<line x1="507" y1="689.46" x2="511.8" y2="689.46" stroke="#000" stroke-width="1"/>
<circle cx="507" cy="681.74" r="1.85" fill="#000"/>
<circle cx="512" cy="682.91" r="1.85" fill="#000"/>
<circle cx="509.4" cy="689.92" r="1.85" fill="#000"/>
<path d="M521.2 694.6V688.29H529.8V694.6" stroke="#f050dc" stroke-width="1.4" fill="none"/>
<line x1="525.5" y1="686.42" x2="525.5" y2="688.75" stroke="#f050dc" stroke-width="1"/>
<line x1="523.1" y1="686.42" x2="527.9" y2="686.42" stroke="#f050dc" stroke-width="1"/>
<line x1="523.1" y1="688.75" x2="527.9" y2="688.75" stroke="#f050dc" stroke-width="1"/>
<path d="M523 684.24l2.22 4.07h-4.44z" fill="#f050dc"/>
<path d="M525.5 683.78l2.22 4.07h-4.44z" fill="#f050dc"/>
<path d="M528 684.71l2.22 4.07h-4.44z" fill="#f050dc"/>
<path d="M537.3 694.6V687.82H545.9V694.6" stroke="#1010ff" stroke-width="1.4" fill="none"/>
<line x1="541.6" y1="684.08" x2="541.6" y2="689.92" stroke="#1010ff" stroke-width="1"/>
<line x1="539.2" y1="684.08" x2="544" y2="684.08" stroke="#1010ff" stroke-width="1"/>
<line x1="539.2" y1="689.92" x2="544" y2="689.92" stroke="#1010ff" stroke-width="1"/>
<path d="M541.6 681.06l2.04 2.31l-2.04 2.31l-2.04 -2.31z" fill="#1010ff"/>
<path d="M538.8 685.27l2.04 2.31l-2.04 2.31l-2.04 -2.31z" fill="#1010ff"/>
<path d="M544.4 685.27l2.04 2.31l-2.04 2.31l-2.04 -2.31z" fill="#1010ff"/>
<path d="M564.1 694.6V682.91H572.7V694.6" stroke="#000" stroke-width="1.4" fill="none"/>
<line x1="568.4" y1="680.1" x2="568.4" y2="684.08" stroke="#000" stroke-width="1"/>
<line x1="566" y1="680.1" x2="570.8" y2="680.1" stroke="#000" stroke-width="1"/>
<line x1="566" y1="684.08" x2="570.8" y2="684.08" stroke="#000" stroke-width="1"/>
<circle cx="565.8" cy="680.57" r="1.85" fill="#000"/>
<circle cx="571" cy="680.57" r="1.85" fill="#000"/>
<circle cx="568.4" cy="684.08" r="1.85" fill="#000"/>
<path d="M580.2 694.6V606.44H588.8V694.6" stroke="#f050dc" stroke-width="1.4" fill="none"/>
<line x1="584.5" y1="598.73" x2="584.5" y2="611.59" stroke="#f050dc" stroke-width="1"/>
<line x1="582.1" y1="598.73" x2="586.9" y2="598.73" stroke="#f050dc" stroke-width="1"/>
<line x1="582.1" y1="611.59" x2="586.9" y2="611.59" stroke="#f050dc" stroke-width="1"/>
<path d="M584.5 596.32l2.22 4.07h-4.44z" fill="#f050dc"/>
<path d="M584 605.68l2.22 4.07h-4.44z" fill="#f050dc"/>
<path d="M585 608.01l2.22 4.07h-4.44z" fill="#f050dc"/>
<path d="M596.3 694.6V580.72H604.9V694.6" stroke="#1010ff" stroke-width="1.4" fill="none"/>
<line x1="600.6" y1="573.01" x2="600.6" y2="587.04" stroke="#1010ff" stroke-width="1"/>
<line x1="598.2" y1="573.01" x2="603" y2="573.01" stroke="#1010ff" stroke-width="1"/>
<line x1="598.2" y1="587.04" x2="603" y2="587.04" stroke="#1010ff" stroke-width="1"/>
<path d="M600.6 570.69l2.04 2.31l-2.04 2.31l-2.04 -2.31z" fill="#1010ff"/>
<path d="M600.6 576.54l2.04 2.31l-2.04 2.31l-2.04 -2.31z" fill="#1010ff"/>
<path d="M600.6 584.72l2.04 2.31l-2.04 2.31l-2.04 -2.31z" fill="#1010ff"/>
<path d="M623.1 694.6V688.99H631.7V694.6" stroke="#000" stroke-width="1.4" fill="none"/>
<line x1="627.4" y1="683.84" x2="627.4" y2="692.26" stroke="#000" stroke-width="1"/>
<line x1="625" y1="683.84" x2="629.8" y2="683.84" stroke="#000" stroke-width="1"/>
<line x1="625" y1="692.26" x2="629.8" y2="692.26" stroke="#000" stroke-width="1"/>
<circle cx="627.4" cy="683.38" r="1.85" fill="#000"/>
<circle cx="625" cy="690.39" r="1.85" fill="#000"/>
<circle cx="629.8" cy="690.86" r="1.85" fill="#000"/>
<path d="M639.2 694.6V686.41H647.8V694.6" stroke="#f050dc" stroke-width="1.4" fill="none"/>
<line x1="643.5" y1="682.21" x2="643.5" y2="689.92" stroke="#f050dc" stroke-width="1"/>
<line x1="641.1" y1="682.21" x2="645.9" y2="682.21" stroke="#f050dc" stroke-width="1"/>
<line x1="641.1" y1="689.92" x2="645.9" y2="689.92" stroke="#f050dc" stroke-width="1"/>
<path d="M640.9 680.5l2.22 4.07h-4.44z" fill="#f050dc"/>
<path d="M646.1 681.44l2.22 4.07h-4.44z" fill="#f050dc"/>
<path d="M643.5 687.05l2.22 4.07h-4.44z" fill="#f050dc"/>
<path d="M655.3 694.6V685.95H663.9V694.6" stroke="#1010ff" stroke-width="1.4" fill="none"/>
<line x1="659.6" y1="678.23" x2="659.6" y2="691.09" stroke="#1010ff" stroke-width="1"/>
<line x1="657.2" y1="678.23" x2="662" y2="678.23" stroke="#1010ff" stroke-width="1"/>
<line x1="657.2" y1="691.09" x2="662" y2="691.09" stroke="#1010ff" stroke-width="1"/>
<path d="M659.6 675.45l2.04 2.31l-2.04 2.31l-2.04 -2.31z" fill="#1010ff"/>
<path d="M657 685.74l2.04 2.31l-2.04 2.31l-2.04 -2.31z" fill="#1010ff"/>
<path d="M662.2 685.74l2.04 2.31l-2.04 2.31l-2.04 -2.31z" fill="#1010ff"/>
<path d="M498.4 553.7V695.2" stroke="#000" stroke-width="1.5" fill="none"/>
<line x1="493.8" y1="694.6" x2="498.4" y2="694.6" stroke="#000" stroke-width="1.3"/>
<text x="492.4" y="698.06" font-size="9.6" text-anchor="end" stroke="#000" stroke-width="0.22" textLength="4.4" lengthAdjust="spacingAndGlyphs">0</text>
<line x1="493.8" y1="647.83" x2="498.4" y2="647.83" stroke="#000" stroke-width="1.3"/>
<text x="492.4" y="651.29" font-size="9.6" text-anchor="end" stroke="#000" stroke-width="0.22" textLength="8.8" lengthAdjust="spacingAndGlyphs">20</text>
<line x1="493.8" y1="601.07" x2="498.4" y2="601.07" stroke="#000" stroke-width="1.3"/>
<text x="492.4" y="604.52" font-size="9.6" text-anchor="end" stroke="#000" stroke-width="0.22" textLength="8.8" lengthAdjust="spacingAndGlyphs">40</text>
<line x1="493.8" y1="554.3" x2="498.4" y2="554.3" stroke="#000" stroke-width="1.3"/>
<text x="492.4" y="557.76" font-size="9.6" text-anchor="end" stroke="#000" stroke-width="0.22" textLength="8.8" lengthAdjust="spacingAndGlyphs">60</text>
<line x1="498.3" y1="694.6" x2="670" y2="694.6" stroke="#000" stroke-width="1.6"/>
<text x="474.4" y="633.7" font-size="8.6" text-anchor="middle" stroke="#000" stroke-width="0.22" transform="rotate(-90 474.4 633.7)" textLength="61" lengthAdjust="spacingAndGlyphs">cell death(%)</text>
<rect x="617.15" y="559.38" width="4.9" height="4.24" fill="none" stroke="#000" stroke-width="1.7"/>
<text x="626" y="564.67" font-size="8.8" stroke="#000" stroke-width="0.22">sgNC</text>
<rect x="617.15" y="573.18" width="4.9" height="4.24" fill="none" stroke="#f050dc" stroke-width="1.7"/>
<text x="626" y="578.47" font-size="8.8" stroke="#000" stroke-width="0.22" textLength="60.5" lengthAdjust="spacingAndGlyphs">TMEM189-sg1</text>
<rect x="617.15" y="587.48" width="4.9" height="4.24" fill="none" stroke="#1010ff" stroke-width="1.7"/>
<text x="626" y="592.77" font-size="8.8" stroke="#000" stroke-width="0.22" textLength="60.5" lengthAdjust="spacingAndGlyphs">TMEM189-sg2</text>
<text x="559.8" y="560.4" font-size="9.6" fill="#1a1a1a" stroke="#1a1a1a" stroke-width="0.22" textLength="41.9" lengthAdjust="spacingAndGlyphs">p&lt;0.0001</text>
<line x1="562.7" y1="566.5" x2="601.7" y2="566.5" stroke="#000" stroke-width="1.5"/>
<text x="550.9" y="589" font-size="9.6" fill="#1a1a1a" stroke="#1a1a1a" stroke-width="0.22" textLength="42.9" lengthAdjust="spacingAndGlyphs">p&lt;0.0001</text>
<line x1="563.4" y1="594.4" x2="583.1" y2="594.4" stroke="#000" stroke-width="1.5"/>
<text x="527.4" y="708.8" font-size="9.8" text-anchor="middle" stroke="#000" stroke-width="0.22" textLength="30" lengthAdjust="spacingAndGlyphs">DMSO</text>
<text x="587" y="708.8" font-size="9.8" text-anchor="middle" stroke="#000" stroke-width="0.22" textLength="25.4" lengthAdjust="spacingAndGlyphs">RSL3</text>
<text x="648.4" y="708.8" font-size="9.8" text-anchor="middle" stroke="#000" stroke-width="0.22" textLength="53.6" lengthAdjust="spacingAndGlyphs">RSL3+Fer-1</text>
<text x="186.5" y="760.5" font-size="14.5" stroke="#000" stroke-width="0.22">j</text>
<path d="M235.9 896.1V890.22H244.3V896.1" stroke="#f050dc" stroke-width="1.4" fill="none"/>
<line x1="240.1" y1="884.91" x2="240.1" y2="894.13" stroke="#f050dc" stroke-width="1"/>
<line x1="237.8" y1="884.91" x2="242.4" y2="884.91" stroke="#f050dc" stroke-width="1"/>
<line x1="237.8" y1="894.13" x2="242.4" y2="894.13" stroke="#f050dc" stroke-width="1"/>
<path d="M240.1 882.57l2.16 3.96h-4.32z" fill="#f050dc"/>
<path d="M242.5 889.15l2.16 3.96h-4.32z" fill="#f050dc"/>
<path d="M237.7 889.81l2.16 3.96h-4.32z" fill="#f050dc"/>
<path d="M251.1 896.1V890.88H259.7V896.1" stroke="#f050dc" stroke-width="1.4" fill="none"/>
<line x1="255.4" y1="887.94" x2="255.4" y2="892.42" stroke="#f050dc" stroke-width="1"/>
<line x1="253.1" y1="887.94" x2="257.7" y2="887.94" stroke="#f050dc" stroke-width="1"/>
<line x1="253.1" y1="892.42" x2="257.7" y2="892.42" stroke="#f050dc" stroke-width="1"/>
<path d="M252.8 886.13l2.16 3.96h-4.32z" fill="#f050dc"/>
<path d="M258 886.92l2.16 3.96h-4.32z" fill="#f050dc"/>
<path d="M255.4 890.47l2.16 3.96h-4.32z" fill="#f050dc"/>
<path d="M267 896.1V788.23H275.6V896.1" stroke="#f050dc" stroke-width="1.4" fill="none"/>
<line x1="271.3" y1="780.95" x2="271.3" y2="793.45" stroke="#f050dc" stroke-width="1"/>
<line x1="269" y1="780.95" x2="273.6" y2="780.95" stroke="#f050dc" stroke-width="1"/>
<line x1="269" y1="793.45" x2="273.6" y2="793.45" stroke="#f050dc" stroke-width="1"/>
<path d="M271.3 778.61l2.16 3.96h-4.32z" fill="#f050dc"/>
<path d="M268.5 788.48l2.16 3.96h-4.32z" fill="#f050dc"/>
<path d="M274.1 788.48l2.16 3.96h-4.32z" fill="#f050dc"/>
<path d="M282.8 896.1V876.4H291.2V896.1" stroke="#f050dc" stroke-width="1.4" fill="none"/>
<line x1="287" y1="873.73" x2="287" y2="877.68" stroke="#f050dc" stroke-width="1"/>
<line x1="284.7" y1="873.73" x2="289.3" y2="873.73" stroke="#f050dc" stroke-width="1"/>
<line x1="284.7" y1="877.68" x2="289.3" y2="877.68" stroke="#f050dc" stroke-width="1"/>
<path d="M287 871.39l2.16 3.96h-4.32z" fill="#f050dc"/>
<path d="M284.4 874.55l2.16 3.96h-4.32z" fill="#f050dc"/>
<path d="M289.6 874.28l2.16 3.96h-4.32z" fill="#f050dc"/>
<path d="M308.8 896.1V889.56H317.3V896.1" stroke="#1010ff" stroke-width="1.4" fill="none"/>
<line x1="313.05" y1="886.89" x2="313.05" y2="890.84" stroke="#1010ff" stroke-width="1"/>
<line x1="310.75" y1="886.89" x2="315.35" y2="886.89" stroke="#1010ff" stroke-width="1"/>
<line x1="310.75" y1="890.84" x2="315.35" y2="890.84" stroke="#1010ff" stroke-width="1"/>
<path d="M313.05 884.64l1.98 2.25l-1.98 2.25l-1.98 -2.25z" fill="#1010ff"/>
<path d="M310.65 887.8l1.98 2.25l-1.98 2.25l-1.98 -2.25z" fill="#1010ff"/>
<path d="M315.45 887.8l1.98 2.25l-1.98 2.25l-1.98 -2.25z" fill="#1010ff"/>
<path d="M324.8 896.1V883.38H333.2V896.1" stroke="#1010ff" stroke-width="1.4" fill="none"/>
<line x1="329" y1="880.31" x2="329" y2="884.78" stroke="#1010ff" stroke-width="1"/>
<line x1="326.7" y1="880.31" x2="331.3" y2="880.31" stroke="#1010ff" stroke-width="1"/>
<line x1="326.7" y1="884.78" x2="331.3" y2="884.78" stroke="#1010ff" stroke-width="1"/>
<path d="M329 878.06l1.98 2.25l-1.98 2.25l-1.98 -2.25z" fill="#1010ff"/>
<path d="M326.4 881.22l1.98 2.25l-1.98 2.25l-1.98 -2.25z" fill="#1010ff"/>
<path d="M331.6 881.22l1.98 2.25l-1.98 2.25l-1.98 -2.25z" fill="#1010ff"/>
<path d="M340.1 896.1V811.39H348.5V896.1" stroke="#1010ff" stroke-width="1.4" fill="none"/>
<line x1="344.3" y1="802.01" x2="344.3" y2="818.46" stroke="#1010ff" stroke-width="1"/>
<line x1="342" y1="802.01" x2="346.6" y2="802.01" stroke="#1010ff" stroke-width="1"/>
<line x1="342" y1="818.46" x2="346.6" y2="818.46" stroke="#1010ff" stroke-width="1"/>
<path d="M344.3 799.76l1.98 2.25l-1.98 2.25l-1.98 -2.25z" fill="#1010ff"/>
<path d="M344.3 814.89l1.98 2.25l-1.98 2.25l-1.98 -2.25z" fill="#1010ff"/>
<path d="M344.3 809.63l1.98 2.25l-1.98 2.25l-1.98 -2.25z" fill="#1010ff"/>
<path d="M356.1 896.1V880.09H364.5V896.1" stroke="#1010ff" stroke-width="1.4" fill="none"/>
<line x1="360.3" y1="871.1" x2="360.3" y2="886.23" stroke="#1010ff" stroke-width="1"/>
<line x1="358" y1="871.1" x2="362.6" y2="871.1" stroke="#1010ff" stroke-width="1"/>
<line x1="358" y1="886.23" x2="362.6" y2="886.23" stroke="#1010ff" stroke-width="1"/>
<path d="M360.3 868.85l1.98 2.25l-1.98 2.25l-1.98 -2.25z" fill="#1010ff"/>
<path d="M357.8 879.37l1.98 2.25l-1.98 2.25l-1.98 -2.25z" fill="#1010ff"/>
<path d="M362.8 879.37l1.98 2.25l-1.98 2.25l-1.98 -2.25z" fill="#1010ff"/>
<path d="M229.5 763.9V896.7" stroke="#000" stroke-width="1.5" fill="none"/>
<line x1="224.3" y1="896.1" x2="229.5" y2="896.1" stroke="#000" stroke-width="1.3"/>
<text x="223.9" y="899.2" font-size="8.6" text-anchor="end" stroke="#000" stroke-width="0.22" textLength="3.7" lengthAdjust="spacingAndGlyphs">0</text>
<line x1="224.3" y1="869.78" x2="229.5" y2="869.78" stroke="#000" stroke-width="1.3"/>
<text x="223.9" y="872.88" font-size="8.6" text-anchor="end" stroke="#000" stroke-width="0.22" textLength="7.4" lengthAdjust="spacingAndGlyphs">20</text>
<line x1="224.3" y1="843.46" x2="229.5" y2="843.46" stroke="#000" stroke-width="1.3"/>
<text x="223.9" y="846.56" font-size="8.6" text-anchor="end" stroke="#000" stroke-width="0.22" textLength="7.4" lengthAdjust="spacingAndGlyphs">40</text>
<line x1="224.3" y1="817.14" x2="229.5" y2="817.14" stroke="#000" stroke-width="1.3"/>
<text x="223.9" y="820.24" font-size="8.6" text-anchor="end" stroke="#000" stroke-width="0.22" textLength="7.4" lengthAdjust="spacingAndGlyphs">60</text>
<line x1="224.3" y1="790.82" x2="229.5" y2="790.82" stroke="#000" stroke-width="1.3"/>
<text x="223.9" y="793.92" font-size="8.6" text-anchor="end" stroke="#000" stroke-width="0.22" textLength="7.4" lengthAdjust="spacingAndGlyphs">80</text>
<line x1="224.3" y1="764.5" x2="229.5" y2="764.5" stroke="#000" stroke-width="1.3"/>
<text x="223.9" y="767.6" font-size="8.6" text-anchor="end" stroke="#000" stroke-width="0.22" textLength="11.1" lengthAdjust="spacingAndGlyphs">100</text>
<line x1="229.5" y1="896.1" x2="370.7" y2="896.1" stroke="#000" stroke-width="1.6"/>
<text x="203.4" y="829.8" font-size="8.6" text-anchor="middle" stroke="#000" stroke-width="0.22" transform="rotate(-90 203.4 829.8)" textLength="62" lengthAdjust="spacingAndGlyphs">cell death(%)</text>
<rect x="311.65" y="745.91" width="5.5" height="4.78" fill="none" stroke="#f050dc" stroke-width="1.7"/>
<text x="322" y="751.4" font-size="8.6" stroke="#000" stroke-width="0.22" textLength="57.5" lengthAdjust="spacingAndGlyphs">TMEM189-sg1</text>
<rect x="311.65" y="760.21" width="5.5" height="4.78" fill="none" stroke="#1010ff" stroke-width="1.7"/>
<text x="322" y="765.7" font-size="8.6" stroke="#000" stroke-width="0.22" textLength="57.5" lengthAdjust="spacingAndGlyphs">TMEM189-sg2</text>
<text x="257.3" y="771.5" font-size="9.6" fill="#1a1a1a" stroke="#1a1a1a" stroke-width="0.22" textLength="42.3" lengthAdjust="spacingAndGlyphs">p&lt;0.0001</text>
<line x1="273.1" y1="775.2" x2="290.8" y2="775.2" stroke="#000" stroke-width="1.5"/>
<text x="329.6" y="789.9" font-size="9.6" fill="#1a1a1a" stroke="#1a1a1a" stroke-width="0.22" textLength="42" lengthAdjust="spacingAndGlyphs">p&lt;0.0001</text>
<line x1="340.6" y1="794.4" x2="362.4" y2="794.4" stroke="#000" stroke-width="1.5"/>
<text x="226.1" y="913.2" font-size="9.8" text-anchor="end" stroke="#000" stroke-width="0.22" textLength="28.4" lengthAdjust="spacingAndGlyphs">RSL-3</text>
<text x="226.6" y="930" font-size="9.2" text-anchor="end" stroke="#000" stroke-width="0.22" textLength="45.5" lengthAdjust="spacingAndGlyphs">TMEM189</text>
<text x="240.1" y="913.4" font-size="9.2" text-anchor="middle" stroke="#000" stroke-width="0.22">-</text>
<text x="240.1" y="930" font-size="9.2" text-anchor="middle" stroke="#000" stroke-width="0.22">-</text>
<text x="255.4" y="913.4" font-size="9.2" text-anchor="middle" stroke="#000" stroke-width="0.22">-</text>
<text x="255.4" y="930" font-size="9.2" text-anchor="middle" stroke="#000" stroke-width="0.22">+</text>
<text x="271.3" y="913.4" font-size="9.2" text-anchor="middle" stroke="#000" stroke-width="0.22">+</text>
<text x="271.3" y="930" font-size="9.2" text-anchor="middle" stroke="#000" stroke-width="0.22">-</text>
<text x="287" y="913.4" font-size="9.2" text-anchor="middle" stroke="#000" stroke-width="0.22">+</text>
<text x="287" y="930" font-size="9.2" text-anchor="middle" stroke="#000" stroke-width="0.22">+</text>
<text x="313.05" y="913.4" font-size="9.2" text-anchor="middle" stroke="#000" stroke-width="0.22">-</text>
<text x="313.05" y="930" font-size="9.2" text-anchor="middle" stroke="#000" stroke-width="0.22">-</text>
<text x="329" y="913.4" font-size="9.2" text-anchor="middle" stroke="#000" stroke-width="0.22">-</text>
<text x="329" y="930" font-size="9.2" text-anchor="middle" stroke="#000" stroke-width="0.22">+</text>
<text x="344.3" y="913.4" font-size="9.2" text-anchor="middle" stroke="#000" stroke-width="0.22">+</text>
<text x="344.3" y="930" font-size="9.2" text-anchor="middle" stroke="#000" stroke-width="0.22">-</text>
<text x="360.3" y="913.4" font-size="9.2" text-anchor="middle" stroke="#000" stroke-width="0.22">+</text>
<text x="360.3" y="930" font-size="9.2" text-anchor="middle" stroke="#000" stroke-width="0.22">+</text>
<text x="498.6" y="762.9" font-size="14.5" stroke="#000" stroke-width="0.22">l</text>
<path d="M561.25 903.1V895.88H570.55V903.1" stroke="#000" stroke-width="1.5" fill="none"/>
<line x1="565.9" y1="891.5" x2="565.9" y2="898.75" stroke="#000" stroke-width="1"/>
<line x1="563.3" y1="891.5" x2="568.5" y2="891.5" stroke="#000" stroke-width="1"/>
<line x1="563.3" y1="898.75" x2="568.5" y2="898.75" stroke="#000" stroke-width="1"/>
<circle cx="563.1" cy="891.79" r="1.9" fill="#000"/>
<circle cx="568.9" cy="894.4" r="1.9" fill="#000"/>
<circle cx="565.9" cy="898.46" r="1.9" fill="#000"/>
<path d="M578.55 903.1V892.54H587.85V903.1" stroke="#000" stroke-width="1.5" fill="none"/>
<line x1="583.2" y1="889.47" x2="583.2" y2="894.11" stroke="#000" stroke-width="1"/>
<line x1="580.6" y1="889.47" x2="585.8" y2="889.47" stroke="#000" stroke-width="1"/>
<line x1="580.6" y1="894.11" x2="585.8" y2="894.11" stroke="#000" stroke-width="1"/>
<circle cx="580.2" cy="891.5" r="1.9" fill="#000"/>
<circle cx="583.2" cy="889.47" r="1.9" fill="#000"/>
<circle cx="586.2" cy="891.5" r="1.9" fill="#000"/>
<path d="M596.15 903.1V891.38H605.45V903.1" stroke="#000" stroke-width="1.5" fill="none"/>
<line x1="600.8" y1="887.44" x2="600.8" y2="893.97" stroke="#000" stroke-width="1"/>
<line x1="598.2" y1="887.44" x2="603.4" y2="887.44" stroke="#000" stroke-width="1"/>
<line x1="598.2" y1="893.97" x2="603.4" y2="893.97" stroke="#000" stroke-width="1"/>
<circle cx="598.2" cy="887.44" r="1.9" fill="#000"/>
<circle cx="603.4" cy="888.31" r="1.9" fill="#000"/>
<circle cx="600.3" cy="893.68" r="1.9" fill="#000"/>
<path d="M625.55 903.1V780.02H635.35V903.1" stroke="#f050dc" stroke-width="1.5" fill="none"/>
<line x1="630.45" y1="771.88" x2="630.45" y2="786.38" stroke="#f050dc" stroke-width="1"/>
<line x1="627.85" y1="771.88" x2="633.05" y2="771.88" stroke="#f050dc" stroke-width="1"/>
<line x1="627.85" y1="786.38" x2="633.05" y2="786.38" stroke="#f050dc" stroke-width="1"/>
<path d="M630.45 768.68l2.28 4.18h-4.56z" fill="#f050dc"/>
<path d="M630.45 778.83l2.28 4.18h-4.56z" fill="#f050dc"/>
<path d="M630.45 783.18l2.28 4.18h-4.56z" fill="#f050dc"/>
<path d="M643.15 903.1V858.18H652.95V903.1" stroke="#f050dc" stroke-width="1.5" fill="none"/>
<line x1="648.05" y1="850.18" x2="648.05" y2="864.68" stroke="#f050dc" stroke-width="1"/>
<line x1="645.45" y1="850.18" x2="650.65" y2="850.18" stroke="#f050dc" stroke-width="1"/>
<line x1="645.45" y1="864.68" x2="650.65" y2="864.68" stroke="#f050dc" stroke-width="1"/>
<path d="M648.05 846.98l2.28 4.18h-4.56z" fill="#f050dc"/>
<path d="M648.05 854.96l2.28 4.18h-4.56z" fill="#f050dc"/>
<path d="M648.05 860.03l2.28 4.18h-4.56z" fill="#f050dc"/>
<path d="M660.95 903.1V879.78H670.55V903.1" stroke="#f050dc" stroke-width="1.5" fill="none"/>
<line x1="665.75" y1="874.83" x2="665.75" y2="882.8" stroke="#f050dc" stroke-width="1"/>
<line x1="663.15" y1="874.83" x2="668.35" y2="874.83" stroke="#f050dc" stroke-width="1"/>
<line x1="663.15" y1="882.8" x2="668.35" y2="882.8" stroke="#f050dc" stroke-width="1"/>
<path d="M665.75 871.63l2.28 4.18h-4.56z" fill="#f050dc"/>
<path d="M663.15 878.15l2.28 4.18h-4.56z" fill="#f050dc"/>
<path d="M668.35 877.43l2.28 4.18h-4.56z" fill="#f050dc"/>
<path d="M553.7 757.5V903.7" stroke="#000" stroke-width="1.5" fill="none"/>
<line x1="548.1" y1="903.1" x2="553.7" y2="903.1" stroke="#000" stroke-width="1.3"/>
<text x="546.7" y="906.56" font-size="9.6" text-anchor="end" stroke="#000" stroke-width="0.22">0</text>
<line x1="548.1" y1="874.1" x2="553.7" y2="874.1" stroke="#000" stroke-width="1.3"/>
<text x="546.7" y="877.56" font-size="9.6" text-anchor="end" stroke="#000" stroke-width="0.22">20</text>
<line x1="548.1" y1="845.1" x2="553.7" y2="845.1" stroke="#000" stroke-width="1.3"/>
<text x="546.7" y="848.56" font-size="9.6" text-anchor="end" stroke="#000" stroke-width="0.22">40</text>
<line x1="548.1" y1="816.1" x2="553.7" y2="816.1" stroke="#000" stroke-width="1.3"/>
<text x="546.7" y="819.56" font-size="9.6" text-anchor="end" stroke="#000" stroke-width="0.22">60</text>
<line x1="548.1" y1="787.1" x2="553.7" y2="787.1" stroke="#000" stroke-width="1.3"/>
<text x="546.7" y="790.56" font-size="9.6" text-anchor="end" stroke="#000" stroke-width="0.22">80</text>
<line x1="548.1" y1="758.1" x2="553.7" y2="758.1" stroke="#000" stroke-width="1.3"/>
<text x="546.7" y="761.56" font-size="9.6" text-anchor="end" stroke="#000" stroke-width="0.22">100</text>
<line x1="553.7" y1="903.1" x2="678.5" y2="903.1" stroke="#000" stroke-width="1.6"/>
<text x="533.2" y="821.3" font-size="9" text-anchor="middle" stroke="#000" stroke-width="0.22" transform="rotate(-90 533.2 821.3)" textLength="61.4" lengthAdjust="spacingAndGlyphs">cell death(%)</text>
<rect x="553.35" y="768.19" width="5.1" height="4.42" fill="none" stroke="#000" stroke-width="1.7"/>
<text x="565.8" y="773.86" font-size="9.6" stroke="#000" stroke-width="0.22">+Fer-1</text>
<rect x="553.35" y="780.99" width="5.1" height="4.42" fill="none" stroke="#f050dc" stroke-width="1.7"/>
<text x="567" y="786.66" font-size="9.6" stroke="#000" stroke-width="0.22">-Fer-1</text>
<text x="621.7" y="742.3" font-size="9.6" fill="#1a1a1a" stroke="#1a1a1a" stroke-width="0.22" textLength="42.3" lengthAdjust="spacingAndGlyphs">p&lt;0.0001</text>
<line x1="624.2" y1="747" x2="664" y2="747" stroke="#000" stroke-width="1.5"/>
<text x="617.5" y="760" font-size="9.6" fill="#1a1a1a" stroke="#1a1a1a" stroke-width="0.22" textLength="42" lengthAdjust="spacingAndGlyphs">p&lt;0.0001</text>
<line x1="629" y1="764.5" x2="650.7" y2="764.5" stroke="#000" stroke-width="1.5"/>
<text x="560.8" y="914.3" font-size="9" stroke="#000" stroke-width="0.22" transform="rotate(50 560.8 914.3)">NC</text>
<text x="573.2" y="914.3" font-size="9" stroke="#000" stroke-width="0.22" transform="rotate(50 573.2 914.3)">TMEM189</text>
<text x="590" y="914.3" font-size="9" stroke="#000" stroke-width="0.22" transform="rotate(50 590 914.3)">GPX4</text>
<text x="626.9" y="914.3" font-size="9" stroke="#000" stroke-width="0.22" transform="rotate(50 626.9 914.3)">NC</text>
<text x="639.7" y="914.3" font-size="9" stroke="#000" stroke-width="0.22" transform="rotate(50 639.7 914.3)">TMEM189</text>
<text x="657" y="914.3" font-size="9" stroke="#000" stroke-width="0.22" transform="rotate(50 657 914.3)">GPX4</text>
</svg>
</body></html>
